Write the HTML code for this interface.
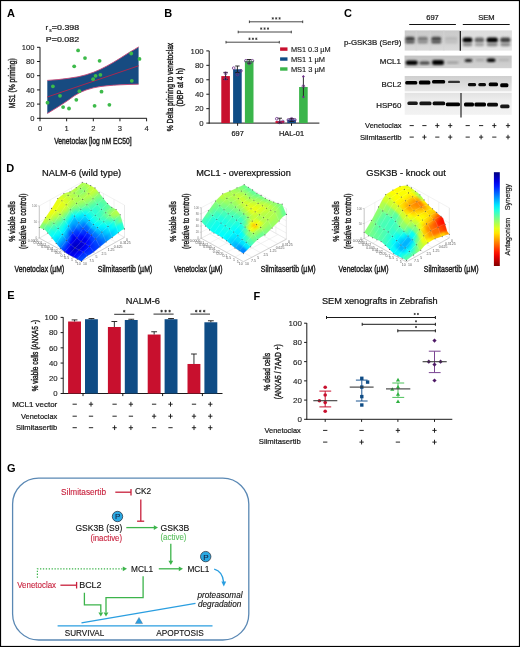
<!DOCTYPE html>
<html><head><meta charset="utf-8"><style>
html,body{margin:0;padding:0;background:#fff;overflow:hidden;}
svg{display:block;}
text{font-family:"Liberation Sans", sans-serif;}
svg{will-change:transform;}
</style></head><body>
<svg width="520" height="647" viewBox="0 0 520 647">
<rect x="0" y="0" width="520" height="647" fill="#fff"/>
<text x="6.90" y="16.80" font-size="11" fill="#000" font-weight="bold">A</text>
<text x="45.60" y="30.30" font-size="7.9" fill="#1a1a1a" stroke="#1a1a1a" stroke-width="0.22">r</text>
<text x="49.20" y="31.80" font-size="4.8" fill="#1a1a1a" stroke="#1a1a1a" stroke-width="0.15">s</text>
<text x="51.80" y="30.30" font-size="7.9" fill="#1a1a1a" stroke="#1a1a1a" stroke-width="0.22" textLength="27.4" lengthAdjust="spacingAndGlyphs">=0.398</text>
<text x="45.80" y="41.90" font-size="7.9" fill="#1a1a1a" stroke="#1a1a1a" stroke-width="0.22" textLength="33.4" lengthAdjust="spacingAndGlyphs">P=0.082</text>
<path d="M47.3,80.4 L58,79.6 L68.5,78.3 L78,76.8 L86,74.8 L93.5,72.3 L100,69.5 L106.9,66 L113.5,62.3 L120.4,58.1 L126,54.5 L130,52 L134.5,49.4 L138.6,46.9 L138.6,84.2 L130,84.4 L120.4,84.8 L113.5,85.2 L106.9,85.8 L100,86.6 L93.5,87.8 L86,90 L80,92.5 L74,96 L68.5,100 L64,103 L58.8,106.4 L53,110 L47.3,113.5 Z" fill="#174b81"/>
<path d="M47.3,80.4 L58,79.6 L68.5,78.3 L78,76.8 L86,74.8 L93.5,72.3 L100,69.5 L106.9,66 L113.5,62.3 L120.4,58.1 L126,54.5 L130,52 L134.5,49.4 L138.6,46.9" fill="none" stroke="#c84a78" stroke-width="0.9"/>
<path d="M47.3,113.5 L53,110 L58.8,106.4 L64,103 L68.5,100 L74,96 L80,92.5 L86,90 L93.5,87.8 L100,86.6 L106.9,85.8 L113.5,85.2 L120.4,84.8 L130,84.4 L138.6,84.2" fill="none" stroke="#c84a78" stroke-width="0.9"/>
<line x1="47.30" y1="97.00" x2="138.60" y2="65.80" stroke="#a8284f" stroke-width="1"/>
<line x1="40.00" y1="47.20" x2="40.00" y2="118.80" stroke="#1a1a1a" stroke-width="1"/>
<line x1="39.50" y1="118.30" x2="146.80" y2="118.30" stroke="#1a1a1a" stroke-width="1"/>
<line x1="37.00" y1="118.30" x2="40.00" y2="118.30" stroke="#1a1a1a" stroke-width="1"/>
<text x="34.40" y="121.00" font-size="7.6" fill="#1a1a1a" stroke="#1a1a1a" stroke-width="0.12" text-anchor="end">0</text>
<line x1="37.00" y1="104.10" x2="40.00" y2="104.10" stroke="#1a1a1a" stroke-width="1"/>
<text x="34.40" y="106.80" font-size="7.6" fill="#1a1a1a" stroke="#1a1a1a" stroke-width="0.12" text-anchor="end">20</text>
<line x1="37.00" y1="89.90" x2="40.00" y2="89.90" stroke="#1a1a1a" stroke-width="1"/>
<text x="34.40" y="92.60" font-size="7.6" fill="#1a1a1a" stroke="#1a1a1a" stroke-width="0.12" text-anchor="end">40</text>
<line x1="37.00" y1="75.70" x2="40.00" y2="75.70" stroke="#1a1a1a" stroke-width="1"/>
<text x="34.40" y="78.40" font-size="7.6" fill="#1a1a1a" stroke="#1a1a1a" stroke-width="0.12" text-anchor="end">60</text>
<line x1="37.00" y1="61.50" x2="40.00" y2="61.50" stroke="#1a1a1a" stroke-width="1"/>
<text x="34.40" y="64.20" font-size="7.6" fill="#1a1a1a" stroke="#1a1a1a" stroke-width="0.12" text-anchor="end">80</text>
<line x1="37.00" y1="47.30" x2="40.00" y2="47.30" stroke="#1a1a1a" stroke-width="1"/>
<text x="34.40" y="50.00" font-size="7.6" fill="#1a1a1a" stroke="#1a1a1a" stroke-width="0.12" text-anchor="end">100</text>
<line x1="40.00" y1="118.30" x2="40.00" y2="121.30" stroke="#1a1a1a" stroke-width="1"/>
<text x="40.00" y="131.00" font-size="7.6" fill="#1a1a1a" stroke="#1a1a1a" stroke-width="0.12" text-anchor="middle">0</text>
<line x1="66.65" y1="118.30" x2="66.65" y2="121.30" stroke="#1a1a1a" stroke-width="1"/>
<text x="66.65" y="131.00" font-size="7.6" fill="#1a1a1a" stroke="#1a1a1a" stroke-width="0.12" text-anchor="middle">1</text>
<line x1="93.30" y1="118.30" x2="93.30" y2="121.30" stroke="#1a1a1a" stroke-width="1"/>
<text x="93.30" y="131.00" font-size="7.6" fill="#1a1a1a" stroke="#1a1a1a" stroke-width="0.12" text-anchor="middle">2</text>
<line x1="119.95" y1="118.30" x2="119.95" y2="121.30" stroke="#1a1a1a" stroke-width="1"/>
<text x="119.95" y="131.00" font-size="7.6" fill="#1a1a1a" stroke="#1a1a1a" stroke-width="0.12" text-anchor="middle">3</text>
<line x1="146.60" y1="118.30" x2="146.60" y2="121.30" stroke="#1a1a1a" stroke-width="1"/>
<text x="146.60" y="131.00" font-size="7.6" fill="#1a1a1a" stroke="#1a1a1a" stroke-width="0.12" text-anchor="middle">4</text>
<text x="54.20" y="144.00" font-size="8.8" fill="#1a1a1a" stroke="#1a1a1a" stroke-width="0.4" textLength="77.4" lengthAdjust="spacingAndGlyphs">Venetoclax [log nM EC50]</text>
<text x="15.00" y="108.20" font-size="8.8" fill="#1a1a1a" stroke="#1a1a1a" stroke-width="0.4" textLength="50" lengthAdjust="spacingAndGlyphs" transform="rotate(-90 15.00 108.20)">MS1 (% priming)</text>
<circle cx="78.10" cy="50.40" r="1.9" fill="#3dba4a"/>
<circle cx="85.00" cy="58.10" r="1.9" fill="#3dba4a"/>
<circle cx="74.20" cy="66.30" r="1.9" fill="#3dba4a"/>
<circle cx="99.60" cy="60.80" r="1.9" fill="#3dba4a"/>
<circle cx="95.60" cy="75.80" r="1.9" fill="#3dba4a"/>
<circle cx="100.40" cy="74.80" r="1.9" fill="#3dba4a"/>
<circle cx="93.10" cy="79.20" r="1.9" fill="#3dba4a"/>
<circle cx="52.90" cy="86.30" r="1.9" fill="#3dba4a"/>
<circle cx="79.40" cy="91.20" r="1.9" fill="#3dba4a"/>
<circle cx="101.50" cy="91.70" r="1.9" fill="#3dba4a"/>
<circle cx="60.00" cy="95.80" r="1.9" fill="#3dba4a"/>
<circle cx="47.50" cy="102.70" r="1.9" fill="#3dba4a"/>
<circle cx="76.30" cy="99.80" r="1.9" fill="#3dba4a"/>
<circle cx="63.10" cy="107.10" r="1.9" fill="#3dba4a"/>
<circle cx="69.00" cy="108.50" r="1.9" fill="#3dba4a"/>
<circle cx="94.60" cy="105.80" r="1.9" fill="#3dba4a"/>
<circle cx="109.40" cy="104.80" r="1.9" fill="#3dba4a"/>
<circle cx="131.20" cy="53.50" r="1.9" fill="#3dba4a"/>
<circle cx="139.50" cy="58.90" r="1.9" fill="#3dba4a"/>
<circle cx="131.80" cy="80.80" r="1.9" fill="#3dba4a"/>
<text x="164.30" y="16.80" font-size="11" fill="#000" font-weight="bold">B</text>
<line x1="209.20" y1="50.90" x2="209.20" y2="123.60" stroke="#1a1a1a" stroke-width="1"/>
<line x1="208.70" y1="123.10" x2="319.40" y2="123.10" stroke="#1a1a1a" stroke-width="1"/>
<line x1="206.30" y1="123.10" x2="209.20" y2="123.10" stroke="#1a1a1a" stroke-width="1"/>
<text x="203.60" y="125.90" font-size="7.8" fill="#1a1a1a" stroke="#1a1a1a" stroke-width="0.12" text-anchor="end">0</text>
<line x1="206.30" y1="108.66" x2="209.20" y2="108.66" stroke="#1a1a1a" stroke-width="1"/>
<text x="203.60" y="111.46" font-size="7.8" fill="#1a1a1a" stroke="#1a1a1a" stroke-width="0.12" text-anchor="end">20</text>
<line x1="206.30" y1="94.22" x2="209.20" y2="94.22" stroke="#1a1a1a" stroke-width="1"/>
<text x="203.60" y="97.02" font-size="7.8" fill="#1a1a1a" stroke="#1a1a1a" stroke-width="0.12" text-anchor="end">40</text>
<line x1="206.30" y1="79.78" x2="209.20" y2="79.78" stroke="#1a1a1a" stroke-width="1"/>
<text x="203.60" y="82.58" font-size="7.8" fill="#1a1a1a" stroke="#1a1a1a" stroke-width="0.12" text-anchor="end">60</text>
<line x1="206.30" y1="65.34" x2="209.20" y2="65.34" stroke="#1a1a1a" stroke-width="1"/>
<text x="203.60" y="68.14" font-size="7.8" fill="#1a1a1a" stroke="#1a1a1a" stroke-width="0.12" text-anchor="end">80</text>
<line x1="206.30" y1="50.90" x2="209.20" y2="50.90" stroke="#1a1a1a" stroke-width="1"/>
<text x="203.60" y="53.70" font-size="7.8" fill="#1a1a1a" stroke="#1a1a1a" stroke-width="0.12" text-anchor="end">100</text>
<line x1="237.60" y1="123.10" x2="237.60" y2="125.80" stroke="#1a1a1a" stroke-width="1"/>
<line x1="291.50" y1="123.10" x2="291.50" y2="125.80" stroke="#1a1a1a" stroke-width="1"/>
<text x="237.60" y="135.70" font-size="7.4" fill="#1a1a1a" stroke="#1a1a1a" stroke-width="0.22" text-anchor="middle">697</text>
<text x="291.50" y="135.70" font-size="7.4" fill="#1a1a1a" stroke="#1a1a1a" stroke-width="0.22" text-anchor="middle">HAL-01</text>
<rect x="221.30" y="76.10" width="8.60" height="47.00" fill="#c8102e"/>
<rect x="233.10" y="69.31" width="8.60" height="53.79" fill="#0f4c85"/>
<rect x="244.90" y="60.86" width="8.60" height="62.24" fill="#3ab54a"/>
<rect x="275.50" y="121.08" width="8.60" height="2.02" fill="#c8102e"/>
<rect x="287.30" y="119.49" width="8.60" height="3.61" fill="#0f4c85"/>
<rect x="299.10" y="87.00" width="8.60" height="36.10" fill="#3ab54a"/>
<line x1="225.60" y1="72.40" x2="225.60" y2="79.50" stroke="#1a1a1a" stroke-width="0.9"/>
<line x1="223.40" y1="72.40" x2="227.80" y2="72.40" stroke="#1a1a1a" stroke-width="0.9"/>
<line x1="223.40" y1="79.50" x2="227.80" y2="79.50" stroke="#1a1a1a" stroke-width="0.9"/>
<circle cx="225.60" cy="73.30" r="1.35" fill="none" stroke="#6b2c86" stroke-width="0.8"/>
<circle cx="225.60" cy="78.80" r="1.35" fill="none" stroke="#6b2c86" stroke-width="0.8"/>
<line x1="237.40" y1="66.00" x2="237.40" y2="72.60" stroke="#1a1a1a" stroke-width="0.9"/>
<line x1="235.20" y1="66.00" x2="239.60" y2="66.00" stroke="#1a1a1a" stroke-width="0.9"/>
<line x1="235.20" y1="72.60" x2="239.60" y2="72.60" stroke="#1a1a1a" stroke-width="0.9"/>
<circle cx="233.70" cy="68.10" r="1.35" fill="none" stroke="#6b2c86" stroke-width="0.8"/>
<circle cx="240.90" cy="70.80" r="1.35" fill="none" stroke="#6b2c86" stroke-width="0.8"/>
<circle cx="237.40" cy="74.50" r="1.35" fill="none" stroke="#6b2c86" stroke-width="0.8"/>
<line x1="249.20" y1="59.50" x2="249.20" y2="63.20" stroke="#1a1a1a" stroke-width="0.9"/>
<line x1="247.00" y1="59.50" x2="251.40" y2="59.50" stroke="#1a1a1a" stroke-width="0.9"/>
<line x1="247.00" y1="63.20" x2="251.40" y2="63.20" stroke="#1a1a1a" stroke-width="0.9"/>
<circle cx="245.90" cy="60.80" r="1.35" fill="none" stroke="#6b2c86" stroke-width="0.8"/>
<circle cx="252.40" cy="60.80" r="1.35" fill="none" stroke="#6b2c86" stroke-width="0.8"/>
<circle cx="249.20" cy="63.30" r="1.35" fill="none" stroke="#6b2c86" stroke-width="0.8"/>
<line x1="279.80" y1="118.20" x2="279.80" y2="123.00" stroke="#1a1a1a" stroke-width="0.9"/>
<line x1="277.60" y1="118.20" x2="282.00" y2="118.20" stroke="#1a1a1a" stroke-width="0.9"/>
<line x1="277.60" y1="123.00" x2="282.00" y2="123.00" stroke="#1a1a1a" stroke-width="0.9"/>
<circle cx="276.80" cy="118.80" r="1.35" fill="none" stroke="#6b2c86" stroke-width="0.8"/>
<circle cx="279.80" cy="122.40" r="1.35" fill="none" stroke="#6b2c86" stroke-width="0.8"/>
<circle cx="282.80" cy="121.50" r="1.35" fill="none" stroke="#6b2c86" stroke-width="0.8"/>
<line x1="291.60" y1="118.50" x2="291.60" y2="121.50" stroke="#1a1a1a" stroke-width="0.9"/>
<line x1="289.40" y1="118.50" x2="293.80" y2="118.50" stroke="#1a1a1a" stroke-width="0.9"/>
<line x1="289.40" y1="121.50" x2="293.80" y2="121.50" stroke="#1a1a1a" stroke-width="0.9"/>
<circle cx="288.40" cy="119.90" r="1.35" fill="none" stroke="#6b2c86" stroke-width="0.8"/>
<circle cx="291.60" cy="118.80" r="1.35" fill="none" stroke="#6b2c86" stroke-width="0.8"/>
<circle cx="294.80" cy="119.80" r="1.35" fill="none" stroke="#6b2c86" stroke-width="0.8"/>
<line x1="303.40" y1="76.30" x2="303.40" y2="97.10" stroke="#1a1a1a" stroke-width="0.9"/>
<path d="M302.0,76.5 L303.4,75.1 L304.79999999999995,76.5 L303.4,77.9 Z" fill="#6b2c86"/>
<path d="M302.0,96.9 L303.4,95.5 L304.79999999999995,96.9 L303.4,98.30000000000001 Z" fill="#6b2c86"/>
<circle cx="303.40" cy="86.20" r="1.35" fill="none" stroke="#6b2c86" stroke-width="0.8"/>
<line x1="249.40" y1="21.80" x2="302.70" y2="21.80" stroke="#333" stroke-width="0.9"/>
<line x1="249.40" y1="20.50" x2="249.40" y2="23.10" stroke="#333" stroke-width="0.9"/>
<line x1="302.70" y1="20.50" x2="302.70" y2="23.10" stroke="#333" stroke-width="0.9"/>
<line x1="272.80" y1="17.20" x2="272.80" y2="19.60" stroke="#333" stroke-width="0.75"/>
<line x1="271.76" y1="17.80" x2="273.84" y2="19.00" stroke="#333" stroke-width="0.75"/>
<line x1="271.76" y1="19.00" x2="273.84" y2="17.80" stroke="#333" stroke-width="0.75"/>
<line x1="276.20" y1="17.20" x2="276.20" y2="19.60" stroke="#333" stroke-width="0.75"/>
<line x1="275.16" y1="17.80" x2="277.24" y2="19.00" stroke="#333" stroke-width="0.75"/>
<line x1="275.16" y1="19.00" x2="277.24" y2="17.80" stroke="#333" stroke-width="0.75"/>
<line x1="279.60" y1="17.20" x2="279.60" y2="19.60" stroke="#333" stroke-width="0.75"/>
<line x1="278.56" y1="17.80" x2="280.64" y2="19.00" stroke="#333" stroke-width="0.75"/>
<line x1="278.56" y1="19.00" x2="280.64" y2="17.80" stroke="#333" stroke-width="0.75"/>
<line x1="238.20" y1="32.00" x2="291.30" y2="32.00" stroke="#333" stroke-width="0.9"/>
<line x1="238.20" y1="30.70" x2="238.20" y2="33.30" stroke="#333" stroke-width="0.9"/>
<line x1="291.30" y1="30.70" x2="291.30" y2="33.30" stroke="#333" stroke-width="0.9"/>
<line x1="261.20" y1="27.40" x2="261.20" y2="29.80" stroke="#333" stroke-width="0.75"/>
<line x1="260.16" y1="28.00" x2="262.24" y2="29.20" stroke="#333" stroke-width="0.75"/>
<line x1="260.16" y1="29.20" x2="262.24" y2="28.00" stroke="#333" stroke-width="0.75"/>
<line x1="264.60" y1="27.40" x2="264.60" y2="29.80" stroke="#333" stroke-width="0.75"/>
<line x1="263.56" y1="28.00" x2="265.64" y2="29.20" stroke="#333" stroke-width="0.75"/>
<line x1="263.56" y1="29.20" x2="265.64" y2="28.00" stroke="#333" stroke-width="0.75"/>
<line x1="268.00" y1="27.40" x2="268.00" y2="29.80" stroke="#333" stroke-width="0.75"/>
<line x1="266.96" y1="28.00" x2="269.04" y2="29.20" stroke="#333" stroke-width="0.75"/>
<line x1="266.96" y1="29.20" x2="269.04" y2="28.00" stroke="#333" stroke-width="0.75"/>
<line x1="226.00" y1="42.20" x2="279.30" y2="42.20" stroke="#333" stroke-width="0.9"/>
<line x1="226.00" y1="40.90" x2="226.00" y2="43.50" stroke="#333" stroke-width="0.9"/>
<line x1="279.30" y1="40.90" x2="279.30" y2="43.50" stroke="#333" stroke-width="0.9"/>
<line x1="249.50" y1="37.60" x2="249.50" y2="40.00" stroke="#333" stroke-width="0.75"/>
<line x1="248.46" y1="38.20" x2="250.54" y2="39.40" stroke="#333" stroke-width="0.75"/>
<line x1="248.46" y1="39.40" x2="250.54" y2="38.20" stroke="#333" stroke-width="0.75"/>
<line x1="252.90" y1="37.60" x2="252.90" y2="40.00" stroke="#333" stroke-width="0.75"/>
<line x1="251.86" y1="38.20" x2="253.94" y2="39.40" stroke="#333" stroke-width="0.75"/>
<line x1="251.86" y1="39.40" x2="253.94" y2="38.20" stroke="#333" stroke-width="0.75"/>
<line x1="256.30" y1="37.60" x2="256.30" y2="40.00" stroke="#333" stroke-width="0.75"/>
<line x1="255.26" y1="38.20" x2="257.34" y2="39.40" stroke="#333" stroke-width="0.75"/>
<line x1="255.26" y1="39.40" x2="257.34" y2="38.20" stroke="#333" stroke-width="0.75"/>
<rect x="280.10" y="47.40" width="7.40" height="3.40" fill="#c8102e"/>
<text x="290.90" y="51.60" font-size="7.6" fill="#1a1a1a" stroke="#1a1a1a" stroke-width="0.15" textLength="39.8" lengthAdjust="spacingAndGlyphs">MS1 0.3 µM</text>
<rect x="280.10" y="57.35" width="7.40" height="3.40" fill="#0f4c85"/>
<text x="290.90" y="61.55" font-size="7.6" fill="#1a1a1a" stroke="#1a1a1a" stroke-width="0.15" textLength="34.2" lengthAdjust="spacingAndGlyphs">MS1 1 µM</text>
<rect x="280.10" y="67.30" width="7.40" height="3.40" fill="#3ab54a"/>
<text x="290.90" y="71.50" font-size="7.6" fill="#1a1a1a" stroke="#1a1a1a" stroke-width="0.15" textLength="34.2" lengthAdjust="spacingAndGlyphs">MS1 3 µM</text>
<text x="172.60" y="131.20" font-size="8.4" fill="#1a1a1a" stroke="#1a1a1a" stroke-width="0.4" textLength="88.4" lengthAdjust="spacingAndGlyphs" transform="rotate(-90 172.60 131.20)">% Delta priming to venetoclax</text>
<text x="182.60" y="106.60" font-size="8.4" fill="#1a1a1a" stroke="#1a1a1a" stroke-width="0.4" textLength="38.6" lengthAdjust="spacingAndGlyphs" transform="rotate(-90 182.60 106.60)">(DBP at 4 h)</text>
<text x="343.90" y="17.20" font-size="11" fill="#000" font-weight="bold">C</text>
<text x="432.50" y="19.80" font-size="7.6" fill="#1a1a1a" stroke="#1a1a1a" stroke-width="0.22" text-anchor="middle">697</text>
<text x="486.40" y="19.80" font-size="7.6" fill="#1a1a1a" stroke="#1a1a1a" stroke-width="0.22" text-anchor="middle">SEM</text>
<line x1="409.20" y1="24.50" x2="455.90" y2="24.50" stroke="#111" stroke-width="1"/>
<line x1="462.80" y1="24.50" x2="509.70" y2="24.50" stroke="#111" stroke-width="1"/>
<text x="401.30" y="44.80" font-size="7.9" fill="#1a1a1a" stroke="#1a1a1a" stroke-width="0.22" text-anchor="end" textLength="57.4" lengthAdjust="spacingAndGlyphs">p-GSK3B (Ser9)</text>
<text x="400.90" y="64.00" font-size="7.9" fill="#1a1a1a" stroke="#1a1a1a" stroke-width="0.22" text-anchor="end">MCL1</text>
<text x="401.30" y="87.00" font-size="7.9" fill="#1a1a1a" stroke="#1a1a1a" stroke-width="0.22" text-anchor="end">BCL2</text>
<text x="401.30" y="108.30" font-size="7.9" fill="#1a1a1a" stroke="#1a1a1a" stroke-width="0.22" text-anchor="end">HSP60</text>
<defs><filter id="blur1" x="-20%" y="-50%" width="140%" height="200%"><feGaussianBlur stdDeviation="1.05"/></filter><filter id="blur2" x="-20%" y="-50%" width="140%" height="200%"><feGaussianBlur stdDeviation="0.7"/></filter></defs>
<defs><linearGradient id="bg1" x1="0" y1="0" x2="0" y2="1"><stop offset="0" stop-color="#c9c9c9"/><stop offset="0.5" stop-color="#d2d2d2"/><stop offset="1" stop-color="#dadada"/></linearGradient><linearGradient id="bg2" x1="0" y1="0" x2="0" y2="1"><stop offset="0" stop-color="#dcdcdc"/><stop offset="1" stop-color="#e6e6e6"/></linearGradient><linearGradient id="bg3" x1="0" y1="0" x2="0" y2="1"><stop offset="0" stop-color="#c4c4c4"/><stop offset="1" stop-color="#d2d2d2"/></linearGradient><linearGradient id="bg4" x1="0" y1="0" x2="0" y2="1"><stop offset="0" stop-color="#cfcfcf"/><stop offset="1" stop-color="#e6e6e6"/></linearGradient><linearGradient id="bg5" x1="0" y1="0" x2="0" y2="1"><stop offset="0" stop-color="#e2e2e2"/><stop offset="0.3" stop-color="#ececec"/><stop offset="1" stop-color="#f2f2f2"/></linearGradient></defs>
<rect x="404.70" y="30.40" width="55.80" height="20.20" fill="url(#bg1)"/>
<rect x="460.50" y="30.40" width="51.40" height="20.20" fill="url(#bg2)"/>
<rect x="404.50" y="55.60" width="107.20" height="12.60" fill="url(#bg3)"/>
<rect x="404.70" y="76.00" width="107.00" height="15.40" fill="url(#bg4)"/>
<rect x="404.70" y="92.80" width="107.00" height="22.00" fill="url(#bg5)"/>
<rect x="415.50" y="30.40" width="1.60" height="20.20" fill="#d4d4d4" opacity="0.5"/>
<rect x="429.60" y="30.40" width="1.60" height="20.20" fill="#d4d4d4" opacity="0.5"/>
<rect x="443.00" y="30.40" width="1.60" height="20.20" fill="#d4d4d4" opacity="0.5"/>
<rect x="405.20" y="36.70" width="9.60" height="4.40" rx="2.2" fill="#404040" opacity="1" filter="url(#blur1)"/>
<rect x="405.20" y="40.40" width="9.60" height="3.20" rx="2.2" fill="#555555" opacity="1" filter="url(#blur1)"/>
<rect x="417.50" y="36.70" width="10.50" height="4.40" rx="2.2" fill="#7a7a7a" opacity="1" filter="url(#blur1)"/>
<rect x="417.50" y="40.40" width="10.50" height="3.20" rx="2.2" fill="#8a8a8a" opacity="1" filter="url(#blur1)"/>
<rect x="431.20" y="36.70" width="10.20" height="4.40" rx="2.2" fill="#4a4a4a" opacity="1" filter="url(#blur1)"/>
<rect x="431.20" y="40.40" width="10.20" height="3.20" rx="2.2" fill="#505050" opacity="1" filter="url(#blur1)"/>
<rect x="444.80" y="36.70" width="12.90" height="4.40" rx="2.2" fill="#bababa" opacity="1" filter="url(#blur1)"/>
<rect x="444.80" y="40.40" width="12.90" height="3.20" rx="2.2" fill="#c0c0c0" opacity="1" filter="url(#blur1)"/>
<rect x="462.60" y="37.50" width="9.80" height="5.00" rx="2.2" fill="#000000" opacity="1" filter="url(#blur1)"/>
<rect x="462.60" y="42.90" width="9.80" height="3.40" rx="2.2" fill="#7a7a7a" opacity="0.9" filter="url(#blur1)"/>
<rect x="474.60" y="37.50" width="9.60" height="5.00" rx="2.2" fill="#686868" opacity="1" filter="url(#blur1)"/>
<rect x="474.60" y="42.90" width="9.60" height="3.40" rx="2.2" fill="#9a9a9a" opacity="0.9" filter="url(#blur1)"/>
<rect x="486.50" y="37.50" width="11.40" height="5.00" rx="2.2" fill="#000000" opacity="1" filter="url(#blur1)"/>
<rect x="486.50" y="42.90" width="11.40" height="3.40" rx="2.2" fill="#7a7a7a" opacity="0.9" filter="url(#blur1)"/>
<rect x="500.20" y="37.50" width="10.20" height="5.00" rx="2.2" fill="#404040" opacity="1" filter="url(#blur1)"/>
<rect x="500.20" y="42.90" width="10.20" height="3.40" rx="2.2" fill="#808080" opacity="0.9" filter="url(#blur1)"/>
<rect x="405.70" y="60.40" width="12.10" height="4.60" rx="2.2" fill="#000000" opacity="1" filter="url(#blur1)"/>
<rect x="419.40" y="61.40" width="10.50" height="3.00" rx="2.2" fill="#3c3c3c" opacity="1" filter="url(#blur1)"/>
<rect x="432.00" y="60.10" width="12.10" height="4.80" rx="2.2" fill="#000000" opacity="1" filter="url(#blur1)"/>
<rect x="446.30" y="61.50" width="12.60" height="2.20" rx="2.2" fill="#9a9a9a" opacity="1" filter="url(#blur1)"/>
<rect x="464.60" y="59.00" width="7.70" height="3.00" rx="2.2" fill="#1c1c1c" opacity="1" filter="url(#blur1)"/>
<rect x="475.50" y="59.10" width="9.00" height="2.20" rx="2.2" fill="#a8a8a8" opacity="1" filter="url(#blur1)"/>
<rect x="486.70" y="58.60" width="8.80" height="3.40" rx="2.2" fill="#000000" opacity="1" filter="url(#blur1)"/>
<rect x="498.50" y="58.90" width="11.00" height="2.20" rx="2.2" fill="#b0b0b0" opacity="1" filter="url(#blur1)"/>
<rect x="405.20" y="80.90" width="12.10" height="3.60" rx="1.5" fill="#000000" opacity="1" filter="url(#blur2)"/>
<rect x="418.90" y="80.60" width="11.50" height="3.80" rx="1.5" fill="#000000" opacity="1" filter="url(#blur2)"/>
<rect x="432.00" y="80.00" width="13.20" height="3.40" rx="1.5" fill="#060606" opacity="1" filter="url(#blur2)"/>
<rect x="448.00" y="80.70" width="12.00" height="2.40" rx="1.5" fill="#303030" opacity="1" filter="url(#blur2)"/>
<rect x="467.90" y="82.90" width="8.20" height="3.40" rx="1.5" fill="#0a0a0a" opacity="1" filter="url(#blur2)"/>
<rect x="478.30" y="82.90" width="7.70" height="3.40" rx="1.5" fill="#0a0a0a" opacity="1" filter="url(#blur2)"/>
<rect x="488.70" y="82.50" width="9.30" height="3.80" rx="1.5" fill="#000000" opacity="1" filter="url(#blur2)"/>
<rect x="500.20" y="83.20" width="8.20" height="4.00" rx="1.5" fill="#000000" opacity="1" filter="url(#blur2)"/>
<rect x="407.40" y="101.50" width="10.40" height="3.60" rx="1.5" fill="#1a1a1a" opacity="1" filter="url(#blur2)"/>
<rect x="419.40" y="101.60" width="12.10" height="3.60" rx="1.5" fill="#181818" opacity="1" filter="url(#blur2)"/>
<rect x="432.60" y="101.50" width="12.60" height="3.80" rx="1.5" fill="#080808" opacity="1" filter="url(#blur2)"/>
<rect x="445.80" y="102.60" width="14.20" height="3.60" rx="1.5" fill="#000000" opacity="1" filter="url(#blur2)"/>
<rect x="464.00" y="102.50" width="10.00" height="4.00" rx="1.5" fill="#000000" opacity="1" filter="url(#blur2)"/>
<rect x="474.40" y="102.50" width="11.60" height="4.00" rx="1.5" fill="#040404" opacity="1" filter="url(#blur2)"/>
<rect x="487.00" y="102.80" width="11.00" height="3.80" rx="1.5" fill="#0c0c0c" opacity="1" filter="url(#blur2)"/>
<rect x="500.20" y="104.60" width="9.30" height="3.60" rx="1.5" fill="#141414" opacity="1" filter="url(#blur2)"/>
<line x1="460.30" y1="31.00" x2="460.30" y2="50.80" stroke="#111" stroke-width="1.2"/>
<line x1="461.00" y1="93.00" x2="461.00" y2="117.40" stroke="#111" stroke-width="1.1"/>
<text x="401.60" y="128.00" font-size="7.9" fill="#1a1a1a" stroke="#1a1a1a" stroke-width="0.22" text-anchor="end" textLength="36.5" lengthAdjust="spacingAndGlyphs">Venetoclax</text>
<text x="401.60" y="139.80" font-size="7.9" fill="#1a1a1a" stroke="#1a1a1a" stroke-width="0.22" text-anchor="end" textLength="41.7" lengthAdjust="spacingAndGlyphs">Silmitasertib</text>
<line x1="409.60" y1="125.60" x2="413.80" y2="125.60" stroke="#1a1a1a" stroke-width="0.95"/>
<line x1="409.60" y1="137.10" x2="413.80" y2="137.10" stroke="#1a1a1a" stroke-width="0.95"/>
<line x1="422.30" y1="125.60" x2="426.50" y2="125.60" stroke="#1a1a1a" stroke-width="0.95"/>
<line x1="422.30" y1="137.10" x2="426.50" y2="137.10" stroke="#1a1a1a" stroke-width="0.95"/>
<line x1="424.40" y1="134.80" x2="424.40" y2="139.40" stroke="#1a1a1a" stroke-width="0.95"/>
<line x1="435.20" y1="125.60" x2="439.40" y2="125.60" stroke="#1a1a1a" stroke-width="0.95"/>
<line x1="437.30" y1="123.30" x2="437.30" y2="127.90" stroke="#1a1a1a" stroke-width="0.95"/>
<line x1="435.20" y1="137.10" x2="439.40" y2="137.10" stroke="#1a1a1a" stroke-width="0.95"/>
<line x1="448.10" y1="125.60" x2="452.30" y2="125.60" stroke="#1a1a1a" stroke-width="0.95"/>
<line x1="450.20" y1="123.30" x2="450.20" y2="127.90" stroke="#1a1a1a" stroke-width="0.95"/>
<line x1="448.10" y1="137.10" x2="452.30" y2="137.10" stroke="#1a1a1a" stroke-width="0.95"/>
<line x1="450.20" y1="134.80" x2="450.20" y2="139.40" stroke="#1a1a1a" stroke-width="0.95"/>
<line x1="465.60" y1="125.60" x2="469.80" y2="125.60" stroke="#1a1a1a" stroke-width="0.95"/>
<line x1="465.60" y1="137.10" x2="469.80" y2="137.10" stroke="#1a1a1a" stroke-width="0.95"/>
<line x1="479.00" y1="125.60" x2="483.20" y2="125.60" stroke="#1a1a1a" stroke-width="0.95"/>
<line x1="479.00" y1="137.10" x2="483.20" y2="137.10" stroke="#1a1a1a" stroke-width="0.95"/>
<line x1="481.10" y1="134.80" x2="481.10" y2="139.40" stroke="#1a1a1a" stroke-width="0.95"/>
<line x1="492.20" y1="125.60" x2="496.40" y2="125.60" stroke="#1a1a1a" stroke-width="0.95"/>
<line x1="494.30" y1="123.30" x2="494.30" y2="127.90" stroke="#1a1a1a" stroke-width="0.95"/>
<line x1="492.20" y1="137.10" x2="496.40" y2="137.10" stroke="#1a1a1a" stroke-width="0.95"/>
<line x1="505.90" y1="125.60" x2="510.10" y2="125.60" stroke="#1a1a1a" stroke-width="0.95"/>
<line x1="508.00" y1="123.30" x2="508.00" y2="127.90" stroke="#1a1a1a" stroke-width="0.95"/>
<line x1="505.90" y1="137.10" x2="510.10" y2="137.10" stroke="#1a1a1a" stroke-width="0.95"/>
<line x1="508.00" y1="134.80" x2="508.00" y2="139.40" stroke="#1a1a1a" stroke-width="0.95"/>
<text x="6.30" y="172.30" font-size="11" fill="#000" font-weight="bold">D</text>
<text x="42.00" y="175.50" font-size="9.1" fill="#111" stroke="#111" stroke-width="0.22" textLength="79.2" lengthAdjust="spacingAndGlyphs">NALM-6 (wild type)</text>
<text x="196.20" y="176.30" font-size="9.1" fill="#111" stroke="#111" stroke-width="0.22" textLength="94.6" lengthAdjust="spacingAndGlyphs">MCL1 - overexpression</text>
<text x="366.20" y="176.30" font-size="9.1" fill="#111" stroke="#111" stroke-width="0.22" textLength="79.6" lengthAdjust="spacingAndGlyphs">GSK3B - knock out</text>
<text x="14.60" y="241.50" font-size="8.8" fill="#1a1a1a" stroke="#1a1a1a" stroke-width="0.4" textLength="40.4" lengthAdjust="spacingAndGlyphs" transform="rotate(-90 14.60 241.50)">% viable cells</text>
<text x="26.10" y="249.00" font-size="8.8" fill="#1a1a1a" stroke="#1a1a1a" stroke-width="0.4" textLength="55.5" lengthAdjust="spacingAndGlyphs" transform="rotate(-90 26.10 249.00)">(relative to control)</text>
<text x="176.40" y="241.50" font-size="8.8" fill="#1a1a1a" stroke="#1a1a1a" stroke-width="0.4" textLength="40.4" lengthAdjust="spacingAndGlyphs" transform="rotate(-90 176.40 241.50)">% viable cells</text>
<text x="188.60" y="249.00" font-size="8.8" fill="#1a1a1a" stroke="#1a1a1a" stroke-width="0.4" textLength="55.5" lengthAdjust="spacingAndGlyphs" transform="rotate(-90 188.60 249.00)">(relative to control)</text>
<text x="339.40" y="241.50" font-size="8.8" fill="#1a1a1a" stroke="#1a1a1a" stroke-width="0.4" textLength="40.4" lengthAdjust="spacingAndGlyphs" transform="rotate(-90 339.40 241.50)">% viable cells</text>
<text x="350.80" y="249.00" font-size="8.8" fill="#1a1a1a" stroke="#1a1a1a" stroke-width="0.4" textLength="55.5" lengthAdjust="spacingAndGlyphs" transform="rotate(-90 350.80 249.00)">(relative to control)</text>
<text x="14.60" y="271.80" font-size="8.8" fill="#1a1a1a" stroke="#1a1a1a" stroke-width="0.4" textLength="49.6" lengthAdjust="spacingAndGlyphs">Venetoclax (µM)</text>
<text x="97.80" y="271.80" font-size="8.8" fill="#1a1a1a" stroke="#1a1a1a" stroke-width="0.4" textLength="54.500000000000014" lengthAdjust="spacingAndGlyphs">Silmitasertib (µM)</text>
<text x="173.90" y="271.80" font-size="8.8" fill="#1a1a1a" stroke="#1a1a1a" stroke-width="0.4" textLength="48.69999999999999" lengthAdjust="spacingAndGlyphs">Venetoclax (µM)</text>
<text x="260.80" y="271.80" font-size="8.8" fill="#1a1a1a" stroke="#1a1a1a" stroke-width="0.4" textLength="54.80000000000001" lengthAdjust="spacingAndGlyphs">Silmitasertib (µM)</text>
<text x="338.60" y="271.80" font-size="8.8" fill="#1a1a1a" stroke="#1a1a1a" stroke-width="0.4" textLength="49.89999999999998" lengthAdjust="spacingAndGlyphs">Venetoclax (µM)</text>
<text x="423.80" y="271.80" font-size="8.8" fill="#1a1a1a" stroke="#1a1a1a" stroke-width="0.4" textLength="54.80000000000001" lengthAdjust="spacingAndGlyphs">Silmitasertib (µM)</text>
<text x="509.60" y="210.20" font-size="7.6" fill="#1a1a1a" stroke="#1a1a1a" stroke-width="0.22" textLength="26.4" lengthAdjust="spacingAndGlyphs" transform="rotate(-90 509.60 210.20)">Synergy</text>
<text x="509.60" y="255.60" font-size="7.6" fill="#1a1a1a" stroke="#1a1a1a" stroke-width="0.22" textLength="37.8" lengthAdjust="spacingAndGlyphs" transform="rotate(-90 509.60 255.60)">Antagonism</text>
<text x="7.30" y="299.40" font-size="11" fill="#000" font-weight="bold">E</text>
<text x="125.80" y="303.90" font-size="9.3" fill="#111" stroke="#111" stroke-width="0.22">NALM-6</text>
<line x1="63.20" y1="317.20" x2="63.20" y2="394.00" stroke="#1a1a1a" stroke-width="1"/>
<line x1="62.70" y1="393.50" x2="222.50" y2="393.50" stroke="#1a1a1a" stroke-width="1"/>
<line x1="60.60" y1="393.50" x2="63.20" y2="393.50" stroke="#1a1a1a" stroke-width="1"/>
<text x="57.60" y="396.30" font-size="7.8" fill="#1a1a1a" stroke="#1a1a1a" stroke-width="0.12" text-anchor="end">0</text>
<line x1="60.60" y1="378.28" x2="63.20" y2="378.28" stroke="#1a1a1a" stroke-width="1"/>
<text x="57.60" y="381.08" font-size="7.8" fill="#1a1a1a" stroke="#1a1a1a" stroke-width="0.12" text-anchor="end">20</text>
<line x1="60.60" y1="363.06" x2="63.20" y2="363.06" stroke="#1a1a1a" stroke-width="1"/>
<text x="57.60" y="365.86" font-size="7.8" fill="#1a1a1a" stroke="#1a1a1a" stroke-width="0.12" text-anchor="end">40</text>
<line x1="60.60" y1="347.84" x2="63.20" y2="347.84" stroke="#1a1a1a" stroke-width="1"/>
<text x="57.60" y="350.64" font-size="7.8" fill="#1a1a1a" stroke="#1a1a1a" stroke-width="0.12" text-anchor="end">60</text>
<line x1="60.60" y1="332.62" x2="63.20" y2="332.62" stroke="#1a1a1a" stroke-width="1"/>
<text x="57.60" y="335.42" font-size="7.8" fill="#1a1a1a" stroke="#1a1a1a" stroke-width="0.12" text-anchor="end">80</text>
<line x1="60.60" y1="317.40" x2="63.20" y2="317.40" stroke="#1a1a1a" stroke-width="1"/>
<text x="57.60" y="320.20" font-size="7.8" fill="#1a1a1a" stroke="#1a1a1a" stroke-width="0.12" text-anchor="end">100</text>
<line x1="83.00" y1="393.50" x2="83.00" y2="396.10" stroke="#1a1a1a" stroke-width="1"/>
<line x1="122.80" y1="393.50" x2="122.80" y2="396.10" stroke="#1a1a1a" stroke-width="1"/>
<line x1="162.60" y1="393.50" x2="162.60" y2="396.10" stroke="#1a1a1a" stroke-width="1"/>
<line x1="202.40" y1="393.50" x2="202.40" y2="396.10" stroke="#1a1a1a" stroke-width="1"/>
<rect x="68.10" y="321.51" width="12.90" height="71.99" fill="#c8102e"/>
<line x1="74.55" y1="319.90" x2="74.55" y2="321.51" stroke="#1a1a1a" stroke-width="0.9"/>
<line x1="71.65" y1="319.90" x2="77.45" y2="319.90" stroke="#1a1a1a" stroke-width="0.9"/>
<rect x="85.00" y="319.23" width="12.90" height="74.27" fill="#0f4c85"/>
<line x1="91.45" y1="318.50" x2="91.45" y2="319.23" stroke="#1a1a1a" stroke-width="0.9"/>
<line x1="88.55" y1="318.50" x2="94.35" y2="318.50" stroke="#1a1a1a" stroke-width="0.9"/>
<rect x="107.90" y="326.99" width="12.90" height="66.51" fill="#c8102e"/>
<line x1="114.35" y1="321.50" x2="114.35" y2="326.99" stroke="#1a1a1a" stroke-width="0.9"/>
<line x1="111.45" y1="321.50" x2="117.25" y2="321.50" stroke="#1a1a1a" stroke-width="0.9"/>
<rect x="124.80" y="319.99" width="12.90" height="73.51" fill="#0f4c85"/>
<line x1="131.25" y1="319.25" x2="131.25" y2="319.99" stroke="#1a1a1a" stroke-width="0.9"/>
<line x1="128.35" y1="319.25" x2="134.15" y2="319.25" stroke="#1a1a1a" stroke-width="0.9"/>
<rect x="147.70" y="334.52" width="12.90" height="58.98" fill="#c8102e"/>
<line x1="154.15" y1="331.75" x2="154.15" y2="334.52" stroke="#1a1a1a" stroke-width="0.9"/>
<line x1="151.25" y1="331.75" x2="157.05" y2="331.75" stroke="#1a1a1a" stroke-width="0.9"/>
<rect x="164.60" y="319.23" width="12.90" height="74.27" fill="#0f4c85"/>
<line x1="171.05" y1="318.50" x2="171.05" y2="319.23" stroke="#1a1a1a" stroke-width="0.9"/>
<line x1="168.15" y1="318.50" x2="173.95" y2="318.50" stroke="#1a1a1a" stroke-width="0.9"/>
<rect x="187.50" y="363.97" width="12.90" height="29.53" fill="#c8102e"/>
<line x1="193.95" y1="354.00" x2="193.95" y2="363.97" stroke="#1a1a1a" stroke-width="0.9"/>
<line x1="191.05" y1="354.00" x2="196.85" y2="354.00" stroke="#1a1a1a" stroke-width="0.9"/>
<rect x="204.40" y="322.27" width="12.90" height="71.23" fill="#0f4c85"/>
<line x1="210.85" y1="320.75" x2="210.85" y2="322.27" stroke="#1a1a1a" stroke-width="0.9"/>
<line x1="207.95" y1="320.75" x2="213.75" y2="320.75" stroke="#1a1a1a" stroke-width="0.9"/>
<line x1="114.20" y1="314.30" x2="134.30" y2="314.30" stroke="#222" stroke-width="0.95"/>
<line x1="124.20" y1="309.90" x2="124.20" y2="312.50" stroke="#222" stroke-width="0.75"/>
<line x1="123.07" y1="310.55" x2="125.33" y2="311.85" stroke="#222" stroke-width="0.75"/>
<line x1="123.07" y1="311.85" x2="125.33" y2="310.55" stroke="#222" stroke-width="0.75"/>
<line x1="153.50" y1="314.10" x2="173.60" y2="314.10" stroke="#222" stroke-width="0.95"/>
<line x1="161.60" y1="309.80" x2="161.60" y2="312.40" stroke="#222" stroke-width="0.75"/>
<line x1="160.47" y1="310.45" x2="162.73" y2="311.75" stroke="#222" stroke-width="0.75"/>
<line x1="160.47" y1="311.75" x2="162.73" y2="310.45" stroke="#222" stroke-width="0.75"/>
<line x1="165.60" y1="309.80" x2="165.60" y2="312.40" stroke="#222" stroke-width="0.75"/>
<line x1="164.47" y1="310.45" x2="166.73" y2="311.75" stroke="#222" stroke-width="0.75"/>
<line x1="164.47" y1="311.75" x2="166.73" y2="310.45" stroke="#222" stroke-width="0.75"/>
<line x1="169.60" y1="309.80" x2="169.60" y2="312.40" stroke="#222" stroke-width="0.75"/>
<line x1="168.47" y1="310.45" x2="170.73" y2="311.75" stroke="#222" stroke-width="0.75"/>
<line x1="168.47" y1="311.75" x2="170.73" y2="310.45" stroke="#222" stroke-width="0.75"/>
<line x1="190.40" y1="314.10" x2="210.00" y2="314.10" stroke="#222" stroke-width="0.95"/>
<line x1="196.20" y1="309.80" x2="196.20" y2="312.40" stroke="#222" stroke-width="0.75"/>
<line x1="195.07" y1="310.45" x2="197.33" y2="311.75" stroke="#222" stroke-width="0.75"/>
<line x1="195.07" y1="311.75" x2="197.33" y2="310.45" stroke="#222" stroke-width="0.75"/>
<line x1="200.20" y1="309.80" x2="200.20" y2="312.40" stroke="#222" stroke-width="0.75"/>
<line x1="199.07" y1="310.45" x2="201.33" y2="311.75" stroke="#222" stroke-width="0.75"/>
<line x1="199.07" y1="311.75" x2="201.33" y2="310.45" stroke="#222" stroke-width="0.75"/>
<line x1="204.20" y1="309.80" x2="204.20" y2="312.40" stroke="#222" stroke-width="0.75"/>
<line x1="203.07" y1="310.45" x2="205.33" y2="311.75" stroke="#222" stroke-width="0.75"/>
<line x1="203.07" y1="311.75" x2="205.33" y2="310.45" stroke="#222" stroke-width="0.75"/>
<text x="37.60" y="391.30" font-size="8.3" fill="#1a1a1a" stroke="#1a1a1a" stroke-width="0.4" textLength="71.3" lengthAdjust="spacingAndGlyphs" transform="rotate(-90 37.60 391.30)">% viable cells (ANXA5 -)</text>
<text x="57.20" y="407.00" font-size="7.6" fill="#1a1a1a" stroke="#1a1a1a" stroke-width="0.22" text-anchor="end" textLength="45.0" lengthAdjust="spacingAndGlyphs">MCL1 vector</text>
<text x="57.20" y="418.60" font-size="7.6" fill="#1a1a1a" stroke="#1a1a1a" stroke-width="0.22" text-anchor="end" textLength="36.2" lengthAdjust="spacingAndGlyphs">Venetoclax</text>
<text x="57.20" y="430.10" font-size="7.6" fill="#1a1a1a" stroke="#1a1a1a" stroke-width="0.22" text-anchor="end" textLength="41.3" lengthAdjust="spacingAndGlyphs">Silmitasertib</text>
<line x1="72.55" y1="404.20" x2="76.85" y2="404.20" stroke="#1a1a1a" stroke-width="0.95"/>
<line x1="88.85" y1="404.20" x2="93.15" y2="404.20" stroke="#1a1a1a" stroke-width="0.95"/>
<line x1="91.00" y1="401.85" x2="91.00" y2="406.55" stroke="#1a1a1a" stroke-width="0.95"/>
<line x1="112.45" y1="404.20" x2="116.75" y2="404.20" stroke="#1a1a1a" stroke-width="0.95"/>
<line x1="128.75" y1="404.20" x2="133.05" y2="404.20" stroke="#1a1a1a" stroke-width="0.95"/>
<line x1="130.90" y1="401.85" x2="130.90" y2="406.55" stroke="#1a1a1a" stroke-width="0.95"/>
<line x1="151.95" y1="404.20" x2="156.25" y2="404.20" stroke="#1a1a1a" stroke-width="0.95"/>
<line x1="168.35" y1="404.20" x2="172.65" y2="404.20" stroke="#1a1a1a" stroke-width="0.95"/>
<line x1="170.50" y1="401.85" x2="170.50" y2="406.55" stroke="#1a1a1a" stroke-width="0.95"/>
<line x1="191.85" y1="404.20" x2="196.15" y2="404.20" stroke="#1a1a1a" stroke-width="0.95"/>
<line x1="208.15" y1="404.20" x2="212.45" y2="404.20" stroke="#1a1a1a" stroke-width="0.95"/>
<line x1="210.30" y1="401.85" x2="210.30" y2="406.55" stroke="#1a1a1a" stroke-width="0.95"/>
<line x1="72.55" y1="416.20" x2="76.85" y2="416.20" stroke="#1a1a1a" stroke-width="0.95"/>
<line x1="88.85" y1="416.20" x2="93.15" y2="416.20" stroke="#1a1a1a" stroke-width="0.95"/>
<line x1="112.45" y1="416.20" x2="116.75" y2="416.20" stroke="#1a1a1a" stroke-width="0.95"/>
<line x1="128.75" y1="416.20" x2="133.05" y2="416.20" stroke="#1a1a1a" stroke-width="0.95"/>
<line x1="151.95" y1="416.20" x2="156.25" y2="416.20" stroke="#1a1a1a" stroke-width="0.95"/>
<line x1="154.10" y1="413.85" x2="154.10" y2="418.55" stroke="#1a1a1a" stroke-width="0.95"/>
<line x1="168.35" y1="416.20" x2="172.65" y2="416.20" stroke="#1a1a1a" stroke-width="0.95"/>
<line x1="170.50" y1="413.85" x2="170.50" y2="418.55" stroke="#1a1a1a" stroke-width="0.95"/>
<line x1="191.85" y1="416.20" x2="196.15" y2="416.20" stroke="#1a1a1a" stroke-width="0.95"/>
<line x1="194.00" y1="413.85" x2="194.00" y2="418.55" stroke="#1a1a1a" stroke-width="0.95"/>
<line x1="208.15" y1="416.20" x2="212.45" y2="416.20" stroke="#1a1a1a" stroke-width="0.95"/>
<line x1="210.30" y1="413.85" x2="210.30" y2="418.55" stroke="#1a1a1a" stroke-width="0.95"/>
<line x1="72.55" y1="427.70" x2="76.85" y2="427.70" stroke="#1a1a1a" stroke-width="0.95"/>
<line x1="88.85" y1="427.70" x2="93.15" y2="427.70" stroke="#1a1a1a" stroke-width="0.95"/>
<line x1="112.45" y1="427.70" x2="116.75" y2="427.70" stroke="#1a1a1a" stroke-width="0.95"/>
<line x1="114.60" y1="425.35" x2="114.60" y2="430.05" stroke="#1a1a1a" stroke-width="0.95"/>
<line x1="128.75" y1="427.70" x2="133.05" y2="427.70" stroke="#1a1a1a" stroke-width="0.95"/>
<line x1="130.90" y1="425.35" x2="130.90" y2="430.05" stroke="#1a1a1a" stroke-width="0.95"/>
<line x1="151.95" y1="427.70" x2="156.25" y2="427.70" stroke="#1a1a1a" stroke-width="0.95"/>
<line x1="168.35" y1="427.70" x2="172.65" y2="427.70" stroke="#1a1a1a" stroke-width="0.95"/>
<line x1="191.85" y1="427.70" x2="196.15" y2="427.70" stroke="#1a1a1a" stroke-width="0.95"/>
<line x1="194.00" y1="425.35" x2="194.00" y2="430.05" stroke="#1a1a1a" stroke-width="0.95"/>
<line x1="208.15" y1="427.70" x2="212.45" y2="427.70" stroke="#1a1a1a" stroke-width="0.95"/>
<line x1="210.30" y1="425.35" x2="210.30" y2="430.05" stroke="#1a1a1a" stroke-width="0.95"/>
<text x="253.60" y="299.50" font-size="11" fill="#000" font-weight="bold">F</text>
<text x="322.00" y="303.80" font-size="9.2" fill="#111" stroke="#111" stroke-width="0.22" textLength="115.6" lengthAdjust="spacingAndGlyphs">SEM xenografts in Zebrafish</text>
<line x1="306.80" y1="323.00" x2="306.80" y2="419.80" stroke="#1a1a1a" stroke-width="1"/>
<line x1="306.30" y1="419.30" x2="452.30" y2="419.30" stroke="#1a1a1a" stroke-width="1"/>
<line x1="304.10" y1="419.30" x2="306.80" y2="419.30" stroke="#1a1a1a" stroke-width="1"/>
<text x="301.90" y="422.20" font-size="8.0" fill="#1a1a1a" stroke="#1a1a1a" stroke-width="0.12" text-anchor="end">0</text>
<line x1="304.10" y1="400.08" x2="306.80" y2="400.08" stroke="#1a1a1a" stroke-width="1"/>
<text x="301.90" y="402.98" font-size="8.0" fill="#1a1a1a" stroke="#1a1a1a" stroke-width="0.12" text-anchor="end">20</text>
<line x1="304.10" y1="380.86" x2="306.80" y2="380.86" stroke="#1a1a1a" stroke-width="1"/>
<text x="301.90" y="383.76" font-size="8.0" fill="#1a1a1a" stroke="#1a1a1a" stroke-width="0.12" text-anchor="end">40</text>
<line x1="304.10" y1="361.64" x2="306.80" y2="361.64" stroke="#1a1a1a" stroke-width="1"/>
<text x="301.90" y="364.54" font-size="8.0" fill="#1a1a1a" stroke="#1a1a1a" stroke-width="0.12" text-anchor="end">60</text>
<line x1="304.10" y1="342.42" x2="306.80" y2="342.42" stroke="#1a1a1a" stroke-width="1"/>
<text x="301.90" y="345.32" font-size="8.0" fill="#1a1a1a" stroke="#1a1a1a" stroke-width="0.12" text-anchor="end">80</text>
<line x1="304.10" y1="323.20" x2="306.80" y2="323.20" stroke="#1a1a1a" stroke-width="1"/>
<text x="301.90" y="326.10" font-size="8.0" fill="#1a1a1a" stroke="#1a1a1a" stroke-width="0.12" text-anchor="end">100</text>
<line x1="325.20" y1="419.30" x2="325.20" y2="421.90" stroke="#1a1a1a" stroke-width="1"/>
<line x1="361.60" y1="419.30" x2="361.60" y2="421.90" stroke="#1a1a1a" stroke-width="1"/>
<line x1="397.90" y1="419.30" x2="397.90" y2="421.90" stroke="#1a1a1a" stroke-width="1"/>
<line x1="434.50" y1="419.30" x2="434.50" y2="421.90" stroke="#1a1a1a" stroke-width="1"/>
<line x1="326.50" y1="317.50" x2="435.40" y2="317.50" stroke="#1a1a1a" stroke-width="1.0"/>
<line x1="326.50" y1="316.00" x2="326.50" y2="319.00" stroke="#1a1a1a" stroke-width="1.0"/>
<line x1="435.40" y1="316.00" x2="435.40" y2="319.00" stroke="#1a1a1a" stroke-width="1.0"/>
<line x1="414.70" y1="312.95" x2="414.70" y2="315.05" stroke="#222" stroke-width="0.65"/>
<line x1="413.79" y1="313.48" x2="415.61" y2="314.52" stroke="#222" stroke-width="0.65"/>
<line x1="413.79" y1="314.52" x2="415.61" y2="313.48" stroke="#222" stroke-width="0.65"/>
<line x1="417.90" y1="312.95" x2="417.90" y2="315.05" stroke="#222" stroke-width="0.65"/>
<line x1="416.99" y1="313.48" x2="418.81" y2="314.52" stroke="#222" stroke-width="0.65"/>
<line x1="416.99" y1="314.52" x2="418.81" y2="313.48" stroke="#222" stroke-width="0.65"/>
<line x1="362.20" y1="324.30" x2="435.40" y2="324.30" stroke="#1a1a1a" stroke-width="1.0"/>
<line x1="362.20" y1="322.80" x2="362.20" y2="325.80" stroke="#1a1a1a" stroke-width="1.0"/>
<line x1="435.40" y1="322.80" x2="435.40" y2="325.80" stroke="#1a1a1a" stroke-width="1.0"/>
<line x1="416.00" y1="320.25" x2="416.00" y2="322.35" stroke="#222" stroke-width="0.65"/>
<line x1="415.09" y1="320.78" x2="416.91" y2="321.82" stroke="#222" stroke-width="0.65"/>
<line x1="415.09" y1="321.82" x2="416.91" y2="320.78" stroke="#222" stroke-width="0.65"/>
<line x1="397.80" y1="330.80" x2="435.40" y2="330.80" stroke="#1a1a1a" stroke-width="1.0"/>
<line x1="397.80" y1="329.30" x2="397.80" y2="332.30" stroke="#1a1a1a" stroke-width="1.0"/>
<line x1="435.40" y1="329.30" x2="435.40" y2="332.30" stroke="#1a1a1a" stroke-width="1.0"/>
<line x1="416.00" y1="325.95" x2="416.00" y2="328.05" stroke="#222" stroke-width="0.65"/>
<line x1="415.09" y1="326.48" x2="416.91" y2="327.52" stroke="#222" stroke-width="0.65"/>
<line x1="415.09" y1="327.52" x2="416.91" y2="326.48" stroke="#222" stroke-width="0.65"/>
<line x1="325.20" y1="391.10" x2="325.20" y2="406.90" stroke="#c8102e" stroke-width="1"/>
<line x1="319.40" y1="391.10" x2="331.20" y2="391.10" stroke="#c8102e" stroke-width="1"/>
<line x1="319.40" y1="406.90" x2="331.20" y2="406.90" stroke="#c8102e" stroke-width="1"/>
<circle cx="325.20" cy="387.20" r="1.8" fill="#c8102e"/>
<circle cx="325.20" cy="395.00" r="1.8" fill="#c8102e"/>
<circle cx="319.40" cy="400.70" r="1.8" fill="#c8102e"/>
<circle cx="325.20" cy="402.60" r="1.8" fill="#c8102e"/>
<circle cx="325.20" cy="411.30" r="1.8" fill="#c8102e"/>
<line x1="313.30" y1="400.70" x2="337.30" y2="400.70" stroke="#3a3a3a" stroke-width="1.1"/>
<line x1="361.80" y1="380.10" x2="361.80" y2="401.00" stroke="#1a5590" stroke-width="1"/>
<line x1="355.90" y1="380.10" x2="367.60" y2="380.10" stroke="#1a5590" stroke-width="1"/>
<line x1="355.90" y1="401.00" x2="367.60" y2="401.00" stroke="#1a5590" stroke-width="1"/>
<rect x="360.10" y="376.60" width="3.40" height="3.40" fill="#0f4c85"/>
<rect x="365.90" y="380.40" width="3.40" height="3.40" fill="#0f4c85"/>
<rect x="360.10" y="385.40" width="3.40" height="3.40" fill="#0f4c85"/>
<rect x="360.10" y="394.90" width="3.40" height="3.40" fill="#0f4c85"/>
<rect x="360.10" y="403.30" width="3.40" height="3.40" fill="#0f4c85"/>
<line x1="349.70" y1="387.10" x2="373.60" y2="387.10" stroke="#3a3a3a" stroke-width="1.1"/>
<line x1="398.00" y1="383.00" x2="398.00" y2="397.40" stroke="#4cc25a" stroke-width="1"/>
<line x1="392.30" y1="383.00" x2="404.20" y2="383.00" stroke="#4cc25a" stroke-width="1"/>
<line x1="392.30" y1="397.40" x2="404.20" y2="397.40" stroke="#4cc25a" stroke-width="1"/>
<path d="M395.9,381.4 L400.1,381.4 L398.0,377.8 Z" fill="#2fb040"/>
<path d="M395.9,388.6 L400.1,388.6 L398.0,385.0 Z" fill="#2fb040"/>
<path d="M390.2,390.8 L394.4,390.8 L392.3,387.2 Z" fill="#2fb040"/>
<path d="M395.9,395.8 L400.1,395.8 L398.0,392.2 Z" fill="#2fb040"/>
<path d="M395.9,403.0 L400.1,403.0 L398.0,399.4 Z" fill="#2fb040"/>
<line x1="386.00" y1="388.90" x2="410.30" y2="388.90" stroke="#3a3a3a" stroke-width="1.1"/>
<line x1="434.50" y1="351.20" x2="434.50" y2="372.60" stroke="#7a4492" stroke-width="1"/>
<line x1="428.80" y1="351.20" x2="440.60" y2="351.20" stroke="#7a4492" stroke-width="1"/>
<line x1="428.80" y1="372.60" x2="440.60" y2="372.60" stroke="#7a4492" stroke-width="1"/>
<path d="M432.4,340.6 L434.5,338.5 L436.6,340.6 L434.5,342.7 Z" fill="#4e1a66"/>
<path d="M426.7,361.7 L428.8,359.6 L430.9,361.7 L428.8,363.8 Z" fill="#4e1a66"/>
<path d="M438.5,361.7 L440.6,359.6 L442.7,361.7 L440.6,363.8 Z" fill="#4e1a66"/>
<path d="M432.4,364.6 L434.5,362.5 L436.6,364.6 L434.5,366.7 Z" fill="#4e1a66"/>
<path d="M432.4,380.5 L434.5,378.4 L436.6,380.5 L434.5,382.6 Z" fill="#4e1a66"/>
<line x1="422.60" y1="361.70" x2="446.70" y2="361.70" stroke="#3a3a3a" stroke-width="1.1"/>
<text x="270.20" y="390.50" font-size="9.3" fill="#1a1a1a" stroke="#1a1a1a" stroke-width="0.4" textLength="37.5" lengthAdjust="spacingAndGlyphs" transform="rotate(-90 270.20 390.50)">% dead cells</text>
<text x="281.40" y="399.30" font-size="9.0" fill="#1a1a1a" stroke="#1a1a1a" stroke-width="0.4" textLength="55.1" lengthAdjust="spacingAndGlyphs" transform="rotate(-90 281.40 399.30)">(ANXA5 / 7AAD +)</text>
<text x="300.80" y="432.70" font-size="7.6" fill="#1a1a1a" stroke="#1a1a1a" stroke-width="0.22" text-anchor="end" textLength="36.3" lengthAdjust="spacingAndGlyphs">Venetoclax</text>
<text x="300.80" y="444.30" font-size="7.6" fill="#1a1a1a" stroke="#1a1a1a" stroke-width="0.22" text-anchor="end" textLength="42.0" lengthAdjust="spacingAndGlyphs">Silmitasertib</text>
<line x1="323.05" y1="430.40" x2="327.35" y2="430.40" stroke="#1a1a1a" stroke-width="0.95"/>
<line x1="323.05" y1="442.10" x2="327.35" y2="442.10" stroke="#1a1a1a" stroke-width="0.95"/>
<line x1="359.45" y1="430.40" x2="363.75" y2="430.40" stroke="#1a1a1a" stroke-width="0.95"/>
<line x1="359.45" y1="442.10" x2="363.75" y2="442.10" stroke="#1a1a1a" stroke-width="0.95"/>
<line x1="361.60" y1="439.75" x2="361.60" y2="444.45" stroke="#1a1a1a" stroke-width="0.95"/>
<line x1="395.75" y1="430.40" x2="400.05" y2="430.40" stroke="#1a1a1a" stroke-width="0.95"/>
<line x1="397.90" y1="428.05" x2="397.90" y2="432.75" stroke="#1a1a1a" stroke-width="0.95"/>
<line x1="395.75" y1="442.10" x2="400.05" y2="442.10" stroke="#1a1a1a" stroke-width="0.95"/>
<line x1="432.35" y1="430.40" x2="436.65" y2="430.40" stroke="#1a1a1a" stroke-width="0.95"/>
<line x1="434.50" y1="428.05" x2="434.50" y2="432.75" stroke="#1a1a1a" stroke-width="0.95"/>
<line x1="432.35" y1="442.10" x2="436.65" y2="442.10" stroke="#1a1a1a" stroke-width="0.95"/>
<line x1="434.50" y1="439.75" x2="434.50" y2="444.45" stroke="#1a1a1a" stroke-width="0.95"/>
<text x="7.10" y="472.10" font-size="11" fill="#000" font-weight="bold">G</text>
<rect x="12.6" y="478.1" width="236.2" height="161.9" rx="26" ry="26" fill="none" stroke="#5a88b4" stroke-width="1.3"/>
<text x="61.10" y="495.20" font-size="8.6" fill="#c8203c" stroke="#c8203c" stroke-width="0.12" textLength="45.0" lengthAdjust="spacingAndGlyphs">Silmitasertib</text>
<line x1="115.30" y1="492.20" x2="131.00" y2="492.20" stroke="#c8203c" stroke-width="1.3"/>
<line x1="131.00" y1="488.90" x2="131.00" y2="495.50" stroke="#c8203c" stroke-width="1.3"/>
<text x="135.00" y="494.40" font-size="8.6" fill="#111" stroke="#111" stroke-width="0.12" textLength="16.2" lengthAdjust="spacingAndGlyphs">CK2</text>
<line x1="140.80" y1="499.60" x2="140.80" y2="521.20" stroke="#c8203c" stroke-width="1.3"/>
<line x1="137.10" y1="521.20" x2="144.20" y2="521.20" stroke="#c8203c" stroke-width="1.3"/>
<circle cx="117.50" cy="516.50" r="5.2" fill="#2aa8e2" stroke="#2a3340" stroke-width="0.75"/>
<text x="117.60" y="519.40" font-size="8.0" fill="#142040" stroke="#142040" stroke-width="0.1" text-anchor="middle">P</text>
<text x="75.40" y="531.30" font-size="8.6" fill="#111" stroke="#111" stroke-width="0.12" textLength="47.0" lengthAdjust="spacingAndGlyphs">GSK3B (S9)</text>
<text x="90.40" y="540.50" font-size="8.6" fill="#c8203c" stroke="#c8203c" stroke-width="0.12" textLength="31.6" lengthAdjust="spacingAndGlyphs">(inactive)</text>
<line x1="126.30" y1="527.60" x2="154.00" y2="527.60" stroke="#3cb44b" stroke-width="1.3"/>
<path d="M158.0,527.6 L153.8,525.2 L153.8,530.0 Z" fill="#3cb44b"/>
<text x="160.40" y="530.70" font-size="8.6" fill="#111" stroke="#111" stroke-width="0.12" textLength="28.9" lengthAdjust="spacingAndGlyphs">GSK3B</text>
<text x="160.40" y="540.40" font-size="8.6" fill="#5cc060" stroke="#5cc060" stroke-width="0.12" textLength="26.1" lengthAdjust="spacingAndGlyphs">(active)</text>
<line x1="170.80" y1="543.80" x2="170.80" y2="561.00" stroke="#3cb44b" stroke-width="1.3"/>
<path d="M170.8,565.0 L168.4,560.8 L173.2,560.8 Z" fill="#3cb44b"/>
<circle cx="205.70" cy="556.60" r="5.2" fill="#2aa8e2" stroke="#2a3340" stroke-width="0.75"/>
<text x="205.80" y="559.50" font-size="8.0" fill="#142040" stroke="#142040" stroke-width="0.1" text-anchor="middle">P</text>
<path d="M37.4,577.8 L37.4,568.8 L123.0,568.8" fill="none" stroke="#3cb44b" stroke-width="1.2" stroke-dasharray="1.3,1.6"/>
<path d="M127.0,568.8 L122.8,566.4 L122.8,571.2 Z" fill="#3cb44b"/>
<text x="131.00" y="572.20" font-size="8.6" fill="#111" stroke="#111" stroke-width="0.12" textLength="22.2" lengthAdjust="spacingAndGlyphs">MCL1</text>
<line x1="158.80" y1="568.80" x2="179.00" y2="568.80" stroke="#3cb44b" stroke-width="1.3"/>
<path d="M183.0,568.8 L178.8,566.4 L178.8,571.2 Z" fill="#3cb44b"/>
<text x="187.40" y="572.30" font-size="8.6" fill="#111" stroke="#111" stroke-width="0.12" textLength="22.1" lengthAdjust="spacingAndGlyphs">MCL1</text>
<path d="M214.2,569.2 Q222.5,571.5 223.6,582.0" fill="none" stroke="#2a9ee0" stroke-width="1.3"/>
<path d="M223.8,586.4 L221.4,581.6 L226.2,581.6 Z" fill="#2a9ee0"/>
<text x="17.20" y="587.50" font-size="8.6" fill="#c8203c" stroke="#c8203c" stroke-width="0.12" textLength="38.9" lengthAdjust="spacingAndGlyphs">Venetoclax</text>
<line x1="60.40" y1="585.20" x2="76.60" y2="585.20" stroke="#c8203c" stroke-width="1.3"/>
<line x1="76.60" y1="581.90" x2="76.60" y2="588.50" stroke="#c8203c" stroke-width="1.3"/>
<text x="79.20" y="588.30" font-size="8.6" fill="#111" stroke="#111" stroke-width="0.12" textLength="22.4" lengthAdjust="spacingAndGlyphs">BCL2</text>
<path d="M84.4,592.8 L84.4,604.8 L100.8,604.8 L100.8,612.5" fill="none" stroke="#3cb44b" stroke-width="1.3"/>
<path d="M100.8,616.6 L98.4,612.4 L103.2,612.4 Z" fill="#3cb44b"/>
<path d="M143.1,576.2 L143.1,597.6 L106.0,597.6 L106.0,612.5" fill="none" stroke="#3cb44b" stroke-width="1.3"/>
<path d="M106.0,616.6 L103.6,612.4 L108.4,612.4 Z" fill="#3cb44b"/>
<text x="197.50" y="597.50" font-size="8.6" fill="#111" stroke="#111" stroke-width="0.12" font-style="italic" textLength="45.0" lengthAdjust="spacingAndGlyphs">proteasomal</text>
<text x="198.00" y="607.00" font-size="8.6" fill="#111" stroke="#111" stroke-width="0.12" font-style="italic" textLength="43.3" lengthAdjust="spacingAndGlyphs">degradation</text>
<line x1="81.50" y1="622.90" x2="195.50" y2="603.30" stroke="#2a9ee0" stroke-width="1.2"/>
<line x1="57.60" y1="625.80" x2="212.50" y2="625.80" stroke="#2a9ee0" stroke-width="1.3"/>
<path d="M139.0,617.4 L142.6,623.6 L135.4,623.6 Z" fill="#2a9ee0" stroke="#246" stroke-width="0.3"/>
<text x="64.80" y="635.90" font-size="8.4" fill="#111" stroke="#111" stroke-width="0.12" textLength="39.4" lengthAdjust="spacingAndGlyphs">SURVIVAL</text>
<text x="156.30" y="636.20" font-size="8.4" fill="#111" stroke="#111" stroke-width="0.12" textLength="47.5" lengthAdjust="spacingAndGlyphs">APOPTOSIS</text>
<defs><filter id="smooth" x="-5%" y="-5%" width="110%" height="110%" color-interpolation-filters="sRGB"><feGaussianBlur stdDeviation="1.0"/><feComponentTransfer><feFuncA type="linear" slope="40"/></feComponentTransfer></filter></defs>
<line x1="39.3" y1="238.1" x2="82.3" y2="214.1" stroke="#dddddd" stroke-width="0.4"/>
<line x1="82.3" y1="214.1" x2="124.5" y2="237.3" stroke="#dddddd" stroke-width="0.4"/>
<line x1="39.3" y1="222.0" x2="82.3" y2="198.0" stroke="#dddddd" stroke-width="0.4"/>
<line x1="82.3" y1="198.0" x2="124.5" y2="221.2" stroke="#dddddd" stroke-width="0.4"/>
<line x1="39.3" y1="205.9" x2="82.3" y2="181.9" stroke="#dddddd" stroke-width="0.4"/>
<line x1="82.3" y1="181.9" x2="124.5" y2="205.1" stroke="#dddddd" stroke-width="0.4"/>
<line x1="39.3" y1="238.1" x2="39.3" y2="205.9" stroke="#dddddd" stroke-width="0.4"/>
<line x1="82.3" y1="214.1" x2="82.3" y2="181.9" stroke="#dddddd" stroke-width="0.4"/>
<line x1="50.0" y1="232.1" x2="50.0" y2="199.9" stroke="#dddddd" stroke-width="0.4"/>
<line x1="92.8" y1="219.9" x2="92.8" y2="187.7" stroke="#dddddd" stroke-width="0.4"/>
<line x1="60.8" y1="226.1" x2="60.8" y2="193.9" stroke="#dddddd" stroke-width="0.4"/>
<line x1="103.4" y1="225.7" x2="103.4" y2="193.5" stroke="#dddddd" stroke-width="0.4"/>
<line x1="71.5" y1="220.1" x2="71.5" y2="187.9" stroke="#dddddd" stroke-width="0.4"/>
<line x1="114.0" y1="231.5" x2="114.0" y2="199.3" stroke="#dddddd" stroke-width="0.4"/>
<line x1="82.3" y1="214.1" x2="82.3" y2="181.9" stroke="#dddddd" stroke-width="0.4"/>
<line x1="124.5" y1="237.3" x2="124.5" y2="205.1" stroke="#dddddd" stroke-width="0.4"/>
<line x1="124.5" y1="237.3" x2="124.5" y2="205.1" stroke="#dddddd" stroke-width="0.4"/>
<line x1="39.3" y1="238.1" x2="82.3" y2="214.1" stroke="#dddddd" stroke-width="0.4"/>
<line x1="39.3" y1="238.1" x2="81.5" y2="261.3" stroke="#dddddd" stroke-width="0.4"/>
<line x1="47.7" y1="242.7" x2="90.7" y2="218.7" stroke="#dddddd" stroke-width="0.4"/>
<line x1="47.9" y1="233.3" x2="90.1" y2="256.5" stroke="#dddddd" stroke-width="0.4"/>
<line x1="56.2" y1="247.4" x2="99.2" y2="223.4" stroke="#dddddd" stroke-width="0.4"/>
<line x1="56.5" y1="228.5" x2="98.7" y2="251.7" stroke="#dddddd" stroke-width="0.4"/>
<line x1="64.6" y1="252.0" x2="107.6" y2="228.0" stroke="#dddddd" stroke-width="0.4"/>
<line x1="65.1" y1="223.7" x2="107.3" y2="246.9" stroke="#dddddd" stroke-width="0.4"/>
<line x1="73.1" y1="256.7" x2="116.1" y2="232.7" stroke="#dddddd" stroke-width="0.4"/>
<line x1="73.7" y1="218.9" x2="115.9" y2="242.1" stroke="#dddddd" stroke-width="0.4"/>
<line x1="81.5" y1="261.3" x2="124.5" y2="237.3" stroke="#dddddd" stroke-width="0.4"/>
<line x1="82.3" y1="214.1" x2="124.5" y2="237.3" stroke="#dddddd" stroke-width="0.4"/>
<line x1="39.3" y1="238.1" x2="81.5" y2="261.3" stroke="#b0b0b0" stroke-width="0.5"/>
<line x1="81.5" y1="261.3" x2="124.5" y2="237.3" stroke="#b0b0b0" stroke-width="0.5"/>
<line x1="39.3" y1="238.1" x2="39.3" y2="205.9" stroke="#9a9a9a" stroke-width="0.5"/>
<line x1="37.8" y1="238.1" x2="39.3" y2="238.1" stroke="#9a9a9a" stroke-width="0.4"/>
<text x="37.1" y="239.1" font-size="3" fill="#777" text-anchor="end">0</text>
<line x1="37.8" y1="222.0" x2="39.3" y2="222.0" stroke="#9a9a9a" stroke-width="0.4"/>
<text x="37.1" y="223.0" font-size="3" fill="#777" text-anchor="end">50</text>
<line x1="37.8" y1="205.9" x2="39.3" y2="205.9" stroke="#9a9a9a" stroke-width="0.4"/>
<text x="37.1" y="206.9" font-size="3" fill="#777" text-anchor="end">100</text>
<clipPath id="cp39"><polygon points="39.3,227.5 41.4,228.4 43.5,229.3 45.6,230.6 47.7,233.0 49.8,235.4 52.0,238.1 54.1,240.8 56.2,243.5 58.3,246.0 60.4,248.5 62.5,250.2 64.6,251.9 66.7,253.4 68.8,254.8 71.0,256.0 73.1,257.1 75.2,258.1 77.3,259.2 79.4,260.3 81.5,261.5 84.6,258.6 87.6,255.8 90.7,254.2 93.8,252.0 96.9,249.4 99.9,246.9 103.0,244.4 106.1,241.9 109.1,239.8 112.2,237.6 115.3,235.2 118.4,232.8 121.4,230.4 124.5,228.9 122.4,221.8 120.3,214.7 118.2,212.1 116.1,209.5 114.0,208.3 111.8,207.2 109.7,205.4 107.6,203.5 105.5,200.9 103.4,198.3 101.3,195.6 99.2,192.8 97.1,190.3 95.0,187.9 92.8,186.7 90.7,185.6 88.6,184.4 86.5,183.3 84.4,182.9 82.3,182.5 79.2,185.1 76.2,187.6 73.1,189.6 70.0,191.7 66.9,192.6 63.9,193.5 60.8,196.0 57.7,198.5 54.7,203.5 51.6,208.4 48.5,213.0 45.4,217.6 42.4,222.5"/></clipPath>
<g clip-path="url(#cp39)" filter="url(#smooth)">
<polygon points="79.2,185.1 81.3,185.5 84.4,182.9 82.3,182.5" fill="#acff53" stroke="#acff53" stroke-width="0.4"/>
<polygon points="81.3,185.5 83.4,185.8 86.5,183.3 84.4,182.9" fill="#afff50" stroke="#afff50" stroke-width="0.4"/>
<polygon points="76.2,187.6 78.3,188.1 81.3,185.5 79.2,185.1" fill="#b5ff4a" stroke="#b5ff4a" stroke-width="0.4"/>
<polygon points="83.4,185.8 85.6,187.0 88.6,184.4 86.5,183.3" fill="#aeff51" stroke="#aeff51" stroke-width="0.4"/>
<polygon points="78.3,188.1 80.4,188.5 83.4,185.8 81.3,185.5" fill="#abff54" stroke="#abff54" stroke-width="0.4"/>
<polygon points="73.1,189.6 75.2,190.2 78.3,188.1 76.2,187.6" fill="#beff41" stroke="#beff41" stroke-width="0.4"/>
<polygon points="85.6,187.0 87.7,188.2 90.7,185.6 88.6,184.4" fill="#b2ff4d" stroke="#b2ff4d" stroke-width="0.4"/>
<polygon points="80.4,188.5 82.5,189.7 85.6,187.0 83.4,185.8" fill="#9dff62" stroke="#9dff62" stroke-width="0.4"/>
<polygon points="75.2,190.2 77.3,190.8 80.4,188.5 78.3,188.1" fill="#aaff55" stroke="#aaff55" stroke-width="0.4"/>
<polygon points="87.7,188.2 89.8,189.5 92.8,186.7 90.7,185.6" fill="#beff41" stroke="#beff41" stroke-width="0.4"/>
<polygon points="70.0,191.7 72.1,192.3 75.2,190.2 73.1,189.6" fill="#bcff43" stroke="#bcff43" stroke-width="0.4"/>
<polygon points="82.5,189.7 84.6,191.1 87.7,188.2 85.6,187.0" fill="#97ff68" stroke="#97ff68" stroke-width="0.4"/>
<polygon points="77.3,190.8 79.4,192.0 82.5,189.7 80.4,188.5" fill="#95ff6a" stroke="#95ff6a" stroke-width="0.4"/>
<polygon points="89.8,189.5 91.9,190.7 95.0,187.9 92.8,186.7" fill="#ccff33" stroke="#ccff33" stroke-width="0.4"/>
<polygon points="72.1,192.3 74.2,193.0 77.3,190.8 75.2,190.2" fill="#adff52" stroke="#adff52" stroke-width="0.4"/>
<polygon points="84.6,191.1 86.7,192.4 89.8,189.5 87.7,188.2" fill="#a4ff5b" stroke="#a4ff5b" stroke-width="0.4"/>
<polygon points="66.9,192.6 69.1,193.4 72.1,192.3 70.0,191.7" fill="#baff45" stroke="#baff45" stroke-width="0.4"/>
<polygon points="79.4,192.0 81.5,193.5 84.6,191.1 82.5,189.7" fill="#88ff77" stroke="#88ff77" stroke-width="0.4"/>
<polygon points="91.9,190.7 94.0,193.2 97.1,190.3 95.0,187.9" fill="#c8ff37" stroke="#c8ff37" stroke-width="0.4"/>
<polygon points="74.2,193.0 76.3,194.3 79.4,192.0 77.3,190.8" fill="#9fff60" stroke="#9fff60" stroke-width="0.4"/>
<polygon points="86.7,192.4 88.8,193.8 91.9,190.7 89.8,189.5" fill="#bdff42" stroke="#bdff42" stroke-width="0.4"/>
<polygon points="69.1,193.4 71.2,194.2 74.2,193.0 72.1,192.3" fill="#b2ff4d" stroke="#b2ff4d" stroke-width="0.4"/>
<polygon points="81.5,193.5 83.6,195.1 86.7,192.4 84.6,191.1" fill="#93ff6c" stroke="#93ff6c" stroke-width="0.4"/>
<polygon points="94.0,193.2 96.1,195.6 99.2,192.8 97.1,190.3" fill="#aeff51" stroke="#aeff51" stroke-width="0.4"/>
<polygon points="63.9,193.5 66.0,194.4 69.1,193.4 66.9,192.6" fill="#bbff44" stroke="#bbff44" stroke-width="0.4"/>
<polygon points="76.3,194.3 78.5,196.0 81.5,193.5 79.4,192.0" fill="#9aff65" stroke="#9aff65" stroke-width="0.4"/>
<polygon points="88.8,193.8 90.9,196.3 94.0,193.2 91.9,190.7" fill="#c3ff3c" stroke="#c3ff3c" stroke-width="0.4"/>
<polygon points="71.2,194.2 73.3,195.7 76.3,194.3 74.2,193.0" fill="#acff53" stroke="#acff53" stroke-width="0.4"/>
<polygon points="83.6,195.1 85.7,196.6 88.8,193.8 86.7,192.4" fill="#aeff51" stroke="#aeff51" stroke-width="0.4"/>
<polygon points="96.1,195.6 98.2,198.3 101.3,195.6 99.2,192.8" fill="#8cff73" stroke="#8cff73" stroke-width="0.4"/>
<polygon points="66.0,194.4 68.1,195.4 71.2,194.2 69.1,193.4" fill="#b8ff47" stroke="#b8ff47" stroke-width="0.4"/>
<polygon points="78.5,196.0 80.6,197.7 83.6,195.1 81.5,193.5" fill="#a0ff5f" stroke="#a0ff5f" stroke-width="0.4"/>
<polygon points="90.9,196.3 93.0,198.8 96.1,195.6 94.0,193.2" fill="#a8ff57" stroke="#a8ff57" stroke-width="0.4"/>
<polygon points="60.8,196.0 62.9,197.0 66.0,194.4 63.9,193.5" fill="#c5ff3a" stroke="#c5ff3a" stroke-width="0.4"/>
<polygon points="73.3,195.7 75.4,197.5 78.5,196.0 76.3,194.3" fill="#a9ff56" stroke="#a9ff56" stroke-width="0.4"/>
<polygon points="85.7,196.6 87.9,199.2 90.9,196.3 88.8,193.8" fill="#b6ff49" stroke="#b6ff49" stroke-width="0.4"/>
<polygon points="98.2,198.3 100.3,201.1 103.4,198.3 101.3,195.6" fill="#70ff8f" stroke="#70ff8f" stroke-width="0.4"/>
<polygon points="68.1,195.4 70.2,197.0 73.3,195.7 71.2,194.2" fill="#b7ff48" stroke="#b7ff48" stroke-width="0.4"/>
<polygon points="80.6,197.7 82.7,199.4 85.7,196.6 83.6,195.1" fill="#adff52" stroke="#adff52" stroke-width="0.4"/>
<polygon points="93.0,198.8 95.1,201.6 98.2,198.3 96.1,195.6" fill="#7fff80" stroke="#7fff80" stroke-width="0.4"/>
<polygon points="62.9,197.0 65.0,198.1 68.1,195.4 66.0,194.4" fill="#c5ff3a" stroke="#c5ff3a" stroke-width="0.4"/>
<polygon points="75.4,197.5 77.5,199.4 80.6,197.7 78.5,196.0" fill="#aaff55" stroke="#aaff55" stroke-width="0.4"/>
<polygon points="87.9,199.2 90.0,201.7 93.0,198.8 90.9,196.3" fill="#9fff60" stroke="#9fff60" stroke-width="0.4"/>
<polygon points="100.3,201.1 102.4,203.6 105.5,200.9 103.4,198.3" fill="#60ff9f" stroke="#60ff9f" stroke-width="0.4"/>
<polygon points="57.7,198.5 59.8,199.6 62.9,197.0 60.8,196.0" fill="#d8ff27" stroke="#d8ff27" stroke-width="0.4"/>
<polygon points="70.2,197.0 72.3,199.0 75.4,197.5 73.3,195.7" fill="#b7ff48" stroke="#b7ff48" stroke-width="0.4"/>
<polygon points="82.7,199.4 84.8,202.1 87.9,199.2 85.7,196.6" fill="#abff54" stroke="#abff54" stroke-width="0.4"/>
<polygon points="95.1,201.6 97.3,204.3 100.3,201.1 98.2,198.3" fill="#5fffa0" stroke="#5fffa0" stroke-width="0.4"/>
<polygon points="65.0,198.1 67.1,199.7 70.2,197.0 68.1,195.4" fill="#c7ff38" stroke="#c7ff38" stroke-width="0.4"/>
<polygon points="77.5,199.4 79.6,201.3 82.7,199.4 80.6,197.7" fill="#abff54" stroke="#abff54" stroke-width="0.4"/>
<polygon points="90.0,201.7 92.1,204.5 95.1,201.6 93.0,198.8" fill="#79ff86" stroke="#79ff86" stroke-width="0.4"/>
<polygon points="102.4,203.6 104.5,206.1 107.6,203.5 105.5,200.9" fill="#5bffa4" stroke="#5bffa4" stroke-width="0.4"/>
<polygon points="59.8,199.6 61.9,200.8 65.0,198.1 62.9,197.0" fill="#d9ff26" stroke="#d9ff26" stroke-width="0.4"/>
<polygon points="72.3,199.0 74.4,201.1 77.5,199.4 75.4,197.5" fill="#b3ff4c" stroke="#b3ff4c" stroke-width="0.4"/>
<polygon points="84.8,202.1 86.9,204.7 90.0,201.7 87.9,199.2" fill="#92ff6d" stroke="#92ff6d" stroke-width="0.4"/>
<polygon points="97.3,204.3 99.4,206.8 102.4,203.6 100.3,201.1" fill="#4fffb0" stroke="#4fffb0" stroke-width="0.4"/>
<polygon points="54.7,203.5 56.8,204.5 59.8,199.6 57.7,198.5" fill="#e7ff18" stroke="#e7ff18" stroke-width="0.4"/>
<polygon points="67.1,199.7 69.2,201.9 72.3,199.0 70.2,197.0" fill="#c5ff3a" stroke="#c5ff3a" stroke-width="0.4"/>
<polygon points="79.6,201.3 81.7,204.2 84.8,202.1 82.7,199.4" fill="#a2ff5d" stroke="#a2ff5d" stroke-width="0.4"/>
<polygon points="92.1,204.5 94.2,207.3 97.3,204.3 95.1,201.6" fill="#56ffa9" stroke="#56ffa9" stroke-width="0.4"/>
<polygon points="104.5,206.1 106.7,207.9 109.7,205.4 107.6,203.5" fill="#5effa1" stroke="#5effa1" stroke-width="0.4"/>
<polygon points="61.9,200.8 64.1,202.4 67.1,199.7 65.0,198.1" fill="#daff25" stroke="#daff25" stroke-width="0.4"/>
<polygon points="74.4,201.1 76.5,203.3 79.6,201.3 77.5,199.4" fill="#acff53" stroke="#acff53" stroke-width="0.4"/>
<polygon points="86.9,204.7 89.0,207.5 92.1,204.5 90.0,201.7" fill="#6cff93" stroke="#6cff93" stroke-width="0.4"/>
<polygon points="99.4,206.8 101.5,209.3 104.5,206.1 102.4,203.6" fill="#4cffb3" stroke="#4cffb3" stroke-width="0.4"/>
<polygon points="56.8,204.5 58.9,205.6 61.9,200.8 59.8,199.6" fill="#e7ff18" stroke="#e7ff18" stroke-width="0.4"/>
<polygon points="69.2,201.9 71.3,204.1 74.4,201.1 72.3,199.0" fill="#bdff42" stroke="#bdff42" stroke-width="0.4"/>
<polygon points="81.7,204.2 83.8,206.9 86.9,204.7 84.8,202.1" fill="#85ff7a" stroke="#85ff7a" stroke-width="0.4"/>
<polygon points="94.2,207.3 96.3,209.7 99.4,206.8 97.3,204.3" fill="#40ffbf" stroke="#40ffbf" stroke-width="0.4"/>
<polygon points="106.7,207.9 108.8,209.7 111.8,207.2 109.7,205.4" fill="#68ff97" stroke="#68ff97" stroke-width="0.4"/>
<polygon points="51.6,208.4 53.7,209.4 56.8,204.5 54.7,203.5" fill="#efff10" stroke="#efff10" stroke-width="0.4"/>
<polygon points="64.1,202.4 66.2,204.8 69.2,201.9 67.1,199.7" fill="#d6ff29" stroke="#d6ff29" stroke-width="0.4"/>
<polygon points="76.5,203.3 78.6,206.3 81.7,204.2 79.6,201.3" fill="#9bff64" stroke="#9bff64" stroke-width="0.4"/>
<polygon points="89.0,207.5 91.1,210.3 94.2,207.3 92.1,204.5" fill="#48ffb7" stroke="#48ffb7" stroke-width="0.4"/>
<polygon points="101.5,209.3 103.6,211.0 106.7,207.9 104.5,206.1" fill="#53ffac" stroke="#53ffac" stroke-width="0.4"/>
<polygon points="58.9,205.6 61.0,207.2 64.1,202.4 61.9,200.8" fill="#e7ff18" stroke="#e7ff18" stroke-width="0.4"/>
<polygon points="71.3,204.1 73.5,206.5 76.5,203.3 74.4,201.1" fill="#acff53" stroke="#acff53" stroke-width="0.4"/>
<polygon points="83.8,206.9 85.9,209.8 89.0,207.5 86.9,204.7" fill="#5cffa3" stroke="#5cffa3" stroke-width="0.4"/>
<polygon points="96.3,209.7 98.4,212.2 101.5,209.3 99.4,206.8" fill="#3bffc4" stroke="#3bffc4" stroke-width="0.4"/>
<polygon points="108.8,209.7 110.9,210.8 114.0,208.3 111.8,207.2" fill="#79ff86" stroke="#79ff86" stroke-width="0.4"/>
<polygon points="53.7,209.4 55.8,210.5 58.9,205.6 56.8,204.5" fill="#ecff13" stroke="#ecff13" stroke-width="0.4"/>
<polygon points="66.2,204.8 68.3,207.2 71.3,204.1 69.2,201.9" fill="#c7ff38" stroke="#c7ff38" stroke-width="0.4"/>
<polygon points="78.6,206.3 80.8,209.2 83.8,206.9 81.7,204.2" fill="#7aff85" stroke="#7aff85" stroke-width="0.4"/>
<polygon points="91.1,210.3 93.2,212.8 96.3,209.7 94.2,207.3" fill="#2fffd0" stroke="#2fffd0" stroke-width="0.4"/>
<polygon points="103.6,211.0 105.7,212.8 108.8,209.7 106.7,207.9" fill="#64ff9b" stroke="#64ff9b" stroke-width="0.4"/>
<polygon points="48.5,213.0 50.6,214.0 53.7,209.4 51.6,208.4" fill="#f1ff0e" stroke="#f1ff0e" stroke-width="0.4"/>
<polygon points="61.0,207.2 63.1,209.6 66.2,204.8 64.1,202.4" fill="#dfff20" stroke="#dfff20" stroke-width="0.4"/>
<polygon points="73.5,206.5 75.6,209.6 78.6,206.3 76.5,203.3" fill="#8eff71" stroke="#8eff71" stroke-width="0.4"/>
<polygon points="85.9,209.8 88.0,212.7 91.1,210.3 89.0,207.5" fill="#37ffc8" stroke="#37ffc8" stroke-width="0.4"/>
<polygon points="98.4,212.2 100.5,214.0 103.6,211.0 101.5,209.3" fill="#44ffbb" stroke="#44ffbb" stroke-width="0.4"/>
<polygon points="110.9,210.8 113.0,212.0 116.1,209.5 114.0,208.3" fill="#96ff69" stroke="#96ff69" stroke-width="0.4"/>
<polygon points="55.8,210.5 57.9,212.0 61.0,207.2 58.9,205.6" fill="#e7ff18" stroke="#e7ff18" stroke-width="0.4"/>
<polygon points="68.3,207.2 70.4,209.7 73.5,206.5 71.3,204.1" fill="#a8ff57" stroke="#a8ff57" stroke-width="0.4"/>
<polygon points="80.8,209.2 82.9,212.2 85.9,209.8 83.8,206.9" fill="#47ffb8" stroke="#47ffb8" stroke-width="0.4"/>
<polygon points="93.2,212.8 95.3,215.2 98.4,212.2 96.3,209.7" fill="#2affd5" stroke="#2affd5" stroke-width="0.4"/>
<polygon points="105.7,212.8 107.8,214.0 110.9,210.8 108.8,209.7" fill="#7cff83" stroke="#7cff83" stroke-width="0.4"/>
<polygon points="50.6,214.0 52.7,215.0 55.8,210.5 53.7,209.4" fill="#ebff14" stroke="#ebff14" stroke-width="0.4"/>
<polygon points="63.1,209.6 65.2,212.0 68.3,207.2 66.2,204.8" fill="#cbff34" stroke="#cbff34" stroke-width="0.4"/>
<polygon points="75.6,209.6 77.7,212.6 80.8,209.2 78.6,206.3" fill="#63ff9c" stroke="#63ff9c" stroke-width="0.4"/>
<polygon points="88.0,212.7 90.2,215.3 93.2,212.8 91.1,210.3" fill="#25ffda" stroke="#25ffda" stroke-width="0.4"/>
<polygon points="100.5,214.0 102.6,215.9 105.7,212.8 103.6,211.0" fill="#53ffac" stroke="#53ffac" stroke-width="0.4"/>
<polygon points="113.0,212.0 115.1,214.5 118.2,212.1 116.1,209.5" fill="#b8ff47" stroke="#b8ff47" stroke-width="0.4"/>
<polygon points="45.4,217.6 47.6,218.6 50.6,214.0 48.5,213.0" fill="#e6ff19" stroke="#e6ff19" stroke-width="0.4"/>
<polygon points="57.9,212.0 60.0,214.4 63.1,209.6 61.0,207.2" fill="#d5ff2a" stroke="#d5ff2a" stroke-width="0.4"/>
<polygon points="70.4,209.7 72.5,213.0 75.6,209.6 73.5,206.5" fill="#70ff8f" stroke="#70ff8f" stroke-width="0.4"/>
<polygon points="82.9,212.2 85.0,215.3 88.0,212.7 85.9,209.8" fill="#17ffe8" stroke="#17ffe8" stroke-width="0.4"/>
<polygon points="95.3,215.2 97.4,217.1 100.5,214.0 98.4,212.2" fill="#33ffcc" stroke="#33ffcc" stroke-width="0.4"/>
<polygon points="107.8,214.0 109.9,215.2 113.0,212.0 110.9,210.8" fill="#99ff66" stroke="#99ff66" stroke-width="0.4"/>
<polygon points="52.7,215.0 54.8,216.5 57.9,212.0 55.8,210.5" fill="#dcff23" stroke="#dcff23" stroke-width="0.4"/>
<polygon points="65.2,212.0 67.3,214.7 70.4,209.7 68.3,207.2" fill="#a0ff5f" stroke="#a0ff5f" stroke-width="0.4"/>
<polygon points="77.7,212.6 79.8,215.8 82.9,212.2 80.8,209.2" fill="#26ffd9" stroke="#26ffd9" stroke-width="0.4"/>
<polygon points="90.2,215.3 92.3,217.8 95.3,215.2 93.2,212.8" fill="#23ffdc" stroke="#23ffdc" stroke-width="0.4"/>
<polygon points="102.6,215.9 104.7,217.2 107.8,214.0 105.7,212.8" fill="#65ff9a" stroke="#65ff9a" stroke-width="0.4"/>
<polygon points="115.1,214.5 117.2,217.0 120.3,214.7 118.2,212.1" fill="#b2ff4d" stroke="#b2ff4d" stroke-width="0.4"/>
<polygon points="47.6,218.6 49.7,219.5 52.7,215.0 50.6,214.0" fill="#dbff24" stroke="#dbff24" stroke-width="0.4"/>
<polygon points="60.0,214.4 62.1,216.9 65.2,212.0 63.1,209.6" fill="#b3ff4c" stroke="#b3ff4c" stroke-width="0.4"/>
<polygon points="72.5,213.0 74.6,216.1 77.7,212.6 75.6,209.6" fill="#2fffd0" stroke="#2fffd0" stroke-width="0.4"/>
<polygon points="85.0,215.3 87.1,217.9 90.2,215.3 88.0,212.7" fill="#00f9ff" stroke="#00f9ff" stroke-width="0.4"/>
<polygon points="97.4,217.1 99.6,219.0 102.6,215.9 100.5,214.0" fill="#3dffc2" stroke="#3dffc2" stroke-width="0.4"/>
<polygon points="109.9,215.2 112.0,217.7 115.1,214.5 113.0,212.0" fill="#acff53" stroke="#acff53" stroke-width="0.4"/>
<polygon points="42.4,222.5 44.5,223.5 47.6,218.6 45.4,217.6" fill="#c5ff3a" stroke="#c5ff3a" stroke-width="0.4"/>
<polygon points="54.8,216.5 57.0,218.9 60.0,214.4 57.9,212.0" fill="#bdff42" stroke="#bdff42" stroke-width="0.4"/>
<polygon points="67.3,214.7 69.4,217.9 72.5,213.0 70.4,209.7" fill="#54ffab" stroke="#54ffab" stroke-width="0.4"/>
<polygon points="79.8,215.8 81.9,218.9 85.0,215.3 82.9,212.2" fill="#00eeff" stroke="#00eeff" stroke-width="0.4"/>
<polygon points="92.3,217.8 94.4,219.7 97.4,217.1 95.3,215.2" fill="#25ffda" stroke="#25ffda" stroke-width="0.4"/>
<polygon points="104.7,217.2 106.8,218.4 109.9,215.2 107.8,214.0" fill="#70ff8f" stroke="#70ff8f" stroke-width="0.4"/>
<polygon points="117.2,217.0 119.3,223.7 122.4,221.8 120.3,214.7" fill="#78ff87" stroke="#78ff87" stroke-width="0.4"/>
<polygon points="49.7,219.5 51.8,220.9 54.8,216.5 52.7,215.0" fill="#c2ff3d" stroke="#c2ff3d" stroke-width="0.4"/>
<polygon points="62.1,216.9 64.2,219.6 67.3,214.7 65.2,212.0" fill="#81ff7e" stroke="#81ff7e" stroke-width="0.4"/>
<polygon points="74.6,216.1 76.7,219.4 79.8,215.8 77.7,212.6" fill="#00fbff" stroke="#00fbff" stroke-width="0.4"/>
<polygon points="87.1,217.9 89.2,220.5 92.3,217.8 90.2,215.3" fill="#00f8ff" stroke="#00f8ff" stroke-width="0.4"/>
<polygon points="99.6,219.0 101.7,220.3 104.7,217.2 102.6,215.9" fill="#44ffbb" stroke="#44ffbb" stroke-width="0.4"/>
<polygon points="112.0,217.7 114.1,220.2 117.2,217.0 115.1,214.5" fill="#93ff6c" stroke="#93ff6c" stroke-width="0.4"/>
<polygon points="44.5,223.5 46.6,224.4 49.7,219.5 47.6,218.6" fill="#b4ff4b" stroke="#b4ff4b" stroke-width="0.4"/>
<polygon points="57.0,218.9 59.1,221.4 62.1,216.9 60.0,214.4" fill="#93ff6c" stroke="#93ff6c" stroke-width="0.4"/>
<polygon points="69.4,217.9 71.5,221.1 74.6,216.1 72.5,213.0" fill="#00faff" stroke="#00faff" stroke-width="0.4"/>
<polygon points="81.9,218.9 84.0,221.6 87.1,217.9 85.0,215.3" fill="#00ceff" stroke="#00ceff" stroke-width="0.4"/>
<polygon points="94.4,219.7 96.5,221.7 99.6,219.0 97.4,217.1" fill="#28ffd7" stroke="#28ffd7" stroke-width="0.4"/>
<polygon points="106.8,218.4 109.0,220.8 112.0,217.7 109.9,215.2" fill="#6bff94" stroke="#6bff94" stroke-width="0.4"/>
<polygon points="119.3,223.7 121.4,230.4 124.5,228.9 122.4,221.8" fill="#2cffd3" stroke="#2cffd3" stroke-width="0.4"/>
<polygon points="39.3,227.5 41.4,228.4 44.5,223.5 42.4,222.5" fill="#93ff6c" stroke="#93ff6c" stroke-width="0.4"/>
<polygon points="51.8,220.9 53.9,223.3 57.0,218.9 54.8,216.5" fill="#9cff63" stroke="#9cff63" stroke-width="0.4"/>
<polygon points="64.2,219.6 66.4,222.8 69.4,217.9 67.3,214.7" fill="#3effc1" stroke="#3effc1" stroke-width="0.4"/>
<polygon points="76.7,219.4 78.8,222.8 81.9,218.9 79.8,215.8" fill="#00d3ff" stroke="#00d3ff" stroke-width="0.4"/>
<polygon points="89.2,220.5 91.3,222.5 94.4,219.7 92.3,217.8" fill="#03fffc" stroke="#03fffc" stroke-width="0.4"/>
<polygon points="101.7,220.3 103.8,221.7 106.8,218.4 104.7,217.2" fill="#42ffbd" stroke="#42ffbd" stroke-width="0.4"/>
<polygon points="114.1,220.2 116.2,226.5 119.3,223.7 117.2,217.0" fill="#53ffac" stroke="#53ffac" stroke-width="0.4"/>
<polygon points="46.6,224.4 48.7,225.7 51.8,220.9 49.7,219.5" fill="#96ff69" stroke="#96ff69" stroke-width="0.4"/>
<polygon points="59.1,221.4 61.2,224.1 64.2,219.6 62.1,216.9" fill="#60ff9f" stroke="#60ff9f" stroke-width="0.4"/>
<polygon points="71.5,221.1 73.6,224.4 76.7,219.4 74.6,216.1" fill="#00b8ff" stroke="#00b8ff" stroke-width="0.4"/>
<polygon points="84.0,221.6 86.1,224.2 89.2,220.5 87.1,217.9" fill="#00bdff" stroke="#00bdff" stroke-width="0.4"/>
<polygon points="96.5,221.7 98.6,223.1 101.7,220.3 99.6,219.0" fill="#26ffd9" stroke="#26ffd9" stroke-width="0.4"/>
<polygon points="109.0,220.8 111.1,223.3 114.1,220.2 112.0,217.7" fill="#4affb5" stroke="#4affb5" stroke-width="0.4"/>
<polygon points="41.4,228.4 43.5,229.3 46.6,224.4 44.5,223.5" fill="#7dff82" stroke="#7dff82" stroke-width="0.4"/>
<polygon points="53.9,223.3 56.0,225.7 59.1,221.4 57.0,218.9" fill="#70ff8f" stroke="#70ff8f" stroke-width="0.4"/>
<polygon points="66.4,222.8 68.5,226.0 71.5,221.1 69.4,217.9" fill="#00eeff" stroke="#00eeff" stroke-width="0.4"/>
<polygon points="78.8,222.8 80.9,225.5 84.0,221.6 81.9,218.9" fill="#00b1ff" stroke="#00b1ff" stroke-width="0.4"/>
<polygon points="91.3,222.5 93.4,224.5 96.5,221.7 94.4,219.7" fill="#09fff6" stroke="#09fff6" stroke-width="0.4"/>
<polygon points="103.8,221.7 105.9,224.0 109.0,220.8 106.8,218.4" fill="#35ffca" stroke="#35ffca" stroke-width="0.4"/>
<polygon points="116.2,226.5 118.4,232.8 121.4,230.4 119.3,223.7" fill="#0afff5" stroke="#0afff5" stroke-width="0.4"/>
<polygon points="48.7,225.7 50.8,228.1 53.9,223.3 51.8,220.9" fill="#71ff8e" stroke="#71ff8e" stroke-width="0.4"/>
<polygon points="61.2,224.1 63.3,227.3 66.4,222.8 64.2,219.6" fill="#2cffd3" stroke="#2cffd3" stroke-width="0.4"/>
<polygon points="73.6,224.4 75.8,227.8 78.8,222.8 76.7,219.4" fill="#00a1ff" stroke="#00a1ff" stroke-width="0.4"/>
<polygon points="86.1,224.2 88.2,226.3 91.3,222.5 89.2,220.5" fill="#00beff" stroke="#00beff" stroke-width="0.4"/>
<polygon points="98.6,223.1 100.7,224.5 103.8,221.7 101.7,220.3" fill="#1dffe2" stroke="#1dffe2" stroke-width="0.4"/>
<polygon points="111.1,223.3 113.2,229.2 116.2,226.5 114.1,220.2" fill="#19ffe6" stroke="#19ffe6" stroke-width="0.4"/>
<polygon points="43.5,229.3 45.6,230.6 48.7,225.7 46.6,224.4" fill="#61ff9e" stroke="#61ff9e" stroke-width="0.4"/>
<polygon points="56.0,225.7 58.1,228.4 61.2,224.1 59.1,221.4" fill="#46ffb9" stroke="#46ffb9" stroke-width="0.4"/>
<polygon points="68.5,226.0 70.6,229.3 73.6,224.4 71.5,221.1" fill="#00abff" stroke="#00abff" stroke-width="0.4"/>
<polygon points="80.9,225.5 83.0,228.2 86.1,224.2 84.0,221.6" fill="#0081ff" stroke="#0081ff" stroke-width="0.4"/>
<polygon points="93.4,224.5 95.5,226.0 98.6,223.1 96.5,221.7" fill="#05fffa" stroke="#05fffa" stroke-width="0.4"/>
<polygon points="105.9,224.0 108.0,226.4 111.1,223.3 109.0,220.8" fill="#1cffe3" stroke="#1cffe3" stroke-width="0.4"/>
<polygon points="50.8,228.1 52.9,230.5 56.0,225.7 53.9,223.3" fill="#4bffb4" stroke="#4bffb4" stroke-width="0.4"/>
<polygon points="63.3,227.3 65.4,230.4 68.5,226.0 66.4,222.8" fill="#00f5ff" stroke="#00f5ff" stroke-width="0.4"/>
<polygon points="75.8,227.8 77.9,230.5 80.9,225.5 78.8,222.8" fill="#0085ff" stroke="#0085ff" stroke-width="0.4"/>
<polygon points="88.2,226.3 90.3,228.3 93.4,224.5 91.3,222.5" fill="#00c6ff" stroke="#00c6ff" stroke-width="0.4"/>
<polygon points="100.7,224.5 102.8,226.9 105.9,224.0 103.8,221.7" fill="#11ffee" stroke="#11ffee" stroke-width="0.4"/>
<polygon points="113.2,229.2 115.3,235.2 118.4,232.8 116.2,226.5" fill="#00eaff" stroke="#00eaff" stroke-width="0.4"/>
<polygon points="45.6,230.6 47.7,233.0 50.8,228.1 48.7,225.7" fill="#41ffbe" stroke="#41ffbe" stroke-width="0.4"/>
<polygon points="58.1,228.4 60.2,231.4 63.3,227.3 61.2,224.1" fill="#21ffde" stroke="#21ffde" stroke-width="0.4"/>
<polygon points="70.6,229.3 72.7,232.7 75.8,227.8 73.6,224.4" fill="#0078ff" stroke="#0078ff" stroke-width="0.4"/>
<polygon points="83.0,228.2 85.2,230.4 88.2,226.3 86.1,224.2" fill="#0068ff" stroke="#0068ff" stroke-width="0.4"/>
<polygon points="95.5,226.0 97.6,227.5 100.7,224.5 98.6,223.1" fill="#00fcff" stroke="#00fcff" stroke-width="0.4"/>
<polygon points="108.0,226.4 110.1,232.0 113.2,229.2 111.1,223.3" fill="#00f9ff" stroke="#00f9ff" stroke-width="0.4"/>
<polygon points="52.9,230.5 55.0,233.2 58.1,228.4 56.0,225.7" fill="#2bffd4" stroke="#2bffd4" stroke-width="0.4"/>
<polygon points="65.4,230.4 67.5,233.6 70.6,229.3 68.5,226.0" fill="#00b3ff" stroke="#00b3ff" stroke-width="0.4"/>
<polygon points="77.9,230.5 80.0,233.1 83.0,228.2 80.9,225.5" fill="#005fff" stroke="#005fff" stroke-width="0.4"/>
<polygon points="90.3,228.3 92.5,229.8 95.5,226.0 93.4,224.5" fill="#00c9ff" stroke="#00c9ff" stroke-width="0.4"/>
<polygon points="102.8,226.9 104.9,229.2 108.0,226.4 105.9,224.0" fill="#00fcff" stroke="#00fcff" stroke-width="0.4"/>
<polygon points="47.7,233.0 49.8,235.4 52.9,230.5 50.8,228.1" fill="#24ffdb" stroke="#24ffdb" stroke-width="0.4"/>
<polygon points="60.2,231.4 62.3,234.4 65.4,230.4 63.3,227.3" fill="#00fbff" stroke="#00fbff" stroke-width="0.4"/>
<polygon points="72.7,232.7 74.8,235.3 77.9,230.5 75.8,227.8" fill="#0043ff" stroke="#0043ff" stroke-width="0.4"/>
<polygon points="85.2,230.4 87.3,232.3 90.3,228.3 88.2,226.3" fill="#006cff" stroke="#006cff" stroke-width="0.4"/>
<polygon points="97.6,227.5 99.7,229.8 102.8,226.9 100.7,224.5" fill="#00f2ff" stroke="#00f2ff" stroke-width="0.4"/>
<polygon points="110.1,232.0 112.2,237.6 115.3,235.2 113.2,229.2" fill="#00d4ff" stroke="#00d4ff" stroke-width="0.4"/>
<polygon points="55.0,233.2 57.1,236.1 60.2,231.4 58.1,228.4" fill="#10ffef" stroke="#10ffef" stroke-width="0.4"/>
<polygon points="67.5,233.6 69.6,236.8 72.7,232.7 70.6,229.3" fill="#0061ff" stroke="#0061ff" stroke-width="0.4"/>
<polygon points="80.0,233.1 82.1,235.2 85.2,230.4 83.0,228.2" fill="#003dff" stroke="#003dff" stroke-width="0.4"/>
<polygon points="92.5,229.8 94.6,231.2 97.6,227.5 95.5,226.0" fill="#00c7ff" stroke="#00c7ff" stroke-width="0.4"/>
<polygon points="104.9,229.2 107.0,234.5 110.1,232.0 108.0,226.4" fill="#00ddff" stroke="#00ddff" stroke-width="0.4"/>
<polygon points="49.8,235.4 52.0,238.1 55.0,233.2 52.9,230.5" fill="#0dfff2" stroke="#0dfff2" stroke-width="0.4"/>
<polygon points="62.3,234.4 64.4,237.3 67.5,233.6 65.4,230.4" fill="#00ccff" stroke="#00ccff" stroke-width="0.4"/>
<polygon points="74.8,235.3 76.9,237.8 80.0,233.1 77.9,230.5" fill="#002fff" stroke="#002fff" stroke-width="0.4"/>
<polygon points="87.3,232.3 89.4,233.7 92.5,229.8 90.3,228.3" fill="#0075ff" stroke="#0075ff" stroke-width="0.4"/>
<polygon points="99.7,229.8 101.9,232.1 104.9,229.2 102.8,226.9" fill="#00e2ff" stroke="#00e2ff" stroke-width="0.4"/>
<polygon points="57.1,236.1 59.3,238.9 62.3,234.4 60.2,231.4" fill="#00f2ff" stroke="#00f2ff" stroke-width="0.4"/>
<polygon points="69.6,236.8 71.7,239.3 74.8,235.3 72.7,232.7" fill="#0018ff" stroke="#0018ff" stroke-width="0.4"/>
<polygon points="82.1,235.2 84.2,237.0 87.3,232.3 85.2,230.4" fill="#0028ff" stroke="#0028ff" stroke-width="0.4"/>
<polygon points="94.6,231.2 96.7,233.3 99.7,229.8 97.6,227.5" fill="#00c0ff" stroke="#00c0ff" stroke-width="0.4"/>
<polygon points="107.0,234.5 109.1,239.8 112.2,237.6 110.1,232.0" fill="#00b8ff" stroke="#00b8ff" stroke-width="0.4"/>
<polygon points="52.0,238.1 54.1,240.8 57.1,236.1 55.0,233.2" fill="#00f7ff" stroke="#00f7ff" stroke-width="0.4"/>
<polygon points="64.4,237.3 66.5,240.3 69.6,236.8 67.5,233.6" fill="#008cff" stroke="#008cff" stroke-width="0.4"/>
<polygon points="76.9,237.8 79.0,239.8 82.1,235.2 80.0,233.1" fill="#0014ff" stroke="#0014ff" stroke-width="0.4"/>
<polygon points="89.4,233.7 91.5,235.1 94.6,231.2 92.5,229.8" fill="#007bff" stroke="#007bff" stroke-width="0.4"/>
<polygon points="101.9,232.1 104.0,237.0 107.0,234.5 104.9,229.2" fill="#00c2ff" stroke="#00c2ff" stroke-width="0.4"/>
<polygon points="59.3,238.9 61.4,241.6 64.4,237.3 62.3,234.4" fill="#00c8ff" stroke="#00c8ff" stroke-width="0.4"/>
<polygon points="71.7,239.3 73.8,241.6 76.9,237.8 74.8,235.3" fill="#0000e8" stroke="#0000e8" stroke-width="0.4"/>
<polygon points="84.2,237.0 86.3,238.3 89.4,233.7 87.3,232.3" fill="#001fff" stroke="#001fff" stroke-width="0.4"/>
<polygon points="96.7,233.3 98.8,235.5 101.9,232.1 99.7,229.8" fill="#00b2ff" stroke="#00b2ff" stroke-width="0.4"/>
<polygon points="54.1,240.8 56.2,243.5 59.3,238.9 57.1,236.1" fill="#00ddff" stroke="#00ddff" stroke-width="0.4"/>
<polygon points="66.5,240.3 68.7,242.5 71.7,239.3 69.6,236.8" fill="#0048ff" stroke="#0048ff" stroke-width="0.4"/>
<polygon points="79.0,239.8 81.1,241.5 84.2,237.0 82.1,235.2" fill="#0000f9" stroke="#0000f9" stroke-width="0.4"/>
<polygon points="91.5,235.1 93.6,237.0 96.7,233.3 94.6,231.2" fill="#007cff" stroke="#007cff" stroke-width="0.4"/>
<polygon points="104.0,237.0 106.1,241.9 109.1,239.8 107.0,234.5" fill="#009aff" stroke="#009aff" stroke-width="0.4"/>
<polygon points="61.4,241.6 63.5,244.4 66.5,240.3 64.4,237.3" fill="#0096ff" stroke="#0096ff" stroke-width="0.4"/>
<polygon points="73.8,241.6 75.9,243.5 79.0,239.8 76.9,237.8" fill="#0000de" stroke="#0000de" stroke-width="0.4"/>
<polygon points="86.3,238.3 88.4,239.4 91.5,235.1 89.4,233.7" fill="#0025ff" stroke="#0025ff" stroke-width="0.4"/>
<polygon points="98.8,235.5 100.9,239.9 104.0,237.0 101.9,232.1" fill="#0097ff" stroke="#0097ff" stroke-width="0.4"/>
<polygon points="56.2,243.5 58.3,246.0 61.4,241.6 59.3,238.9" fill="#00b7ff" stroke="#00b7ff" stroke-width="0.4"/>
<polygon points="68.7,242.5 70.8,244.7 73.8,241.6 71.7,239.3" fill="#0000fb" stroke="#0000fb" stroke-width="0.4"/>
<polygon points="81.1,241.5 83.2,242.7 86.3,238.3 84.2,237.0" fill="#0000ec" stroke="#0000ec" stroke-width="0.4"/>
<polygon points="93.6,237.0 95.7,238.9 98.8,235.5 96.7,233.3" fill="#0077ff" stroke="#0077ff" stroke-width="0.4"/>
<polygon points="63.5,244.4 65.6,246.4 68.7,242.5 66.5,240.3" fill="#005fff" stroke="#005fff" stroke-width="0.4"/>
<polygon points="75.9,243.5 78.1,245.1 81.1,241.5 79.0,239.8" fill="#0000da" stroke="#0000da" stroke-width="0.4"/>
<polygon points="88.4,239.4 90.5,241.0 93.6,237.0 91.5,235.1" fill="#0038ff" stroke="#0038ff" stroke-width="0.4"/>
<polygon points="100.9,239.9 103.0,244.4 106.1,241.9 104.0,237.0" fill="#0077ff" stroke="#0077ff" stroke-width="0.4"/>
<polygon points="58.3,246.0 60.4,248.5 63.5,244.4 61.4,241.6" fill="#008bff" stroke="#008bff" stroke-width="0.4"/>
<polygon points="70.8,244.7 72.9,246.4 75.9,243.5 73.8,241.6" fill="#0000d3" stroke="#0000d3" stroke-width="0.4"/>
<polygon points="83.2,242.7 85.3,243.7 88.4,239.4 86.3,238.3" fill="#0000f3" stroke="#0000f3" stroke-width="0.4"/>
<polygon points="95.7,238.9 97.8,242.9 100.9,239.9 98.8,235.5" fill="#006aff" stroke="#006aff" stroke-width="0.4"/>
<polygon points="65.6,246.4 67.7,248.2 70.8,244.7 68.7,242.5" fill="#0021ff" stroke="#0021ff" stroke-width="0.4"/>
<polygon points="78.1,245.1 80.2,246.2 83.2,242.7 81.1,241.5" fill="#0000d3" stroke="#0000d3" stroke-width="0.4"/>
<polygon points="90.5,241.0 92.6,242.6 95.7,238.9 93.6,237.0" fill="#0045ff" stroke="#0045ff" stroke-width="0.4"/>
<polygon points="60.4,248.5 62.5,250.2 65.6,246.4 63.5,244.4" fill="#005dff" stroke="#005dff" stroke-width="0.4"/>
<polygon points="72.9,246.4 75.0,247.9 78.1,245.1 75.9,243.5" fill="#0000c4" stroke="#0000c4" stroke-width="0.4"/>
<polygon points="85.3,243.7 87.5,245.0 90.5,241.0 88.4,239.4" fill="#000aff" stroke="#000aff" stroke-width="0.4"/>
<polygon points="97.8,242.9 99.9,246.9 103.0,244.4 100.9,239.9" fill="#0058ff" stroke="#0058ff" stroke-width="0.4"/>
<polygon points="67.7,248.2 69.8,249.9 72.9,246.4 70.8,244.7" fill="#0000ed" stroke="#0000ed" stroke-width="0.4"/>
<polygon points="80.2,246.2 82.3,247.1 85.3,243.7 83.2,242.7" fill="#0000dc" stroke="#0000dc" stroke-width="0.4"/>
<polygon points="92.6,242.6 94.7,246.0 97.8,242.9 95.7,238.9" fill="#0046ff" stroke="#0046ff" stroke-width="0.4"/>
<polygon points="62.5,250.2 64.6,251.9 67.7,248.2 65.6,246.4" fill="#0030ff" stroke="#0030ff" stroke-width="0.4"/>
<polygon points="75.0,247.9 77.1,249.0 80.2,246.2 78.1,245.1" fill="#0000c4" stroke="#0000c4" stroke-width="0.4"/>
<polygon points="87.5,245.0 89.6,246.4 92.6,242.6 90.5,241.0" fill="#0020ff" stroke="#0020ff" stroke-width="0.4"/>
<polygon points="69.8,249.9 71.9,251.4 75.0,247.9 72.9,246.4" fill="#0000cf" stroke="#0000cf" stroke-width="0.4"/>
<polygon points="82.3,247.1 84.4,248.3 87.5,245.0 85.3,243.7" fill="#0000f1" stroke="#0000f1" stroke-width="0.4"/>
<polygon points="94.7,246.0 96.9,249.4 99.9,246.9 97.8,242.9" fill="#0041ff" stroke="#0041ff" stroke-width="0.4"/>
<polygon points="64.6,251.9 66.7,253.4 69.8,249.9 67.7,248.2" fill="#0009ff" stroke="#0009ff" stroke-width="0.4"/>
<polygon points="77.1,249.0 79.2,249.9 82.3,247.1 80.2,246.2" fill="#0000d1" stroke="#0000d1" stroke-width="0.4"/>
<polygon points="89.6,246.4 91.7,249.1 94.7,246.0 92.6,242.6" fill="#002eff" stroke="#002eff" stroke-width="0.4"/>
<polygon points="71.9,251.4 74.0,252.5 77.1,249.0 75.0,247.9" fill="#0000cb" stroke="#0000cb" stroke-width="0.4"/>
<polygon points="84.4,248.3 86.5,249.5 89.6,246.4 87.5,245.0" fill="#000cff" stroke="#000cff" stroke-width="0.4"/>
<polygon points="66.7,253.4 68.8,254.8 71.9,251.4 69.8,249.9" fill="#0000ef" stroke="#0000ef" stroke-width="0.4"/>
<polygon points="79.2,249.9 81.3,250.9 84.4,248.3 82.3,247.1" fill="#0000e9" stroke="#0000e9" stroke-width="0.4"/>
<polygon points="91.7,249.1 93.8,252.0 96.9,249.4 94.7,246.0" fill="#0034ff" stroke="#0034ff" stroke-width="0.4"/>
<polygon points="74.0,252.5 76.1,253.5 79.2,249.9 77.1,249.0" fill="#0000d9" stroke="#0000d9" stroke-width="0.4"/>
<polygon points="86.5,249.5 88.6,251.8 91.7,249.1 89.6,246.4" fill="#0024ff" stroke="#0024ff" stroke-width="0.4"/>
<polygon points="68.8,254.8 71.0,256.0 74.0,252.5 71.9,251.4" fill="#0000e7" stroke="#0000e7" stroke-width="0.4"/>
<polygon points="81.3,250.9 83.4,252.0 86.5,249.5 84.4,248.3" fill="#0008ff" stroke="#0008ff" stroke-width="0.4"/>
<polygon points="76.1,253.5 78.2,254.5 81.3,250.9 79.2,249.9" fill="#0000f1" stroke="#0000f1" stroke-width="0.4"/>
<polygon points="88.6,251.8 90.7,254.2 93.8,252.0 91.7,249.1" fill="#0033ff" stroke="#0033ff" stroke-width="0.4"/>
<polygon points="71.0,256.0 73.1,257.1 76.1,253.5 74.0,252.5" fill="#0000ef" stroke="#0000ef" stroke-width="0.4"/>
<polygon points="83.4,252.0 85.5,253.9 88.6,251.8 86.5,249.5" fill="#0025ff" stroke="#0025ff" stroke-width="0.4"/>
<polygon points="78.2,254.5 80.4,255.6 83.4,252.0 81.3,250.9" fill="#0010ff" stroke="#0010ff" stroke-width="0.4"/>
<polygon points="73.1,257.1 75.2,258.1 78.2,254.5 76.1,253.5" fill="#0003ff" stroke="#0003ff" stroke-width="0.4"/>
<polygon points="85.5,253.9 87.6,255.8 90.7,254.2 88.6,251.8" fill="#003aff" stroke="#003aff" stroke-width="0.4"/>
<polygon points="80.4,255.6 82.5,257.1 85.5,253.9 83.4,252.0" fill="#002fff" stroke="#002fff" stroke-width="0.4"/>
<polygon points="75.2,258.1 77.3,259.2 80.4,255.6 78.2,254.5" fill="#001dff" stroke="#001dff" stroke-width="0.4"/>
<polygon points="82.5,257.1 84.6,258.6 87.6,255.8 85.5,253.9" fill="#0044ff" stroke="#0044ff" stroke-width="0.4"/>
<polygon points="77.3,259.2 79.4,260.3 82.5,257.1 80.4,255.6" fill="#003dff" stroke="#003dff" stroke-width="0.4"/>
<polygon points="79.4,260.3 81.5,261.5 84.6,258.6 82.5,257.1" fill="#004dff" stroke="#004dff" stroke-width="0.4"/>
</g>
<path d="M39.3,227.5 L42.4,222.5 L45.4,217.6 L48.5,213.0 L51.6,208.4 L54.7,203.5 L57.7,198.5 L60.8,196.0 L63.9,193.5 L66.9,192.6 L70.0,191.7 L73.1,189.6 L76.2,187.6 L79.2,185.1 L82.3,182.5 M43.5,229.3 L46.6,224.4 L49.7,219.5 L52.7,215.0 L55.8,210.5 L58.9,205.6 L61.9,200.8 L65.0,198.1 L68.1,195.4 L71.2,194.2 L74.2,193.0 L77.3,190.8 L80.4,188.5 L83.4,185.8 L86.5,183.3 M47.7,233.0 L50.8,228.1 L53.9,223.3 L57.0,218.9 L60.0,214.4 L63.1,209.6 L66.2,204.8 L69.2,201.9 L72.3,199.0 L75.4,197.5 L78.5,196.0 L81.5,193.5 L84.6,191.1 L87.7,188.2 L90.7,185.6 M52.0,238.1 L55.0,233.2 L58.1,228.4 L61.2,224.1 L64.2,219.6 L67.3,214.7 L70.4,209.7 L73.5,206.5 L76.5,203.3 L79.6,201.3 L82.7,199.4 L85.7,196.6 L88.8,193.8 L91.9,190.7 L95.0,187.9 M56.2,243.5 L59.3,238.9 L62.3,234.4 L65.4,230.4 L68.5,226.0 L71.5,221.1 L74.6,216.1 L77.7,212.6 L80.8,209.2 L83.8,206.9 L86.9,204.7 L90.0,201.7 L93.0,198.8 L96.1,195.6 L99.2,192.8 M60.4,248.5 L63.5,244.4 L66.5,240.3 L69.6,236.8 L72.7,232.7 L75.8,227.8 L78.8,222.8 L81.9,218.9 L85.0,215.3 L88.0,212.7 L91.1,210.3 L94.2,207.3 L97.3,204.3 L100.3,201.1 L103.4,198.3 M64.6,251.9 L67.7,248.2 L70.8,244.7 L73.8,241.6 L76.9,237.8 L80.0,233.1 L83.0,228.2 L86.1,224.2 L89.2,220.5 L92.3,217.8 L95.3,215.2 L98.4,212.2 L101.5,209.3 L104.5,206.1 L107.6,203.5 M68.8,254.8 L71.9,251.4 L75.0,247.9 L78.1,245.1 L81.1,241.5 L84.2,237.0 L87.3,232.3 L90.3,228.3 L93.4,224.5 L96.5,221.7 L99.6,219.0 L102.6,215.9 L105.7,212.8 L108.8,209.7 L111.8,207.2 M73.1,257.1 L76.1,253.5 L79.2,249.9 L82.3,247.1 L85.3,243.7 L88.4,239.4 L91.5,235.1 L94.6,231.2 L97.6,227.5 L100.7,224.5 L103.8,221.7 L106.8,218.4 L109.9,215.2 L113.0,212.0 L116.1,209.5 M77.3,259.2 L80.4,255.6 L83.4,252.0 L86.5,249.5 L89.6,246.4 L92.6,242.6 L95.7,238.9 L98.8,235.5 L101.9,232.1 L104.9,229.2 L108.0,226.4 L111.1,223.3 L114.1,220.2 L117.2,217.0 L120.3,214.7 M81.5,261.5 L84.6,258.6 L87.6,255.8 L90.7,254.2 L93.8,252.0 L96.9,249.4 L99.9,246.9 L103.0,244.4 L106.1,241.9 L109.1,239.8 L112.2,237.6 L115.3,235.2 L118.4,232.8 L121.4,230.4 L124.5,228.9 M39.3,227.5 L41.4,228.4 L43.5,229.3 L45.6,230.6 L47.7,233.0 L49.8,235.4 L52.0,238.1 L54.1,240.8 L56.2,243.5 L58.3,246.0 L60.4,248.5 L62.5,250.2 L64.6,251.9 L66.7,253.4 L68.8,254.8 L71.0,256.0 L73.1,257.1 L75.2,258.1 L77.3,259.2 L79.4,260.3 L81.5,261.5 M45.4,217.6 L47.6,218.6 L49.7,219.5 L51.8,220.9 L53.9,223.3 L56.0,225.7 L58.1,228.4 L60.2,231.4 L62.3,234.4 L64.4,237.3 L66.5,240.3 L68.7,242.5 L70.8,244.7 L72.9,246.4 L75.0,247.9 L77.1,249.0 L79.2,249.9 L81.3,250.9 L83.4,252.0 L85.5,253.9 L87.6,255.8 M51.6,208.4 L53.7,209.4 L55.8,210.5 L57.9,212.0 L60.0,214.4 L62.1,216.9 L64.2,219.6 L66.4,222.8 L68.5,226.0 L70.6,229.3 L72.7,232.7 L74.8,235.3 L76.9,237.8 L79.0,239.8 L81.1,241.5 L83.2,242.7 L85.3,243.7 L87.5,245.0 L89.6,246.4 L91.7,249.1 L93.8,252.0 M57.7,198.5 L59.8,199.6 L61.9,200.8 L64.1,202.4 L66.2,204.8 L68.3,207.2 L70.4,209.7 L72.5,213.0 L74.6,216.1 L76.7,219.4 L78.8,222.8 L80.9,225.5 L83.0,228.2 L85.2,230.4 L87.3,232.3 L89.4,233.7 L91.5,235.1 L93.6,237.0 L95.7,238.9 L97.8,242.9 L99.9,246.9 M63.9,193.5 L66.0,194.4 L68.1,195.4 L70.2,197.0 L72.3,199.0 L74.4,201.1 L76.5,203.3 L78.6,206.3 L80.8,209.2 L82.9,212.2 L85.0,215.3 L87.1,217.9 L89.2,220.5 L91.3,222.5 L93.4,224.5 L95.5,226.0 L97.6,227.5 L99.7,229.8 L101.9,232.1 L104.0,237.0 L106.1,241.9 M70.0,191.7 L72.1,192.3 L74.2,193.0 L76.3,194.3 L78.5,196.0 L80.6,197.7 L82.7,199.4 L84.8,202.1 L86.9,204.7 L89.0,207.5 L91.1,210.3 L93.2,212.8 L95.3,215.2 L97.4,217.1 L99.6,219.0 L101.7,220.3 L103.8,221.7 L105.9,224.0 L108.0,226.4 L110.1,232.0 L112.2,237.6 M76.2,187.6 L78.3,188.1 L80.4,188.5 L82.5,189.7 L84.6,191.1 L86.7,192.4 L88.8,193.8 L90.9,196.3 L93.0,198.8 L95.1,201.6 L97.3,204.3 L99.4,206.8 L101.5,209.3 L103.6,211.0 L105.7,212.8 L107.8,214.0 L109.9,215.2 L112.0,217.7 L114.1,220.2 L116.2,226.5 L118.4,232.8 M82.3,182.5 L84.4,182.9 L86.5,183.3 L88.6,184.4 L90.7,185.6 L92.8,186.7 L95.0,187.9 L97.1,190.3 L99.2,192.8 L101.3,195.6 L103.4,198.3 L105.5,200.9 L107.6,203.5 L109.7,205.4 L111.8,207.2 L114.0,208.3 L116.1,209.5 L118.2,212.1 L120.3,214.7 L122.4,221.8 L124.5,228.9" fill="none" stroke="#fff" stroke-opacity="0.38" stroke-width="0.4"/>
<circle cx="39.3" cy="227.5" r="0.55" fill="#3a3a3a" fill-opacity="0.8"/>
<circle cx="45.4" cy="217.6" r="0.55" fill="#3a3a3a" fill-opacity="0.8"/>
<circle cx="51.6" cy="208.4" r="0.55" fill="#3a3a3a" fill-opacity="0.8"/>
<circle cx="57.7" cy="198.5" r="0.55" fill="#3a3a3a" fill-opacity="0.8"/>
<circle cx="63.9" cy="193.5" r="0.55" fill="#3a3a3a" fill-opacity="0.8"/>
<circle cx="70.0" cy="191.7" r="0.55" fill="#3a3a3a" fill-opacity="0.8"/>
<circle cx="76.2" cy="187.6" r="0.55" fill="#3a3a3a" fill-opacity="0.8"/>
<circle cx="82.3" cy="182.5" r="0.55" fill="#3a3a3a" fill-opacity="0.8"/>
<circle cx="43.5" cy="229.3" r="0.55" fill="#3a3a3a" fill-opacity="0.8"/>
<circle cx="49.7" cy="219.5" r="0.55" fill="#3a3a3a" fill-opacity="0.8"/>
<circle cx="55.8" cy="210.5" r="0.55" fill="#3a3a3a" fill-opacity="0.8"/>
<circle cx="61.9" cy="200.8" r="0.55" fill="#3a3a3a" fill-opacity="0.8"/>
<circle cx="68.1" cy="195.4" r="0.55" fill="#3a3a3a" fill-opacity="0.8"/>
<circle cx="74.2" cy="193.0" r="0.55" fill="#3a3a3a" fill-opacity="0.8"/>
<circle cx="80.4" cy="188.5" r="0.55" fill="#3a3a3a" fill-opacity="0.8"/>
<circle cx="86.5" cy="183.3" r="0.55" fill="#3a3a3a" fill-opacity="0.8"/>
<circle cx="47.7" cy="233.0" r="0.55" fill="#3a3a3a" fill-opacity="0.8"/>
<circle cx="53.9" cy="223.3" r="0.55" fill="#3a3a3a" fill-opacity="0.8"/>
<circle cx="60.0" cy="214.4" r="0.55" fill="#3a3a3a" fill-opacity="0.8"/>
<circle cx="66.2" cy="204.8" r="0.55" fill="#3a3a3a" fill-opacity="0.8"/>
<circle cx="72.3" cy="199.0" r="0.55" fill="#3a3a3a" fill-opacity="0.8"/>
<circle cx="78.5" cy="196.0" r="0.55" fill="#3a3a3a" fill-opacity="0.8"/>
<circle cx="84.6" cy="191.1" r="0.55" fill="#3a3a3a" fill-opacity="0.8"/>
<circle cx="90.7" cy="185.6" r="0.55" fill="#3a3a3a" fill-opacity="0.8"/>
<circle cx="52.0" cy="238.1" r="0.55" fill="#3a3a3a" fill-opacity="0.8"/>
<circle cx="58.1" cy="228.4" r="0.55" fill="#3a3a3a" fill-opacity="0.8"/>
<circle cx="64.2" cy="219.6" r="0.55" fill="#3a3a3a" fill-opacity="0.8"/>
<circle cx="70.4" cy="209.7" r="0.55" fill="#3a3a3a" fill-opacity="0.8"/>
<circle cx="76.5" cy="203.3" r="0.55" fill="#3a3a3a" fill-opacity="0.8"/>
<circle cx="82.7" cy="199.4" r="0.55" fill="#3a3a3a" fill-opacity="0.8"/>
<circle cx="88.8" cy="193.8" r="0.55" fill="#3a3a3a" fill-opacity="0.8"/>
<circle cx="95.0" cy="187.9" r="0.55" fill="#3a3a3a" fill-opacity="0.8"/>
<circle cx="56.2" cy="243.5" r="0.55" fill="#3a3a3a" fill-opacity="0.8"/>
<circle cx="62.3" cy="234.4" r="0.55" fill="#3a3a3a" fill-opacity="0.8"/>
<circle cx="68.5" cy="226.0" r="0.55" fill="#3a3a3a" fill-opacity="0.8"/>
<circle cx="74.6" cy="216.1" r="0.55" fill="#3a3a3a" fill-opacity="0.8"/>
<circle cx="80.8" cy="209.2" r="0.55" fill="#3a3a3a" fill-opacity="0.8"/>
<circle cx="86.9" cy="204.7" r="0.55" fill="#3a3a3a" fill-opacity="0.8"/>
<circle cx="93.0" cy="198.8" r="0.55" fill="#3a3a3a" fill-opacity="0.8"/>
<circle cx="99.2" cy="192.8" r="0.55" fill="#3a3a3a" fill-opacity="0.8"/>
<circle cx="60.4" cy="248.5" r="0.55" fill="#3a3a3a" fill-opacity="0.8"/>
<circle cx="66.5" cy="240.3" r="0.55" fill="#3a3a3a" fill-opacity="0.8"/>
<circle cx="72.7" cy="232.7" r="0.55" fill="#3a3a3a" fill-opacity="0.8"/>
<circle cx="78.8" cy="222.8" r="0.55" fill="#3a3a3a" fill-opacity="0.8"/>
<circle cx="85.0" cy="215.3" r="0.55" fill="#3a3a3a" fill-opacity="0.8"/>
<circle cx="91.1" cy="210.3" r="0.55" fill="#3a3a3a" fill-opacity="0.8"/>
<circle cx="97.3" cy="204.3" r="0.55" fill="#3a3a3a" fill-opacity="0.8"/>
<circle cx="103.4" cy="198.3" r="0.55" fill="#3a3a3a" fill-opacity="0.8"/>
<circle cx="64.6" cy="251.9" r="0.55" fill="#3a3a3a" fill-opacity="0.8"/>
<circle cx="70.8" cy="244.7" r="0.55" fill="#3a3a3a" fill-opacity="0.8"/>
<circle cx="76.9" cy="237.8" r="0.55" fill="#3a3a3a" fill-opacity="0.8"/>
<circle cx="83.0" cy="228.2" r="0.55" fill="#3a3a3a" fill-opacity="0.8"/>
<circle cx="89.2" cy="220.5" r="0.55" fill="#3a3a3a" fill-opacity="0.8"/>
<circle cx="95.3" cy="215.2" r="0.55" fill="#3a3a3a" fill-opacity="0.8"/>
<circle cx="101.5" cy="209.3" r="0.55" fill="#3a3a3a" fill-opacity="0.8"/>
<circle cx="107.6" cy="203.5" r="0.55" fill="#3a3a3a" fill-opacity="0.8"/>
<circle cx="68.8" cy="254.8" r="0.55" fill="#3a3a3a" fill-opacity="0.8"/>
<circle cx="75.0" cy="247.9" r="0.55" fill="#3a3a3a" fill-opacity="0.8"/>
<circle cx="81.1" cy="241.5" r="0.55" fill="#3a3a3a" fill-opacity="0.8"/>
<circle cx="87.3" cy="232.3" r="0.55" fill="#3a3a3a" fill-opacity="0.8"/>
<circle cx="93.4" cy="224.5" r="0.55" fill="#3a3a3a" fill-opacity="0.8"/>
<circle cx="99.6" cy="219.0" r="0.55" fill="#3a3a3a" fill-opacity="0.8"/>
<circle cx="105.7" cy="212.8" r="0.55" fill="#3a3a3a" fill-opacity="0.8"/>
<circle cx="111.8" cy="207.2" r="0.55" fill="#3a3a3a" fill-opacity="0.8"/>
<circle cx="73.1" cy="257.1" r="0.55" fill="#3a3a3a" fill-opacity="0.8"/>
<circle cx="79.2" cy="249.9" r="0.55" fill="#3a3a3a" fill-opacity="0.8"/>
<circle cx="85.3" cy="243.7" r="0.55" fill="#3a3a3a" fill-opacity="0.8"/>
<circle cx="91.5" cy="235.1" r="0.55" fill="#3a3a3a" fill-opacity="0.8"/>
<circle cx="97.6" cy="227.5" r="0.55" fill="#3a3a3a" fill-opacity="0.8"/>
<circle cx="103.8" cy="221.7" r="0.55" fill="#3a3a3a" fill-opacity="0.8"/>
<circle cx="109.9" cy="215.2" r="0.55" fill="#3a3a3a" fill-opacity="0.8"/>
<circle cx="116.1" cy="209.5" r="0.55" fill="#3a3a3a" fill-opacity="0.8"/>
<circle cx="77.3" cy="259.2" r="0.55" fill="#3a3a3a" fill-opacity="0.8"/>
<circle cx="83.4" cy="252.0" r="0.55" fill="#3a3a3a" fill-opacity="0.8"/>
<circle cx="89.6" cy="246.4" r="0.55" fill="#3a3a3a" fill-opacity="0.8"/>
<circle cx="95.7" cy="238.9" r="0.55" fill="#3a3a3a" fill-opacity="0.8"/>
<circle cx="101.9" cy="232.1" r="0.55" fill="#3a3a3a" fill-opacity="0.8"/>
<circle cx="108.0" cy="226.4" r="0.55" fill="#3a3a3a" fill-opacity="0.8"/>
<circle cx="114.1" cy="220.2" r="0.55" fill="#3a3a3a" fill-opacity="0.8"/>
<circle cx="120.3" cy="214.7" r="0.55" fill="#3a3a3a" fill-opacity="0.8"/>
<circle cx="81.5" cy="261.5" r="0.55" fill="#3a3a3a" fill-opacity="0.8"/>
<circle cx="87.6" cy="255.8" r="0.55" fill="#3a3a3a" fill-opacity="0.8"/>
<circle cx="93.8" cy="252.0" r="0.55" fill="#3a3a3a" fill-opacity="0.8"/>
<circle cx="99.9" cy="246.9" r="0.55" fill="#3a3a3a" fill-opacity="0.8"/>
<circle cx="106.1" cy="241.9" r="0.55" fill="#3a3a3a" fill-opacity="0.8"/>
<circle cx="112.2" cy="237.6" r="0.55" fill="#3a3a3a" fill-opacity="0.8"/>
<circle cx="118.4" cy="232.8" r="0.55" fill="#3a3a3a" fill-opacity="0.8"/>
<circle cx="124.5" cy="228.9" r="0.55" fill="#3a3a3a" fill-opacity="0.8"/>
<text x="38.5" y="241.7" font-size="3.5" fill="#5a5a5a" text-anchor="end">0.0005</text>
<text x="42.3" y="243.8" font-size="3.5" fill="#5a5a5a" text-anchor="end">0.001</text>
<text x="46.2" y="245.9" font-size="3.5" fill="#5a5a5a" text-anchor="end">0.002</text>
<text x="50.0" y="248.0" font-size="3.5" fill="#5a5a5a" text-anchor="end">0.005</text>
<text x="53.8" y="250.1" font-size="3.5" fill="#5a5a5a" text-anchor="end">0.01</text>
<text x="57.7" y="252.2" font-size="3.5" fill="#5a5a5a" text-anchor="end">0.02</text>
<text x="61.5" y="254.4" font-size="3.5" fill="#5a5a5a" text-anchor="end">0.05</text>
<text x="65.4" y="256.5" font-size="3.5" fill="#5a5a5a" text-anchor="end">0.1</text>
<text x="69.2" y="258.6" font-size="3.5" fill="#5a5a5a" text-anchor="end">0.5</text>
<text x="73.0" y="260.7" font-size="3.5" fill="#5a5a5a" text-anchor="end">1</text>
<text x="76.9" y="262.8" font-size="3.5" fill="#5a5a5a" text-anchor="end">5</text>
<text x="80.7" y="264.9" font-size="3.5" fill="#5a5a5a" text-anchor="end">10</text>
<text x="83.1" y="264.9" font-size="3.5" fill="#5a5a5a">10</text>
<text x="89.2" y="261.5" font-size="3.5" fill="#5a5a5a">7.5</text>
<text x="95.4" y="258.0" font-size="3.5" fill="#5a5a5a">5</text>
<text x="101.5" y="254.6" font-size="3.5" fill="#5a5a5a">2.5</text>
<text x="107.7" y="251.2" font-size="3.5" fill="#5a5a5a">1.25</text>
<text x="113.8" y="247.8" font-size="3.5" fill="#5a5a5a">0.625</text>
<text x="120.0" y="244.3" font-size="3.5" fill="#5a5a5a">0.3125</text>
<text x="126.1" y="240.9" font-size="3.5" fill="#5a5a5a">0</text>
<line x1="201.2" y1="238.3" x2="244.2" y2="215.8" stroke="#dddddd" stroke-width="0.4"/>
<line x1="244.2" y1="215.8" x2="286.4" y2="239.2" stroke="#dddddd" stroke-width="0.4"/>
<line x1="201.2" y1="232.2" x2="244.2" y2="209.7" stroke="#dddddd" stroke-width="0.4"/>
<line x1="244.2" y1="209.7" x2="286.4" y2="233.1" stroke="#dddddd" stroke-width="0.4"/>
<line x1="201.2" y1="226.1" x2="244.2" y2="203.6" stroke="#dddddd" stroke-width="0.4"/>
<line x1="244.2" y1="203.6" x2="286.4" y2="227.0" stroke="#dddddd" stroke-width="0.4"/>
<line x1="201.2" y1="219.9" x2="244.2" y2="197.4" stroke="#dddddd" stroke-width="0.4"/>
<line x1="244.2" y1="197.4" x2="286.4" y2="220.8" stroke="#dddddd" stroke-width="0.4"/>
<line x1="201.2" y1="213.8" x2="244.2" y2="191.3" stroke="#dddddd" stroke-width="0.4"/>
<line x1="244.2" y1="191.3" x2="286.4" y2="214.7" stroke="#dddddd" stroke-width="0.4"/>
<line x1="201.2" y1="207.7" x2="244.2" y2="185.2" stroke="#dddddd" stroke-width="0.4"/>
<line x1="244.2" y1="185.2" x2="286.4" y2="208.6" stroke="#dddddd" stroke-width="0.4"/>
<line x1="201.2" y1="238.3" x2="201.2" y2="207.7" stroke="#dddddd" stroke-width="0.4"/>
<line x1="244.2" y1="215.8" x2="244.2" y2="185.2" stroke="#dddddd" stroke-width="0.4"/>
<line x1="211.9" y1="232.7" x2="211.9" y2="202.1" stroke="#dddddd" stroke-width="0.4"/>
<line x1="254.8" y1="221.7" x2="254.8" y2="191.1" stroke="#dddddd" stroke-width="0.4"/>
<line x1="222.7" y1="227.1" x2="222.7" y2="196.5" stroke="#dddddd" stroke-width="0.4"/>
<line x1="265.3" y1="227.5" x2="265.3" y2="196.9" stroke="#dddddd" stroke-width="0.4"/>
<line x1="233.4" y1="221.4" x2="233.4" y2="190.8" stroke="#dddddd" stroke-width="0.4"/>
<line x1="275.9" y1="233.4" x2="275.9" y2="202.8" stroke="#dddddd" stroke-width="0.4"/>
<line x1="244.2" y1="215.8" x2="244.2" y2="185.2" stroke="#dddddd" stroke-width="0.4"/>
<line x1="286.4" y1="239.2" x2="286.4" y2="208.6" stroke="#dddddd" stroke-width="0.4"/>
<line x1="286.4" y1="239.2" x2="286.4" y2="208.6" stroke="#dddddd" stroke-width="0.4"/>
<line x1="201.2" y1="238.3" x2="244.2" y2="215.8" stroke="#dddddd" stroke-width="0.4"/>
<line x1="201.2" y1="238.3" x2="243.4" y2="261.7" stroke="#dddddd" stroke-width="0.4"/>
<line x1="209.6" y1="243.0" x2="252.6" y2="220.5" stroke="#dddddd" stroke-width="0.4"/>
<line x1="209.8" y1="233.8" x2="252.0" y2="257.2" stroke="#dddddd" stroke-width="0.4"/>
<line x1="218.1" y1="247.7" x2="261.1" y2="225.2" stroke="#dddddd" stroke-width="0.4"/>
<line x1="218.4" y1="229.3" x2="260.6" y2="252.7" stroke="#dddddd" stroke-width="0.4"/>
<line x1="226.5" y1="252.3" x2="269.5" y2="229.8" stroke="#dddddd" stroke-width="0.4"/>
<line x1="227.0" y1="224.8" x2="269.2" y2="248.2" stroke="#dddddd" stroke-width="0.4"/>
<line x1="235.0" y1="257.0" x2="278.0" y2="234.5" stroke="#dddddd" stroke-width="0.4"/>
<line x1="235.6" y1="220.3" x2="277.8" y2="243.7" stroke="#dddddd" stroke-width="0.4"/>
<line x1="243.4" y1="261.7" x2="286.4" y2="239.2" stroke="#dddddd" stroke-width="0.4"/>
<line x1="244.2" y1="215.8" x2="286.4" y2="239.2" stroke="#dddddd" stroke-width="0.4"/>
<line x1="201.2" y1="238.3" x2="243.4" y2="261.7" stroke="#b0b0b0" stroke-width="0.5"/>
<line x1="243.4" y1="261.7" x2="286.4" y2="239.2" stroke="#b0b0b0" stroke-width="0.5"/>
<line x1="201.2" y1="238.3" x2="201.2" y2="207.7" stroke="#9a9a9a" stroke-width="0.5"/>
<line x1="199.7" y1="238.3" x2="201.2" y2="238.3" stroke="#9a9a9a" stroke-width="0.4"/>
<text x="199.0" y="239.3" font-size="3" fill="#777" text-anchor="end">0</text>
<line x1="199.7" y1="232.2" x2="201.2" y2="232.2" stroke="#9a9a9a" stroke-width="0.4"/>
<text x="199.0" y="233.2" font-size="3" fill="#777" text-anchor="end">20</text>
<line x1="199.7" y1="226.1" x2="201.2" y2="226.1" stroke="#9a9a9a" stroke-width="0.4"/>
<text x="199.0" y="227.1" font-size="3" fill="#777" text-anchor="end">40</text>
<line x1="199.7" y1="219.9" x2="201.2" y2="219.9" stroke="#9a9a9a" stroke-width="0.4"/>
<text x="199.0" y="220.9" font-size="3" fill="#777" text-anchor="end">60</text>
<line x1="199.7" y1="213.8" x2="201.2" y2="213.8" stroke="#9a9a9a" stroke-width="0.4"/>
<text x="199.0" y="214.8" font-size="3" fill="#777" text-anchor="end">80</text>
<line x1="199.7" y1="207.7" x2="201.2" y2="207.7" stroke="#9a9a9a" stroke-width="0.4"/>
<text x="199.0" y="208.7" font-size="3" fill="#777" text-anchor="end">100</text>
<clipPath id="cp201"><polygon points="201.2,221.5 203.3,223.8 205.4,226.1 207.5,228.0 209.6,229.9 211.8,231.7 213.9,233.0 216.0,234.1 218.1,235.2 220.2,236.4 222.3,237.9 224.4,239.3 226.5,240.8 228.6,242.6 230.7,244.4 232.8,246.3 235.0,248.1 237.1,249.4 239.2,250.8 241.3,252.2 243.4,253.6 247.0,250.2 250.6,246.8 254.1,243.1 257.7,239.5 261.3,237.1 264.9,234.9 268.5,231.7 272.1,228.1 275.6,224.5 279.2,221.0 282.8,217.1 286.4,214.4 284.3,209.3 282.2,204.1 280.1,203.8 278.0,203.4 275.9,202.7 273.7,202.0 271.6,201.1 269.5,200.2 267.4,199.2 265.3,198.2 263.2,196.9 261.1,195.4 259.0,194.3 256.9,193.3 254.8,191.7 252.6,189.9 250.5,188.6 248.4,187.3 246.3,185.9 244.2,184.6 240.6,186.2 237.0,187.8 233.4,189.4 229.9,190.9 226.3,192.4 222.7,193.8 219.1,197.3 215.5,201.0 211.9,205.9 208.4,210.7 204.8,216.1"/></clipPath>
<g clip-path="url(#cp201)" filter="url(#smooth)">
<polygon points="240.6,186.2 242.7,187.7 246.3,185.9 244.2,184.6" fill="#75ff8a" stroke="#75ff8a" stroke-width="0.4"/>
<polygon points="242.7,187.7 244.8,189.1 248.4,187.3 246.3,185.9" fill="#6eff91" stroke="#6eff91" stroke-width="0.4"/>
<polygon points="237.0,187.8 239.1,189.5 242.7,187.7 240.6,186.2" fill="#84ff7b" stroke="#84ff7b" stroke-width="0.4"/>
<polygon points="244.8,189.1 246.9,190.5 250.5,188.6 248.4,187.3" fill="#68ff97" stroke="#68ff97" stroke-width="0.4"/>
<polygon points="239.1,189.5 241.3,191.1 244.8,189.1 242.7,187.7" fill="#85ff7a" stroke="#85ff7a" stroke-width="0.4"/>
<polygon points="246.9,190.5 249.1,192.0 252.6,189.9 250.5,188.6" fill="#64ff9b" stroke="#64ff9b" stroke-width="0.4"/>
<polygon points="233.4,189.4 235.6,191.2 239.1,189.5 237.0,187.8" fill="#95ff6a" stroke="#95ff6a" stroke-width="0.4"/>
<polygon points="241.3,191.1 243.4,192.6 246.9,190.5 244.8,189.1" fill="#87ff78" stroke="#87ff78" stroke-width="0.4"/>
<polygon points="249.1,192.0 251.2,193.8 254.8,191.7 252.6,189.9" fill="#65ff9a" stroke="#65ff9a" stroke-width="0.4"/>
<polygon points="235.6,191.2 237.7,193.0 241.3,191.1 239.1,189.5" fill="#9eff61" stroke="#9eff61" stroke-width="0.4"/>
<polygon points="243.4,192.6 245.5,194.3 249.1,192.0 246.9,190.5" fill="#89ff76" stroke="#89ff76" stroke-width="0.4"/>
<polygon points="229.9,190.9 232.0,192.9 235.6,191.2 233.4,189.4" fill="#a5ff5a" stroke="#a5ff5a" stroke-width="0.4"/>
<polygon points="251.2,193.8 253.3,195.4 256.9,193.3 254.8,191.7" fill="#67ff98" stroke="#67ff98" stroke-width="0.4"/>
<polygon points="237.7,193.0 239.8,194.7 243.4,192.6 241.3,191.1" fill="#aaff55" stroke="#aaff55" stroke-width="0.4"/>
<polygon points="245.5,194.3 247.6,196.2 251.2,193.8 249.1,192.0" fill="#8aff75" stroke="#8aff75" stroke-width="0.4"/>
<polygon points="232.0,192.9 234.1,194.9 237.7,193.0 235.6,191.2" fill="#adff52" stroke="#adff52" stroke-width="0.4"/>
<polygon points="253.3,195.4 255.4,196.5 259.0,194.3 256.9,193.3" fill="#6bff94" stroke="#6bff94" stroke-width="0.4"/>
<polygon points="239.8,194.7 241.9,196.4 245.5,194.3 243.4,192.6" fill="#b4ff4b" stroke="#b4ff4b" stroke-width="0.4"/>
<polygon points="226.3,192.4 228.4,194.5 232.0,192.9 229.9,190.9" fill="#acff53" stroke="#acff53" stroke-width="0.4"/>
<polygon points="247.6,196.2 249.7,197.9 253.3,195.4 251.2,193.8" fill="#89ff76" stroke="#89ff76" stroke-width="0.4"/>
<polygon points="234.1,194.9 236.2,196.7 239.8,194.7 237.7,193.0" fill="#b9ff46" stroke="#b9ff46" stroke-width="0.4"/>
<polygon points="255.4,196.5 257.5,197.6 261.1,195.4 259.0,194.3" fill="#71ff8e" stroke="#71ff8e" stroke-width="0.4"/>
<polygon points="241.9,196.4 244.0,198.5 247.6,196.2 245.5,194.3" fill="#b6ff49" stroke="#b6ff49" stroke-width="0.4"/>
<polygon points="228.4,194.5 230.5,196.7 234.1,194.9 232.0,192.9" fill="#afff50" stroke="#afff50" stroke-width="0.4"/>
<polygon points="249.7,197.9 251.8,199.1 255.4,196.5 253.3,195.4" fill="#8aff75" stroke="#8aff75" stroke-width="0.4"/>
<polygon points="236.2,196.7 238.3,198.6 241.9,196.4 239.8,194.7" fill="#c5ff3a" stroke="#c5ff3a" stroke-width="0.4"/>
<polygon points="257.5,197.6 259.6,199.1 263.2,196.9 261.1,195.4" fill="#78ff87" stroke="#78ff87" stroke-width="0.4"/>
<polygon points="222.7,193.8 224.8,196.1 228.4,194.5 226.3,192.4" fill="#b7ff48" stroke="#b7ff48" stroke-width="0.4"/>
<polygon points="244.0,198.5 246.1,200.2 249.7,197.9 247.6,196.2" fill="#b2ff4d" stroke="#b2ff4d" stroke-width="0.4"/>
<polygon points="230.5,196.7 232.6,198.7 236.2,196.7 234.1,194.9" fill="#b2ff4d" stroke="#b2ff4d" stroke-width="0.4"/>
<polygon points="251.8,199.1 253.9,200.3 257.5,197.6 255.4,196.5" fill="#91ff6e" stroke="#91ff6e" stroke-width="0.4"/>
<polygon points="238.3,198.6 240.4,200.7 244.0,198.5 241.9,196.4" fill="#c9ff36" stroke="#c9ff36" stroke-width="0.4"/>
<polygon points="259.6,199.1 261.7,200.5 265.3,198.2 263.2,196.9" fill="#80ff7f" stroke="#80ff7f" stroke-width="0.4"/>
<polygon points="224.8,196.1 226.9,198.4 230.5,196.7 228.4,194.5" fill="#b1ff4e" stroke="#b1ff4e" stroke-width="0.4"/>
<polygon points="246.1,200.2 248.2,201.5 251.8,199.1 249.7,197.9" fill="#aeff51" stroke="#aeff51" stroke-width="0.4"/>
<polygon points="232.6,198.7 234.7,200.7 238.3,198.6 236.2,196.7" fill="#b3ff4c" stroke="#b3ff4c" stroke-width="0.4"/>
<polygon points="253.9,200.3 256.0,201.9 259.6,199.1 257.5,197.6" fill="#9cff63" stroke="#9cff63" stroke-width="0.4"/>
<polygon points="219.1,197.3 221.2,199.6 224.8,196.1 222.7,193.8" fill="#bcff43" stroke="#bcff43" stroke-width="0.4"/>
<polygon points="240.4,200.7 242.5,202.6 246.1,200.2 244.0,198.5" fill="#cdff32" stroke="#cdff32" stroke-width="0.4"/>
<polygon points="261.7,200.5 263.8,201.6 267.4,199.2 265.3,198.2" fill="#86ff79" stroke="#86ff79" stroke-width="0.4"/>
<polygon points="226.9,198.4 229.0,200.5 232.6,198.7 230.5,196.7" fill="#aaff55" stroke="#aaff55" stroke-width="0.4"/>
<polygon points="248.2,201.5 250.3,202.8 253.9,200.3 251.8,199.1" fill="#b5ff4a" stroke="#b5ff4a" stroke-width="0.4"/>
<polygon points="234.7,200.7 236.8,202.9 240.4,200.7 238.3,198.6" fill="#b3ff4c" stroke="#b3ff4c" stroke-width="0.4"/>
<polygon points="256.0,201.9 258.1,203.4 261.7,200.5 259.6,199.1" fill="#a8ff57" stroke="#a8ff57" stroke-width="0.4"/>
<polygon points="221.2,199.6 223.3,201.9 226.9,198.4 224.8,196.1" fill="#aeff51" stroke="#aeff51" stroke-width="0.4"/>
<polygon points="242.5,202.6 244.6,203.9 248.2,201.5 246.1,200.2" fill="#d1ff2e" stroke="#d1ff2e" stroke-width="0.4"/>
<polygon points="263.8,201.6 265.9,202.6 269.5,200.2 267.4,199.2" fill="#8cff73" stroke="#8cff73" stroke-width="0.4"/>
<polygon points="229.0,200.5 231.1,202.7 234.7,200.7 232.6,198.7" fill="#a2ff5d" stroke="#a2ff5d" stroke-width="0.4"/>
<polygon points="250.3,202.8 252.4,204.5 256.0,201.9 253.9,200.3" fill="#c2ff3d" stroke="#c2ff3d" stroke-width="0.4"/>
<polygon points="215.5,201.0 217.6,203.4 221.2,199.6 219.1,197.3" fill="#a0ff5f" stroke="#a0ff5f" stroke-width="0.4"/>
<polygon points="236.8,202.9 238.9,204.8 242.5,202.6 240.4,200.7" fill="#b8ff47" stroke="#b8ff47" stroke-width="0.4"/>
<polygon points="258.1,203.4 260.2,204.6 263.8,201.6 261.7,200.5" fill="#b2ff4d" stroke="#b2ff4d" stroke-width="0.4"/>
<polygon points="223.3,201.9 225.4,204.0 229.0,200.5 226.9,198.4" fill="#a1ff5e" stroke="#a1ff5e" stroke-width="0.4"/>
<polygon points="244.6,203.9 246.7,205.3 250.3,202.8 248.2,201.5" fill="#d2ff2d" stroke="#d2ff2d" stroke-width="0.4"/>
<polygon points="265.9,202.6 268.0,203.6 271.6,201.1 269.5,200.2" fill="#92ff6d" stroke="#92ff6d" stroke-width="0.4"/>
<polygon points="231.1,202.7 233.2,205.0 236.8,202.9 234.7,200.7" fill="#9dff62" stroke="#9dff62" stroke-width="0.4"/>
<polygon points="252.4,204.5 254.5,206.1 258.1,203.4 256.0,201.9" fill="#ceff31" stroke="#ceff31" stroke-width="0.4"/>
<polygon points="217.6,203.4 219.8,205.7 223.3,201.9 221.2,199.6" fill="#93ff6c" stroke="#93ff6c" stroke-width="0.4"/>
<polygon points="238.9,204.8 241.1,206.3 244.6,203.9 242.5,202.6" fill="#bfff40" stroke="#bfff40" stroke-width="0.4"/>
<polygon points="260.2,204.6 262.4,205.8 265.9,202.6 263.8,201.6" fill="#b9ff46" stroke="#b9ff46" stroke-width="0.4"/>
<polygon points="225.4,204.0 227.6,206.1 231.1,202.7 229.0,200.5" fill="#95ff6a" stroke="#95ff6a" stroke-width="0.4"/>
<polygon points="246.7,205.3 248.9,207.1 252.4,204.5 250.3,202.8" fill="#d9ff26" stroke="#d9ff26" stroke-width="0.4"/>
<polygon points="211.9,205.9 214.1,208.2 217.6,203.4 215.5,201.0" fill="#81ff7e" stroke="#81ff7e" stroke-width="0.4"/>
<polygon points="268.0,203.6 270.2,204.6 273.7,202.0 271.6,201.1" fill="#96ff69" stroke="#96ff69" stroke-width="0.4"/>
<polygon points="233.2,205.0 235.4,207.0 238.9,204.8 236.8,202.9" fill="#9dff62" stroke="#9dff62" stroke-width="0.4"/>
<polygon points="254.5,206.1 256.7,207.4 260.2,204.6 258.1,203.4" fill="#d8ff27" stroke="#d8ff27" stroke-width="0.4"/>
<polygon points="219.8,205.7 221.9,207.8 225.4,204.0 223.3,201.9" fill="#86ff79" stroke="#86ff79" stroke-width="0.4"/>
<polygon points="241.1,206.3 243.2,207.8 246.7,205.3 244.6,203.9" fill="#c6ff39" stroke="#c6ff39" stroke-width="0.4"/>
<polygon points="262.4,205.8 264.5,207.0 268.0,203.6 265.9,202.6" fill="#bdff42" stroke="#bdff42" stroke-width="0.4"/>
<polygon points="227.6,206.1 229.7,208.4 233.2,205.0 231.1,202.7" fill="#8bff74" stroke="#8bff74" stroke-width="0.4"/>
<polygon points="248.9,207.1 251.0,208.8 254.5,206.1 252.4,204.5" fill="#e2ff1d" stroke="#e2ff1d" stroke-width="0.4"/>
<polygon points="214.1,208.2 216.2,210.6 219.8,205.7 217.6,203.4" fill="#71ff8e" stroke="#71ff8e" stroke-width="0.4"/>
<polygon points="270.2,204.6 272.3,205.5 275.9,202.7 273.7,202.0" fill="#96ff69" stroke="#96ff69" stroke-width="0.4"/>
<polygon points="235.4,207.0 237.5,208.5 241.1,206.3 238.9,204.8" fill="#9fff60" stroke="#9fff60" stroke-width="0.4"/>
<polygon points="256.7,207.4 258.8,208.8 262.4,205.8 260.2,204.6" fill="#ddff22" stroke="#ddff22" stroke-width="0.4"/>
<polygon points="221.9,207.8 224.0,209.8 227.6,206.1 225.4,204.0" fill="#7aff85" stroke="#7aff85" stroke-width="0.4"/>
<polygon points="243.2,207.8 245.3,209.6 248.9,207.1 246.7,205.3" fill="#cdff32" stroke="#cdff32" stroke-width="0.4"/>
<polygon points="208.4,210.7 210.5,213.1 214.1,208.2 211.9,205.9" fill="#74ff8b" stroke="#74ff8b" stroke-width="0.4"/>
<polygon points="264.5,207.0 266.6,208.2 270.2,204.6 268.0,203.6" fill="#beff41" stroke="#beff41" stroke-width="0.4"/>
<polygon points="229.7,208.4 231.8,210.2 235.4,207.0 233.2,205.0" fill="#83ff7c" stroke="#83ff7c" stroke-width="0.4"/>
<polygon points="251.0,208.8 253.1,210.3 256.7,207.4 254.5,206.1" fill="#e9ff16" stroke="#e9ff16" stroke-width="0.4"/>
<polygon points="216.2,210.6 218.3,212.6 221.9,207.8 219.8,205.7" fill="#61ff9e" stroke="#61ff9e" stroke-width="0.4"/>
<polygon points="272.3,205.5 274.4,206.3 278.0,203.4 275.9,202.7" fill="#92ff6d" stroke="#92ff6d" stroke-width="0.4"/>
<polygon points="237.5,208.5 239.6,210.1 243.2,207.8 241.1,206.3" fill="#a1ff5e" stroke="#a1ff5e" stroke-width="0.4"/>
<polygon points="258.8,208.8 260.9,210.1 264.5,207.0 262.4,205.8" fill="#dbff24" stroke="#dbff24" stroke-width="0.4"/>
<polygon points="224.0,209.8 226.1,212.0 229.7,208.4 227.6,206.1" fill="#6eff91" stroke="#6eff91" stroke-width="0.4"/>
<polygon points="245.3,209.6 247.4,211.5 251.0,208.8 248.9,207.1" fill="#d5ff2a" stroke="#d5ff2a" stroke-width="0.4"/>
<polygon points="210.5,213.1 212.6,215.5 216.2,210.6 214.1,208.2" fill="#5affa5" stroke="#5affa5" stroke-width="0.4"/>
<polygon points="266.6,208.2 268.7,209.2 272.3,205.5 270.2,204.6" fill="#bbff44" stroke="#bbff44" stroke-width="0.4"/>
<polygon points="231.8,210.2 233.9,211.7 237.5,208.5 235.4,207.0" fill="#7cff83" stroke="#7cff83" stroke-width="0.4"/>
<polygon points="253.1,210.3 255.2,211.7 258.8,208.8 256.7,207.4" fill="#eaff15" stroke="#eaff15" stroke-width="0.4"/>
<polygon points="218.3,212.6 220.4,214.6 224.0,209.8 221.9,207.8" fill="#54ffab" stroke="#54ffab" stroke-width="0.4"/>
<polygon points="274.4,206.3 276.5,206.8 280.1,203.8 278.0,203.4" fill="#8bff74" stroke="#8bff74" stroke-width="0.4"/>
<polygon points="239.6,210.1 241.7,212.0 245.3,209.6 243.2,207.8" fill="#a3ff5c" stroke="#a3ff5c" stroke-width="0.4"/>
<polygon points="204.8,216.1 206.9,218.4 210.5,213.1 208.4,210.7" fill="#64ff9b" stroke="#64ff9b" stroke-width="0.4"/>
<polygon points="260.9,210.1 263.0,211.5 266.6,208.2 264.5,207.0" fill="#d4ff2b" stroke="#d4ff2b" stroke-width="0.4"/>
<polygon points="226.1,212.0 228.2,213.8 231.8,210.2 229.7,208.4" fill="#63ff9c" stroke="#63ff9c" stroke-width="0.4"/>
<polygon points="247.4,211.5 249.5,213.1 253.1,210.3 251.0,208.8" fill="#dcff23" stroke="#dcff23" stroke-width="0.4"/>
<polygon points="212.6,215.5 214.7,217.5 218.3,212.6 216.2,210.6" fill="#43ffbc" stroke="#43ffbc" stroke-width="0.4"/>
<polygon points="268.7,209.2 270.8,210.3 274.4,206.3 272.3,205.5" fill="#b4ff4b" stroke="#b4ff4b" stroke-width="0.4"/>
<polygon points="233.9,211.7 236.0,213.2 239.6,210.1 237.5,208.5" fill="#76ff89" stroke="#76ff89" stroke-width="0.4"/>
<polygon points="255.2,211.7 257.3,213.2 260.9,210.1 258.8,208.8" fill="#e2ff1d" stroke="#e2ff1d" stroke-width="0.4"/>
<polygon points="220.4,214.6 222.5,216.8 226.1,212.0 224.0,209.8" fill="#48ffb7" stroke="#48ffb7" stroke-width="0.4"/>
<polygon points="276.5,206.8 278.6,207.3 282.2,204.1 280.1,203.8" fill="#82ff7d" stroke="#82ff7d" stroke-width="0.4"/>
<polygon points="241.7,212.0 243.8,213.9 247.4,211.5 245.3,209.6" fill="#a6ff59" stroke="#a6ff59" stroke-width="0.4"/>
<polygon points="206.9,218.4 209.0,220.8 212.6,215.5 210.5,213.1" fill="#45ffba" stroke="#45ffba" stroke-width="0.4"/>
<polygon points="263.0,211.5 265.1,212.7 268.7,209.2 266.6,208.2" fill="#c8ff37" stroke="#c8ff37" stroke-width="0.4"/>
<polygon points="228.2,213.8 230.3,215.2 233.9,211.7 231.8,210.2" fill="#59ffa6" stroke="#59ffa6" stroke-width="0.4"/>
<polygon points="249.5,213.1 251.6,214.7 255.2,211.7 253.1,210.3" fill="#ddff22" stroke="#ddff22" stroke-width="0.4"/>
<polygon points="214.7,217.5 216.8,219.5 220.4,214.6 218.3,212.6" fill="#33ffcc" stroke="#33ffcc" stroke-width="0.4"/>
<polygon points="270.8,210.3 272.9,211.0 276.5,206.8 274.4,206.3" fill="#abff54" stroke="#abff54" stroke-width="0.4"/>
<polygon points="236.0,213.2 238.1,215.0 241.7,212.0 239.6,210.1" fill="#6fff90" stroke="#6fff90" stroke-width="0.4"/>
<polygon points="201.2,221.5 203.3,223.8 206.9,218.4 204.8,216.1" fill="#4bffb4" stroke="#4bffb4" stroke-width="0.4"/>
<polygon points="257.3,213.2 259.4,214.8 263.0,211.5 260.9,210.1" fill="#d1ff2e" stroke="#d1ff2e" stroke-width="0.4"/>
<polygon points="222.5,216.8 224.6,218.4 228.2,213.8 226.1,212.0" fill="#3fffc0" stroke="#3fffc0" stroke-width="0.4"/>
<polygon points="278.6,207.3 280.7,212.2 284.3,209.3 282.2,204.1" fill="#77ff88" stroke="#77ff88" stroke-width="0.4"/>
<polygon points="243.8,213.9 245.9,215.6 249.5,213.1 247.4,211.5" fill="#acff53" stroke="#acff53" stroke-width="0.4"/>
<polygon points="209.0,220.8 211.1,222.7 214.7,217.5 212.6,215.5" fill="#2dffd2" stroke="#2dffd2" stroke-width="0.4"/>
<polygon points="265.1,212.7 267.2,213.9 270.8,210.3 268.7,209.2" fill="#beff41" stroke="#beff41" stroke-width="0.4"/>
<polygon points="230.3,215.2 232.4,216.6 236.0,213.2 233.9,211.7" fill="#51ffae" stroke="#51ffae" stroke-width="0.4"/>
<polygon points="251.6,214.7 253.7,216.4 257.3,213.2 255.2,211.7" fill="#d3ff2c" stroke="#d3ff2c" stroke-width="0.4"/>
<polygon points="216.8,219.5 218.9,221.5 222.5,216.8 220.4,214.6" fill="#29ffd6" stroke="#29ffd6" stroke-width="0.4"/>
<polygon points="272.9,211.0 275.0,211.7 278.6,207.3 276.5,206.8" fill="#a4ff5b" stroke="#a4ff5b" stroke-width="0.4"/>
<polygon points="238.1,215.0 240.2,216.9 243.8,213.9 241.7,212.0" fill="#67ff98" stroke="#67ff98" stroke-width="0.4"/>
<polygon points="203.3,223.8 205.4,226.1 209.0,220.8 206.9,218.4" fill="#33ffcc" stroke="#33ffcc" stroke-width="0.4"/>
<polygon points="259.4,214.8 261.5,216.2 265.1,212.7 263.0,211.5" fill="#beff41" stroke="#beff41" stroke-width="0.4"/>
<polygon points="224.6,218.4 226.7,219.8 230.3,215.2 228.2,213.8" fill="#38ffc7" stroke="#38ffc7" stroke-width="0.4"/>
<polygon points="280.7,212.2 282.8,217.1 286.4,214.4 284.3,209.3" fill="#6aff95" stroke="#6aff95" stroke-width="0.4"/>
<polygon points="245.9,215.6 248.0,217.4 251.6,214.7 249.5,213.1" fill="#b1ff4e" stroke="#b1ff4e" stroke-width="0.4"/>
<polygon points="211.1,222.7 213.2,224.7 216.8,219.5 214.7,217.5" fill="#1fffe0" stroke="#1fffe0" stroke-width="0.4"/>
<polygon points="267.2,213.9 269.3,214.8 272.9,211.0 270.8,210.3" fill="#b7ff48" stroke="#b7ff48" stroke-width="0.4"/>
<polygon points="232.4,216.6 234.5,218.3 238.1,215.0 236.0,213.2" fill="#4affb5" stroke="#4affb5" stroke-width="0.4"/>
<polygon points="253.7,216.4 255.8,218.1 259.4,214.8 257.3,213.2" fill="#c5ff3a" stroke="#c5ff3a" stroke-width="0.4"/>
<polygon points="218.9,221.5 221.0,223.1 224.6,218.4 222.5,216.8" fill="#21ffde" stroke="#21ffde" stroke-width="0.4"/>
<polygon points="275.0,211.7 277.1,216.3 280.7,212.2 278.6,207.3" fill="#9dff62" stroke="#9dff62" stroke-width="0.4"/>
<polygon points="240.2,216.9 242.3,218.6 245.9,215.6 243.8,213.9" fill="#61ff9e" stroke="#61ff9e" stroke-width="0.4"/>
<polygon points="205.4,226.1 207.5,228.0 211.1,222.7 209.0,220.8" fill="#22ffdd" stroke="#22ffdd" stroke-width="0.4"/>
<polygon points="261.5,216.2 263.6,217.6 267.2,213.9 265.1,212.7" fill="#b2ff4d" stroke="#b2ff4d" stroke-width="0.4"/>
<polygon points="226.7,219.8 228.8,221.1 232.4,216.6 230.3,215.2" fill="#34ffcb" stroke="#34ffcb" stroke-width="0.4"/>
<polygon points="248.0,217.4 250.1,219.2 253.7,216.4 251.6,214.7" fill="#b5ff4a" stroke="#b5ff4a" stroke-width="0.4"/>
<polygon points="213.2,224.7 215.3,226.6 218.9,221.5 216.8,219.5" fill="#16ffe9" stroke="#16ffe9" stroke-width="0.4"/>
<polygon points="269.3,214.8 271.4,215.7 275.0,211.7 272.9,211.0" fill="#b2ff4d" stroke="#b2ff4d" stroke-width="0.4"/>
<polygon points="234.5,218.3 236.6,220.1 240.2,216.9 238.1,215.0" fill="#41ffbe" stroke="#41ffbe" stroke-width="0.4"/>
<polygon points="255.8,218.1 257.9,219.7 261.5,216.2 259.4,214.8" fill="#b5ff4a" stroke="#b5ff4a" stroke-width="0.4"/>
<polygon points="221.0,223.1 223.1,224.4 226.7,219.8 224.6,218.4" fill="#1dffe2" stroke="#1dffe2" stroke-width="0.4"/>
<polygon points="277.1,216.3 279.2,221.0 282.8,217.1 280.7,212.2" fill="#8eff71" stroke="#8eff71" stroke-width="0.4"/>
<polygon points="242.3,218.6 244.4,220.2 248.0,217.4 245.9,215.6" fill="#68ff97" stroke="#68ff97" stroke-width="0.4"/>
<polygon points="207.5,228.0 209.6,229.9 213.2,224.7 211.1,222.7" fill="#19ffe6" stroke="#19ffe6" stroke-width="0.4"/>
<polygon points="263.6,217.6 265.7,218.6 269.3,214.8 267.2,213.9" fill="#b2ff4d" stroke="#b2ff4d" stroke-width="0.4"/>
<polygon points="228.8,221.1 230.9,222.7 234.5,218.3 232.4,216.6" fill="#32ffcd" stroke="#32ffcd" stroke-width="0.4"/>
<polygon points="250.1,219.2 252.2,221.1 255.8,218.1 253.7,216.4" fill="#c3ff3c" stroke="#c3ff3c" stroke-width="0.4"/>
<polygon points="215.3,226.6 217.4,228.0 221.0,223.1 218.9,221.5" fill="#10ffef" stroke="#10ffef" stroke-width="0.4"/>
<polygon points="271.4,215.7 273.5,220.1 277.1,216.3 275.0,211.7" fill="#adff52" stroke="#adff52" stroke-width="0.4"/>
<polygon points="236.6,220.1 238.7,221.7 242.3,218.6 240.2,216.9" fill="#39ffc6" stroke="#39ffc6" stroke-width="0.4"/>
<polygon points="257.9,219.7 260.0,221.3 263.6,217.6 261.5,216.2" fill="#acff53" stroke="#acff53" stroke-width="0.4"/>
<polygon points="223.1,224.4 225.2,225.7 228.8,221.1 226.7,219.8" fill="#20ffdf" stroke="#20ffdf" stroke-width="0.4"/>
<polygon points="244.4,220.2 246.5,222.1 250.1,219.2 248.0,217.4" fill="#80ff7f" stroke="#80ff7f" stroke-width="0.4"/>
<polygon points="209.6,229.9 211.8,231.7 215.3,226.6 213.2,224.7" fill="#10ffef" stroke="#10ffef" stroke-width="0.4"/>
<polygon points="265.7,218.6 267.8,219.7 271.4,215.7 269.3,214.8" fill="#b5ff4a" stroke="#b5ff4a" stroke-width="0.4"/>
<polygon points="230.9,222.7 233.0,224.4 236.6,220.1 234.5,218.3" fill="#2effd1" stroke="#2effd1" stroke-width="0.4"/>
<polygon points="252.2,221.1 254.3,222.9 257.9,219.7 255.8,218.1" fill="#d8ff27" stroke="#d8ff27" stroke-width="0.4"/>
<polygon points="217.4,228.0 219.6,229.2 223.1,224.4 221.0,223.1" fill="#0efff1" stroke="#0efff1" stroke-width="0.4"/>
<polygon points="273.5,220.1 275.6,224.5 279.2,221.0 277.1,216.3" fill="#a0ff5f" stroke="#a0ff5f" stroke-width="0.4"/>
<polygon points="238.7,221.7 240.9,223.4 244.4,220.2 242.3,218.6" fill="#3dffc2" stroke="#3dffc2" stroke-width="0.4"/>
<polygon points="260.0,221.3 262.2,222.5 265.7,218.6 263.6,217.6" fill="#b3ff4c" stroke="#b3ff4c" stroke-width="0.4"/>
<polygon points="225.2,225.7 227.4,227.2 230.9,222.7 228.8,221.1" fill="#24ffdb" stroke="#24ffdb" stroke-width="0.4"/>
<polygon points="246.5,222.1 248.7,224.0 252.2,221.1 250.1,219.2" fill="#adff52" stroke="#adff52" stroke-width="0.4"/>
<polygon points="211.8,231.7 213.9,233.0 217.4,228.0 215.3,226.6" fill="#0bfff4" stroke="#0bfff4" stroke-width="0.4"/>
<polygon points="267.8,219.7 270.0,223.9 273.5,220.1 271.4,215.7" fill="#afff50" stroke="#afff50" stroke-width="0.4"/>
<polygon points="233.0,224.4 235.2,226.1 238.7,221.7 236.6,220.1" fill="#26ffd9" stroke="#26ffd9" stroke-width="0.4"/>
<polygon points="254.3,222.9 256.5,224.6 260.0,221.3 257.9,219.7" fill="#ebff14" stroke="#ebff14" stroke-width="0.4"/>
<polygon points="219.6,229.2 221.7,230.4 225.2,225.7 223.1,224.4" fill="#11ffee" stroke="#11ffee" stroke-width="0.4"/>
<polygon points="240.9,223.4 243.0,225.2 246.5,222.1 244.4,220.2" fill="#4bffb4" stroke="#4bffb4" stroke-width="0.4"/>
<polygon points="262.2,222.5 264.3,223.7 267.8,219.7 265.7,218.6" fill="#b6ff49" stroke="#b6ff49" stroke-width="0.4"/>
<polygon points="227.4,227.2 229.5,228.8 233.0,224.4 230.9,222.7" fill="#1fffe0" stroke="#1fffe0" stroke-width="0.4"/>
<polygon points="248.7,224.0 250.8,225.8 254.3,222.9 252.2,221.1" fill="#f4ff0b" stroke="#f4ff0b" stroke-width="0.4"/>
<polygon points="213.9,233.0 216.0,234.1 219.6,229.2 217.4,228.0" fill="#07fff8" stroke="#07fff8" stroke-width="0.4"/>
<polygon points="270.0,223.9 272.1,228.1 275.6,224.5 273.5,220.1" fill="#9cff63" stroke="#9cff63" stroke-width="0.4"/>
<polygon points="235.2,226.1 237.3,227.7 240.9,223.4 238.7,221.7" fill="#1bffe4" stroke="#1bffe4" stroke-width="0.4"/>
<polygon points="256.5,224.6 258.6,226.0 262.2,222.5 260.0,221.3" fill="#ebff14" stroke="#ebff14" stroke-width="0.4"/>
<polygon points="221.7,230.4 223.8,231.8 227.4,227.2 225.2,225.7" fill="#14ffeb" stroke="#14ffeb" stroke-width="0.4"/>
<polygon points="243.0,225.2 245.1,227.1 248.7,224.0 246.5,222.1" fill="#71ff8e" stroke="#71ff8e" stroke-width="0.4"/>
<polygon points="264.3,223.7 266.4,227.7 270.0,223.9 267.8,219.7" fill="#a7ff58" stroke="#a7ff58" stroke-width="0.4"/>
<polygon points="229.5,228.8 231.6,230.4 235.2,226.1 233.0,224.4" fill="#15ffea" stroke="#15ffea" stroke-width="0.4"/>
<polygon points="250.8,225.8 252.9,227.5 256.5,224.6 254.3,222.9" fill="#ffcc00" stroke="#ffcc00" stroke-width="0.4"/>
<polygon points="216.0,234.1 218.1,235.2 221.7,230.4 219.6,229.2" fill="#06fff9" stroke="#06fff9" stroke-width="0.4"/>
<polygon points="237.3,227.7 239.4,229.6 243.0,225.2 240.9,223.4" fill="#16ffe9" stroke="#16ffe9" stroke-width="0.4"/>
<polygon points="258.6,226.0 260.7,227.4 264.3,223.7 262.2,222.5" fill="#d2ff2d" stroke="#d2ff2d" stroke-width="0.4"/>
<polygon points="223.8,231.8 225.9,233.3 229.5,228.8 227.4,227.2" fill="#13ffec" stroke="#13ffec" stroke-width="0.4"/>
<polygon points="245.1,227.1 247.2,228.9 250.8,225.8 248.7,224.0" fill="#b0ff4f" stroke="#b0ff4f" stroke-width="0.4"/>
<polygon points="266.4,227.7 268.5,231.7 272.1,228.1 270.0,223.9" fill="#8fff70" stroke="#8fff70" stroke-width="0.4"/>
<polygon points="231.6,230.4 233.7,232.0 237.3,227.7 235.2,226.1" fill="#08fff7" stroke="#08fff7" stroke-width="0.4"/>
<polygon points="252.9,227.5 255.0,228.9 258.6,226.0 256.5,224.6" fill="#ffce00" stroke="#ffce00" stroke-width="0.4"/>
<polygon points="218.1,235.2 220.2,236.4 223.8,231.8 221.7,230.4" fill="#05fffa" stroke="#05fffa" stroke-width="0.4"/>
<polygon points="239.4,229.6 241.5,231.4 245.1,227.1 243.0,225.2" fill="#21ffde" stroke="#21ffde" stroke-width="0.4"/>
<polygon points="260.7,227.4 262.8,231.2 266.4,227.7 264.3,223.7" fill="#aaff55" stroke="#aaff55" stroke-width="0.4"/>
<polygon points="225.9,233.3 228.0,234.9 231.6,230.4 229.5,228.8" fill="#0dfff2" stroke="#0dfff2" stroke-width="0.4"/>
<polygon points="247.2,228.9 249.3,230.7 252.9,227.5 250.8,225.8" fill="#e8ff17" stroke="#e8ff17" stroke-width="0.4"/>
<polygon points="233.7,232.0 235.8,233.9 239.4,229.6 237.3,227.7" fill="#00f9ff" stroke="#00f9ff" stroke-width="0.4"/>
<polygon points="255.0,228.9 257.1,230.3 260.7,227.4 258.6,226.0" fill="#eeff11" stroke="#eeff11" stroke-width="0.4"/>
<polygon points="220.2,236.4 222.3,237.9 225.9,233.3 223.8,231.8" fill="#03fffc" stroke="#03fffc" stroke-width="0.4"/>
<polygon points="241.5,231.4 243.6,233.3 247.2,228.9 245.1,227.1" fill="#42ffbd" stroke="#42ffbd" stroke-width="0.4"/>
<polygon points="262.8,231.2 264.9,234.9 268.5,231.7 266.4,227.7" fill="#82ff7d" stroke="#82ff7d" stroke-width="0.4"/>
<polygon points="228.0,234.9 230.1,236.4 233.7,232.0 231.6,230.4" fill="#04fffb" stroke="#04fffb" stroke-width="0.4"/>
<polygon points="249.3,230.7 251.4,232.1 255.0,228.9 252.9,227.5" fill="#f5ff0a" stroke="#f5ff0a" stroke-width="0.4"/>
<polygon points="235.8,233.9 237.9,235.8 241.5,231.4 239.4,229.6" fill="#00f4ff" stroke="#00f4ff" stroke-width="0.4"/>
<polygon points="257.1,230.3 259.2,233.7 262.8,231.2 260.7,227.4" fill="#a1ff5e" stroke="#a1ff5e" stroke-width="0.4"/>
<polygon points="222.3,237.9 224.4,239.3 228.0,234.9 225.9,233.3" fill="#00fdff" stroke="#00fdff" stroke-width="0.4"/>
<polygon points="243.6,233.3 245.7,235.1 249.3,230.7 247.2,228.9" fill="#67ff98" stroke="#67ff98" stroke-width="0.4"/>
<polygon points="230.1,236.4 232.2,238.2 235.8,233.9 233.7,232.0" fill="#00f5ff" stroke="#00f5ff" stroke-width="0.4"/>
<polygon points="251.4,232.1 253.5,233.5 257.1,230.3 255.0,228.9" fill="#d0ff2f" stroke="#d0ff2f" stroke-width="0.4"/>
<polygon points="237.9,235.8 240.0,237.7 243.6,233.3 241.5,231.4" fill="#00fcff" stroke="#00fcff" stroke-width="0.4"/>
<polygon points="259.2,233.7 261.3,237.1 264.9,234.9 262.8,231.2" fill="#6eff91" stroke="#6eff91" stroke-width="0.4"/>
<polygon points="224.4,239.3 226.5,240.8 230.1,236.4 228.0,234.9" fill="#00f5ff" stroke="#00f5ff" stroke-width="0.4"/>
<polygon points="245.7,235.1 247.8,236.5 251.4,232.1 249.3,230.7" fill="#85ff7a" stroke="#85ff7a" stroke-width="0.4"/>
<polygon points="232.2,238.2 234.3,240.1 237.9,235.8 235.8,233.9" fill="#00e8ff" stroke="#00e8ff" stroke-width="0.4"/>
<polygon points="253.5,233.5 255.6,236.5 259.2,233.7 257.1,230.3" fill="#99ff66" stroke="#99ff66" stroke-width="0.4"/>
<polygon points="240.0,237.7 242.1,239.5 245.7,235.1 243.6,233.3" fill="#0ffff0" stroke="#0ffff0" stroke-width="0.4"/>
<polygon points="226.5,240.8 228.6,242.6 232.2,238.2 230.1,236.4" fill="#00e6ff" stroke="#00e6ff" stroke-width="0.4"/>
<polygon points="247.8,236.5 249.9,237.9 253.5,233.5 251.4,232.1" fill="#90ff6f" stroke="#90ff6f" stroke-width="0.4"/>
<polygon points="234.3,240.1 236.4,242.0 240.0,237.7 237.9,235.8" fill="#00e1ff" stroke="#00e1ff" stroke-width="0.4"/>
<polygon points="255.6,236.5 257.7,239.5 261.3,237.1 259.2,233.7" fill="#6cff93" stroke="#6cff93" stroke-width="0.4"/>
<polygon points="242.1,239.5 244.2,240.9 247.8,236.5 245.7,235.1" fill="#29ffd6" stroke="#29ffd6" stroke-width="0.4"/>
<polygon points="228.6,242.6 230.7,244.4 234.3,240.1 232.2,238.2" fill="#00d6ff" stroke="#00d6ff" stroke-width="0.4"/>
<polygon points="249.9,237.9 252.0,240.5 255.6,236.5 253.5,233.5" fill="#84ff7b" stroke="#84ff7b" stroke-width="0.4"/>
<polygon points="236.4,242.0 238.5,243.8 242.1,239.5 240.0,237.7" fill="#00e1ff" stroke="#00e1ff" stroke-width="0.4"/>
<polygon points="244.2,240.9 246.3,242.3 249.9,237.9 247.8,236.5" fill="#41ffbe" stroke="#41ffbe" stroke-width="0.4"/>
<polygon points="230.7,244.4 232.8,246.3 236.4,242.0 234.3,240.1" fill="#00c7ff" stroke="#00c7ff" stroke-width="0.4"/>
<polygon points="252.0,240.5 254.1,243.1 257.7,239.5 255.6,236.5" fill="#6aff95" stroke="#6aff95" stroke-width="0.4"/>
<polygon points="238.5,243.8 240.7,245.2 244.2,240.9 242.1,239.5" fill="#00e3ff" stroke="#00e3ff" stroke-width="0.4"/>
<polygon points="246.3,242.3 248.5,244.5 252.0,240.5 249.9,237.9" fill="#4fffb0" stroke="#4fffb0" stroke-width="0.4"/>
<polygon points="232.8,246.3 235.0,248.1 238.5,243.8 236.4,242.0" fill="#00b9ff" stroke="#00b9ff" stroke-width="0.4"/>
<polygon points="240.7,245.2 242.8,246.6 246.3,242.3 244.2,240.9" fill="#00e6ff" stroke="#00e6ff" stroke-width="0.4"/>
<polygon points="248.5,244.5 250.6,246.8 254.1,243.1 252.0,240.5" fill="#49ffb6" stroke="#49ffb6" stroke-width="0.4"/>
<polygon points="235.0,248.1 237.1,249.4 240.7,245.2 238.5,243.8" fill="#00abff" stroke="#00abff" stroke-width="0.4"/>
<polygon points="242.8,246.6 244.9,248.4 248.5,244.5 246.3,242.3" fill="#00eeff" stroke="#00eeff" stroke-width="0.4"/>
<polygon points="237.1,249.4 239.2,250.8 242.8,246.6 240.7,245.2" fill="#009eff" stroke="#009eff" stroke-width="0.4"/>
<polygon points="244.9,248.4 247.0,250.2 250.6,246.8 248.5,244.5" fill="#00ecff" stroke="#00ecff" stroke-width="0.4"/>
<polygon points="239.2,250.8 241.3,252.2 244.9,248.4 242.8,246.6" fill="#0092ff" stroke="#0092ff" stroke-width="0.4"/>
<polygon points="241.3,252.2 243.4,253.6 247.0,250.2 244.9,248.4" fill="#0083ff" stroke="#0083ff" stroke-width="0.4"/>
</g>
<path d="M201.2,221.5 L204.8,216.1 L208.4,210.7 L211.9,205.9 L215.5,201.0 L219.1,197.3 L222.7,193.8 L226.3,192.4 L229.9,190.9 L233.4,189.4 L237.0,187.8 L240.6,186.2 L244.2,184.6 M205.4,226.1 L209.0,220.8 L212.6,215.5 L216.2,210.6 L219.8,205.7 L223.3,201.9 L226.9,198.4 L230.5,196.7 L234.1,194.9 L237.7,193.0 L241.3,191.1 L244.8,189.1 L248.4,187.3 M209.6,229.9 L213.2,224.7 L216.8,219.5 L220.4,214.6 L224.0,209.8 L227.6,206.1 L231.1,202.7 L234.7,200.7 L238.3,198.6 L241.9,196.4 L245.5,194.3 L249.1,192.0 L252.6,189.9 M213.9,233.0 L217.4,228.0 L221.0,223.1 L224.6,218.4 L228.2,213.8 L231.8,210.2 L235.4,207.0 L238.9,204.8 L242.5,202.6 L246.1,200.2 L249.7,197.9 L253.3,195.4 L256.9,193.3 M218.1,235.2 L221.7,230.4 L225.2,225.7 L228.8,221.1 L232.4,216.6 L236.0,213.2 L239.6,210.1 L243.2,207.8 L246.7,205.3 L250.3,202.8 L253.9,200.3 L257.5,197.6 L261.1,195.4 M222.3,237.9 L225.9,233.3 L229.5,228.8 L233.0,224.4 L236.6,220.1 L240.2,216.9 L243.8,213.9 L247.4,211.5 L251.0,208.8 L254.5,206.1 L258.1,203.4 L261.7,200.5 L265.3,198.2 M226.5,240.8 L230.1,236.4 L233.7,232.0 L237.3,227.7 L240.9,223.4 L244.4,220.2 L248.0,217.4 L251.6,214.7 L255.2,211.7 L258.8,208.8 L262.4,205.8 L265.9,202.6 L269.5,200.2 M230.7,244.4 L234.3,240.1 L237.9,235.8 L241.5,231.4 L245.1,227.1 L248.7,224.0 L252.2,221.1 L255.8,218.1 L259.4,214.8 L263.0,211.5 L266.6,208.2 L270.2,204.6 L273.7,202.0 M235.0,248.1 L238.5,243.8 L242.1,239.5 L245.7,235.1 L249.3,230.7 L252.9,227.5 L256.5,224.6 L260.0,221.3 L263.6,217.6 L267.2,213.9 L270.8,210.3 L274.4,206.3 L278.0,203.4 M239.2,250.8 L242.8,246.6 L246.3,242.3 L249.9,237.9 L253.5,233.5 L257.1,230.3 L260.7,227.4 L264.3,223.7 L267.8,219.7 L271.4,215.7 L275.0,211.7 L278.6,207.3 L282.2,204.1 M243.4,253.6 L247.0,250.2 L250.6,246.8 L254.1,243.1 L257.7,239.5 L261.3,237.1 L264.9,234.9 L268.5,231.7 L272.1,228.1 L275.6,224.5 L279.2,221.0 L282.8,217.1 L286.4,214.4 M201.2,221.5 L203.3,223.8 L205.4,226.1 L207.5,228.0 L209.6,229.9 L211.8,231.7 L213.9,233.0 L216.0,234.1 L218.1,235.2 L220.2,236.4 L222.3,237.9 L224.4,239.3 L226.5,240.8 L228.6,242.6 L230.7,244.4 L232.8,246.3 L235.0,248.1 L237.1,249.4 L239.2,250.8 L241.3,252.2 L243.4,253.6 M208.4,210.7 L210.5,213.1 L212.6,215.5 L214.7,217.5 L216.8,219.5 L218.9,221.5 L221.0,223.1 L223.1,224.4 L225.2,225.7 L227.4,227.2 L229.5,228.8 L231.6,230.4 L233.7,232.0 L235.8,233.9 L237.9,235.8 L240.0,237.7 L242.1,239.5 L244.2,240.9 L246.3,242.3 L248.5,244.5 L250.6,246.8 M215.5,201.0 L217.6,203.4 L219.8,205.7 L221.9,207.8 L224.0,209.8 L226.1,212.0 L228.2,213.8 L230.3,215.2 L232.4,216.6 L234.5,218.3 L236.6,220.1 L238.7,221.7 L240.9,223.4 L243.0,225.2 L245.1,227.1 L247.2,228.9 L249.3,230.7 L251.4,232.1 L253.5,233.5 L255.6,236.5 L257.7,239.5 M222.7,193.8 L224.8,196.1 L226.9,198.4 L229.0,200.5 L231.1,202.7 L233.2,205.0 L235.4,207.0 L237.5,208.5 L239.6,210.1 L241.7,212.0 L243.8,213.9 L245.9,215.6 L248.0,217.4 L250.1,219.2 L252.2,221.1 L254.3,222.9 L256.5,224.6 L258.6,226.0 L260.7,227.4 L262.8,231.2 L264.9,234.9 M229.9,190.9 L232.0,192.9 L234.1,194.9 L236.2,196.7 L238.3,198.6 L240.4,200.7 L242.5,202.6 L244.6,203.9 L246.7,205.3 L248.9,207.1 L251.0,208.8 L253.1,210.3 L255.2,211.7 L257.3,213.2 L259.4,214.8 L261.5,216.2 L263.6,217.6 L265.7,218.6 L267.8,219.7 L270.0,223.9 L272.1,228.1 M237.0,187.8 L239.1,189.5 L241.3,191.1 L243.4,192.6 L245.5,194.3 L247.6,196.2 L249.7,197.9 L251.8,199.1 L253.9,200.3 L256.0,201.9 L258.1,203.4 L260.2,204.6 L262.4,205.8 L264.5,207.0 L266.6,208.2 L268.7,209.2 L270.8,210.3 L272.9,211.0 L275.0,211.7 L277.1,216.3 L279.2,221.0 M244.2,184.6 L246.3,185.9 L248.4,187.3 L250.5,188.6 L252.6,189.9 L254.8,191.7 L256.9,193.3 L259.0,194.3 L261.1,195.4 L263.2,196.9 L265.3,198.2 L267.4,199.2 L269.5,200.2 L271.6,201.1 L273.7,202.0 L275.9,202.7 L278.0,203.4 L280.1,203.8 L282.2,204.1 L284.3,209.3 L286.4,214.4" fill="none" stroke="#fff" stroke-opacity="0.38" stroke-width="0.4"/>
<circle cx="201.2" cy="221.5" r="0.55" fill="#3a3a3a" fill-opacity="0.8"/>
<circle cx="208.4" cy="210.7" r="0.55" fill="#3a3a3a" fill-opacity="0.8"/>
<circle cx="215.5" cy="201.0" r="0.55" fill="#3a3a3a" fill-opacity="0.8"/>
<circle cx="222.7" cy="193.8" r="0.55" fill="#3a3a3a" fill-opacity="0.8"/>
<circle cx="229.9" cy="190.9" r="0.55" fill="#3a3a3a" fill-opacity="0.8"/>
<circle cx="237.0" cy="187.8" r="0.55" fill="#3a3a3a" fill-opacity="0.8"/>
<circle cx="244.2" cy="184.6" r="0.55" fill="#3a3a3a" fill-opacity="0.8"/>
<circle cx="205.4" cy="226.1" r="0.55" fill="#3a3a3a" fill-opacity="0.8"/>
<circle cx="212.6" cy="215.5" r="0.55" fill="#3a3a3a" fill-opacity="0.8"/>
<circle cx="219.8" cy="205.7" r="0.55" fill="#3a3a3a" fill-opacity="0.8"/>
<circle cx="226.9" cy="198.4" r="0.55" fill="#3a3a3a" fill-opacity="0.8"/>
<circle cx="234.1" cy="194.9" r="0.55" fill="#3a3a3a" fill-opacity="0.8"/>
<circle cx="241.3" cy="191.1" r="0.55" fill="#3a3a3a" fill-opacity="0.8"/>
<circle cx="248.4" cy="187.3" r="0.55" fill="#3a3a3a" fill-opacity="0.8"/>
<circle cx="209.6" cy="229.9" r="0.55" fill="#3a3a3a" fill-opacity="0.8"/>
<circle cx="216.8" cy="219.5" r="0.55" fill="#3a3a3a" fill-opacity="0.8"/>
<circle cx="224.0" cy="209.8" r="0.55" fill="#3a3a3a" fill-opacity="0.8"/>
<circle cx="231.1" cy="202.7" r="0.55" fill="#3a3a3a" fill-opacity="0.8"/>
<circle cx="238.3" cy="198.6" r="0.55" fill="#3a3a3a" fill-opacity="0.8"/>
<circle cx="245.5" cy="194.3" r="0.55" fill="#3a3a3a" fill-opacity="0.8"/>
<circle cx="252.6" cy="189.9" r="0.55" fill="#3a3a3a" fill-opacity="0.8"/>
<circle cx="213.9" cy="233.0" r="0.55" fill="#3a3a3a" fill-opacity="0.8"/>
<circle cx="221.0" cy="223.1" r="0.55" fill="#3a3a3a" fill-opacity="0.8"/>
<circle cx="228.2" cy="213.8" r="0.55" fill="#3a3a3a" fill-opacity="0.8"/>
<circle cx="235.4" cy="207.0" r="0.55" fill="#3a3a3a" fill-opacity="0.8"/>
<circle cx="242.5" cy="202.6" r="0.55" fill="#3a3a3a" fill-opacity="0.8"/>
<circle cx="249.7" cy="197.9" r="0.55" fill="#3a3a3a" fill-opacity="0.8"/>
<circle cx="256.9" cy="193.3" r="0.55" fill="#3a3a3a" fill-opacity="0.8"/>
<circle cx="218.1" cy="235.2" r="0.55" fill="#3a3a3a" fill-opacity="0.8"/>
<circle cx="225.2" cy="225.7" r="0.55" fill="#3a3a3a" fill-opacity="0.8"/>
<circle cx="232.4" cy="216.6" r="0.55" fill="#3a3a3a" fill-opacity="0.8"/>
<circle cx="239.6" cy="210.1" r="0.55" fill="#3a3a3a" fill-opacity="0.8"/>
<circle cx="246.7" cy="205.3" r="0.55" fill="#3a3a3a" fill-opacity="0.8"/>
<circle cx="253.9" cy="200.3" r="0.55" fill="#3a3a3a" fill-opacity="0.8"/>
<circle cx="261.1" cy="195.4" r="0.55" fill="#3a3a3a" fill-opacity="0.8"/>
<circle cx="222.3" cy="237.9" r="0.55" fill="#3a3a3a" fill-opacity="0.8"/>
<circle cx="229.5" cy="228.8" r="0.55" fill="#3a3a3a" fill-opacity="0.8"/>
<circle cx="236.6" cy="220.1" r="0.55" fill="#3a3a3a" fill-opacity="0.8"/>
<circle cx="243.8" cy="213.9" r="0.55" fill="#3a3a3a" fill-opacity="0.8"/>
<circle cx="251.0" cy="208.8" r="0.55" fill="#3a3a3a" fill-opacity="0.8"/>
<circle cx="258.1" cy="203.4" r="0.55" fill="#3a3a3a" fill-opacity="0.8"/>
<circle cx="265.3" cy="198.2" r="0.55" fill="#3a3a3a" fill-opacity="0.8"/>
<circle cx="226.5" cy="240.8" r="0.55" fill="#3a3a3a" fill-opacity="0.8"/>
<circle cx="233.7" cy="232.0" r="0.55" fill="#3a3a3a" fill-opacity="0.8"/>
<circle cx="240.9" cy="223.4" r="0.55" fill="#3a3a3a" fill-opacity="0.8"/>
<circle cx="248.0" cy="217.4" r="0.55" fill="#3a3a3a" fill-opacity="0.8"/>
<circle cx="255.2" cy="211.7" r="0.55" fill="#3a3a3a" fill-opacity="0.8"/>
<circle cx="262.4" cy="205.8" r="0.55" fill="#3a3a3a" fill-opacity="0.8"/>
<circle cx="269.5" cy="200.2" r="0.55" fill="#3a3a3a" fill-opacity="0.8"/>
<circle cx="230.7" cy="244.4" r="0.55" fill="#3a3a3a" fill-opacity="0.8"/>
<circle cx="237.9" cy="235.8" r="0.55" fill="#3a3a3a" fill-opacity="0.8"/>
<circle cx="245.1" cy="227.1" r="0.55" fill="#3a3a3a" fill-opacity="0.8"/>
<circle cx="252.2" cy="221.1" r="0.55" fill="#3a3a3a" fill-opacity="0.8"/>
<circle cx="259.4" cy="214.8" r="0.55" fill="#3a3a3a" fill-opacity="0.8"/>
<circle cx="266.6" cy="208.2" r="0.55" fill="#3a3a3a" fill-opacity="0.8"/>
<circle cx="273.7" cy="202.0" r="0.55" fill="#3a3a3a" fill-opacity="0.8"/>
<circle cx="235.0" cy="248.1" r="0.55" fill="#3a3a3a" fill-opacity="0.8"/>
<circle cx="242.1" cy="239.5" r="0.55" fill="#3a3a3a" fill-opacity="0.8"/>
<circle cx="249.3" cy="230.7" r="0.55" fill="#3a3a3a" fill-opacity="0.8"/>
<circle cx="256.5" cy="224.6" r="0.55" fill="#3a3a3a" fill-opacity="0.8"/>
<circle cx="263.6" cy="217.6" r="0.55" fill="#3a3a3a" fill-opacity="0.8"/>
<circle cx="270.8" cy="210.3" r="0.55" fill="#3a3a3a" fill-opacity="0.8"/>
<circle cx="278.0" cy="203.4" r="0.55" fill="#3a3a3a" fill-opacity="0.8"/>
<circle cx="239.2" cy="250.8" r="0.55" fill="#3a3a3a" fill-opacity="0.8"/>
<circle cx="246.3" cy="242.3" r="0.55" fill="#3a3a3a" fill-opacity="0.8"/>
<circle cx="253.5" cy="233.5" r="0.55" fill="#3a3a3a" fill-opacity="0.8"/>
<circle cx="260.7" cy="227.4" r="0.55" fill="#3a3a3a" fill-opacity="0.8"/>
<circle cx="267.8" cy="219.7" r="0.55" fill="#3a3a3a" fill-opacity="0.8"/>
<circle cx="275.0" cy="211.7" r="0.55" fill="#3a3a3a" fill-opacity="0.8"/>
<circle cx="282.2" cy="204.1" r="0.55" fill="#3a3a3a" fill-opacity="0.8"/>
<circle cx="243.4" cy="253.6" r="0.55" fill="#3a3a3a" fill-opacity="0.8"/>
<circle cx="250.6" cy="246.8" r="0.55" fill="#3a3a3a" fill-opacity="0.8"/>
<circle cx="257.7" cy="239.5" r="0.55" fill="#3a3a3a" fill-opacity="0.8"/>
<circle cx="264.9" cy="234.9" r="0.55" fill="#3a3a3a" fill-opacity="0.8"/>
<circle cx="272.1" cy="228.1" r="0.55" fill="#3a3a3a" fill-opacity="0.8"/>
<circle cx="279.2" cy="221.0" r="0.55" fill="#3a3a3a" fill-opacity="0.8"/>
<circle cx="286.4" cy="214.4" r="0.55" fill="#3a3a3a" fill-opacity="0.8"/>
<text x="200.4" y="241.9" font-size="3.5" fill="#5a5a5a" text-anchor="end">0.0005</text>
<text x="204.2" y="244.0" font-size="3.5" fill="#5a5a5a" text-anchor="end">0.001</text>
<text x="208.1" y="246.2" font-size="3.5" fill="#5a5a5a" text-anchor="end">0.002</text>
<text x="211.9" y="248.3" font-size="3.5" fill="#5a5a5a" text-anchor="end">0.005</text>
<text x="215.7" y="250.4" font-size="3.5" fill="#5a5a5a" text-anchor="end">0.01</text>
<text x="219.6" y="252.5" font-size="3.5" fill="#5a5a5a" text-anchor="end">0.02</text>
<text x="223.4" y="254.7" font-size="3.5" fill="#5a5a5a" text-anchor="end">0.05</text>
<text x="227.3" y="256.8" font-size="3.5" fill="#5a5a5a" text-anchor="end">0.1</text>
<text x="231.1" y="258.9" font-size="3.5" fill="#5a5a5a" text-anchor="end">0.5</text>
<text x="234.9" y="261.0" font-size="3.5" fill="#5a5a5a" text-anchor="end">1</text>
<text x="238.8" y="263.2" font-size="3.5" fill="#5a5a5a" text-anchor="end">5</text>
<text x="242.6" y="265.3" font-size="3.5" fill="#5a5a5a" text-anchor="end">10</text>
<text x="245.0" y="265.3" font-size="3.5" fill="#5a5a5a">10</text>
<text x="251.1" y="262.1" font-size="3.5" fill="#5a5a5a">7.5</text>
<text x="257.3" y="258.9" font-size="3.5" fill="#5a5a5a">5</text>
<text x="263.4" y="255.7" font-size="3.5" fill="#5a5a5a">2.5</text>
<text x="269.6" y="252.4" font-size="3.5" fill="#5a5a5a">1.25</text>
<text x="275.7" y="249.2" font-size="3.5" fill="#5a5a5a">0.625</text>
<text x="281.9" y="246.0" font-size="3.5" fill="#5a5a5a">0.3125</text>
<text x="288.0" y="242.8" font-size="3.5" fill="#5a5a5a">0</text>
<line x1="364.2" y1="238.5" x2="407.2" y2="214.5" stroke="#dddddd" stroke-width="0.4"/>
<line x1="407.2" y1="214.5" x2="449.4" y2="237.9" stroke="#dddddd" stroke-width="0.4"/>
<line x1="364.2" y1="223.5" x2="407.2" y2="199.5" stroke="#dddddd" stroke-width="0.4"/>
<line x1="407.2" y1="199.5" x2="449.4" y2="222.9" stroke="#dddddd" stroke-width="0.4"/>
<line x1="364.2" y1="208.5" x2="407.2" y2="184.5" stroke="#dddddd" stroke-width="0.4"/>
<line x1="407.2" y1="184.5" x2="449.4" y2="207.9" stroke="#dddddd" stroke-width="0.4"/>
<line x1="364.2" y1="238.5" x2="364.2" y2="208.5" stroke="#dddddd" stroke-width="0.4"/>
<line x1="407.2" y1="214.5" x2="407.2" y2="184.5" stroke="#dddddd" stroke-width="0.4"/>
<line x1="374.9" y1="232.5" x2="374.9" y2="202.5" stroke="#dddddd" stroke-width="0.4"/>
<line x1="417.8" y1="220.3" x2="417.8" y2="190.3" stroke="#dddddd" stroke-width="0.4"/>
<line x1="385.7" y1="226.5" x2="385.7" y2="196.5" stroke="#dddddd" stroke-width="0.4"/>
<line x1="428.3" y1="226.2" x2="428.3" y2="196.2" stroke="#dddddd" stroke-width="0.4"/>
<line x1="396.4" y1="220.5" x2="396.4" y2="190.5" stroke="#dddddd" stroke-width="0.4"/>
<line x1="438.8" y1="232.1" x2="438.8" y2="202.1" stroke="#dddddd" stroke-width="0.4"/>
<line x1="407.2" y1="214.5" x2="407.2" y2="184.5" stroke="#dddddd" stroke-width="0.4"/>
<line x1="449.4" y1="237.9" x2="449.4" y2="207.9" stroke="#dddddd" stroke-width="0.4"/>
<line x1="449.4" y1="237.9" x2="449.4" y2="207.9" stroke="#dddddd" stroke-width="0.4"/>
<line x1="364.2" y1="238.5" x2="407.2" y2="214.5" stroke="#dddddd" stroke-width="0.4"/>
<line x1="364.2" y1="238.5" x2="406.4" y2="261.9" stroke="#dddddd" stroke-width="0.4"/>
<line x1="372.6" y1="243.2" x2="415.6" y2="219.2" stroke="#dddddd" stroke-width="0.4"/>
<line x1="372.8" y1="233.7" x2="415.0" y2="257.1" stroke="#dddddd" stroke-width="0.4"/>
<line x1="381.1" y1="247.9" x2="424.1" y2="223.9" stroke="#dddddd" stroke-width="0.4"/>
<line x1="381.4" y1="228.9" x2="423.6" y2="252.3" stroke="#dddddd" stroke-width="0.4"/>
<line x1="389.5" y1="252.5" x2="432.5" y2="228.5" stroke="#dddddd" stroke-width="0.4"/>
<line x1="390.0" y1="224.1" x2="432.2" y2="247.5" stroke="#dddddd" stroke-width="0.4"/>
<line x1="398.0" y1="257.2" x2="441.0" y2="233.2" stroke="#dddddd" stroke-width="0.4"/>
<line x1="398.6" y1="219.3" x2="440.8" y2="242.7" stroke="#dddddd" stroke-width="0.4"/>
<line x1="406.4" y1="261.9" x2="449.4" y2="237.9" stroke="#dddddd" stroke-width="0.4"/>
<line x1="407.2" y1="214.5" x2="449.4" y2="237.9" stroke="#dddddd" stroke-width="0.4"/>
<line x1="364.2" y1="238.5" x2="406.4" y2="261.9" stroke="#b0b0b0" stroke-width="0.5"/>
<line x1="406.4" y1="261.9" x2="449.4" y2="237.9" stroke="#b0b0b0" stroke-width="0.5"/>
<line x1="364.2" y1="238.5" x2="364.2" y2="208.5" stroke="#9a9a9a" stroke-width="0.5"/>
<line x1="362.7" y1="238.5" x2="364.2" y2="238.5" stroke="#9a9a9a" stroke-width="0.4"/>
<text x="362.0" y="239.5" font-size="3" fill="#777" text-anchor="end">0</text>
<line x1="362.7" y1="223.5" x2="364.2" y2="223.5" stroke="#9a9a9a" stroke-width="0.4"/>
<text x="362.0" y="224.5" font-size="3" fill="#777" text-anchor="end">50</text>
<line x1="362.7" y1="208.5" x2="364.2" y2="208.5" stroke="#9a9a9a" stroke-width="0.4"/>
<text x="362.0" y="209.5" font-size="3" fill="#777" text-anchor="end">100</text>
<clipPath id="cp364"><polygon points="364.2,232.2 366.3,234.1 368.4,235.7 370.5,236.7 372.6,237.8 374.8,238.7 376.9,239.7 379.0,240.6 381.1,241.6 383.2,243.5 385.3,245.4 387.4,247.5 389.5,249.5 391.6,251.6 393.7,253.7 395.8,254.9 398.0,256.0 400.1,257.2 402.2,258.3 404.3,259.3 406.4,260.4 410.0,257.7 413.6,255.1 417.1,252.8 420.7,250.3 424.3,246.1 427.9,242.9 431.5,240.8 435.1,238.8 438.6,237.7 442.2,236.6 445.8,235.0 449.4,234.3 447.3,231.3 445.2,224.2 443.1,218.1 441.0,216.2 438.8,214.4 436.7,212.4 434.6,210.6 432.5,208.8 430.4,207.0 428.3,204.8 426.2,202.7 424.1,199.9 422.0,196.9 419.9,194.8 417.8,192.8 415.6,191.2 413.5,189.5 411.4,187.9 409.3,186.6 407.2,185.4 403.6,185.8 400.0,186.2 396.4,187.9 392.9,190.0 389.3,192.3 385.7,194.6 382.1,200.0 378.5,206.9 374.9,213.7 371.4,220.5 367.8,226.4"/></clipPath>
<g clip-path="url(#cp364)" filter="url(#smooth)">
<polygon points="403.6,185.8 405.7,187.1 409.3,186.6 407.2,185.4" fill="#deff21" stroke="#deff21" stroke-width="0.4"/>
<polygon points="405.7,187.1 407.8,188.6 411.4,187.9 409.3,186.6" fill="#e3ff1c" stroke="#e3ff1c" stroke-width="0.4"/>
<polygon points="400.0,186.2 402.1,187.7 405.7,187.1 403.6,185.8" fill="#f4ff0b" stroke="#f4ff0b" stroke-width="0.4"/>
<polygon points="407.8,188.6 409.9,190.3 413.5,189.5 411.4,187.9" fill="#e4ff1b" stroke="#e4ff1b" stroke-width="0.4"/>
<polygon points="402.1,187.7 404.3,189.4 407.8,188.6 405.7,187.1" fill="#f8ff07" stroke="#f8ff07" stroke-width="0.4"/>
<polygon points="409.9,190.3 412.1,191.9 415.6,191.2 413.5,189.5" fill="#dbff24" stroke="#dbff24" stroke-width="0.4"/>
<polygon points="396.4,187.9 398.6,189.6 402.1,187.7 400.0,186.2" fill="#fdff02" stroke="#fdff02" stroke-width="0.4"/>
<polygon points="404.3,189.4 406.4,191.1 409.9,190.3 407.8,188.6" fill="#fcff03" stroke="#fcff03" stroke-width="0.4"/>
<polygon points="412.1,191.9 414.2,193.7 417.8,192.8 415.6,191.2" fill="#caff35" stroke="#caff35" stroke-width="0.4"/>
<polygon points="398.6,189.6 400.7,191.3 404.3,189.4 402.1,187.7" fill="#fdff02" stroke="#fdff02" stroke-width="0.4"/>
<polygon points="406.4,191.1 408.5,192.9 412.1,191.9 409.9,190.3" fill="#feff01" stroke="#feff01" stroke-width="0.4"/>
<polygon points="414.2,193.7 416.3,195.6 419.9,194.8 417.8,192.8" fill="#b2ff4d" stroke="#b2ff4d" stroke-width="0.4"/>
<polygon points="392.9,190.0 395.0,191.8 398.6,189.6 396.4,187.9" fill="#fffb00" stroke="#fffb00" stroke-width="0.4"/>
<polygon points="400.7,191.3 402.8,193.1 406.4,191.1 404.3,189.4" fill="#fbff04" stroke="#fbff04" stroke-width="0.4"/>
<polygon points="408.5,192.9 410.6,194.7 414.2,193.7 412.1,191.9" fill="#fcff03" stroke="#fcff03" stroke-width="0.4"/>
<polygon points="416.3,195.6 418.4,197.7 422.0,196.9 419.9,194.8" fill="#9bff64" stroke="#9bff64" stroke-width="0.4"/>
<polygon points="395.0,191.8 397.1,193.6 400.7,191.3 398.6,189.6" fill="#fffd00" stroke="#fffd00" stroke-width="0.4"/>
<polygon points="402.8,193.1 404.9,194.9 408.5,192.9 406.4,191.1" fill="#fdff02" stroke="#fdff02" stroke-width="0.4"/>
<polygon points="410.6,194.7 412.7,196.7 416.3,195.6 414.2,193.7" fill="#fffb00" stroke="#fffb00" stroke-width="0.4"/>
<polygon points="389.3,192.3 391.4,194.2 395.0,191.8 392.9,190.0" fill="#ffff00" stroke="#ffff00" stroke-width="0.4"/>
<polygon points="418.4,197.7 420.5,200.6 424.1,199.9 422.0,196.9" fill="#b5ff4a" stroke="#b5ff4a" stroke-width="0.4"/>
<polygon points="397.1,193.6 399.2,195.3 402.8,193.1 400.7,191.3" fill="#fcff03" stroke="#fcff03" stroke-width="0.4"/>
<polygon points="404.9,194.9 407.0,196.7 410.6,194.7 408.5,192.9" fill="#fff900" stroke="#fff900" stroke-width="0.4"/>
<polygon points="412.7,196.7 414.8,198.9 418.4,197.7 416.3,195.6" fill="#ffe000" stroke="#ffe000" stroke-width="0.4"/>
<polygon points="391.4,194.2 393.5,196.0 397.1,193.6 395.0,191.8" fill="#feff01" stroke="#feff01" stroke-width="0.4"/>
<polygon points="420.5,200.6 422.6,203.5 426.2,202.7 424.1,199.9" fill="#fff700" stroke="#fff700" stroke-width="0.4"/>
<polygon points="399.2,195.3 401.3,197.1 404.9,194.9 402.8,193.1" fill="#f9ff06" stroke="#f9ff06" stroke-width="0.4"/>
<polygon points="407.0,196.7 409.1,198.6 412.7,196.7 410.6,194.7" fill="#ffe600" stroke="#ffe600" stroke-width="0.4"/>
<polygon points="385.7,194.6 387.8,196.6 391.4,194.2 389.3,192.3" fill="#f0ff0f" stroke="#f0ff0f" stroke-width="0.4"/>
<polygon points="414.8,198.9 416.9,201.8 420.5,200.6 418.4,197.7" fill="#ffac00" stroke="#ffac00" stroke-width="0.4"/>
<polygon points="393.5,196.0 395.6,197.8 399.2,195.3 397.1,193.6" fill="#fdff02" stroke="#fdff02" stroke-width="0.4"/>
<polygon points="422.6,203.5 424.7,205.7 428.3,204.8 426.2,202.7" fill="#ffd700" stroke="#ffd700" stroke-width="0.4"/>
<polygon points="401.3,197.1 403.4,198.9 407.0,196.7 404.9,194.9" fill="#fdff02" stroke="#fdff02" stroke-width="0.4"/>
<polygon points="409.1,198.6 411.2,200.8 414.8,198.9 412.7,196.7" fill="#ffc400" stroke="#ffc400" stroke-width="0.4"/>
<polygon points="387.8,196.6 389.9,198.6 393.5,196.0 391.4,194.2" fill="#efff10" stroke="#efff10" stroke-width="0.4"/>
<polygon points="416.9,201.8 419.0,204.7 422.6,203.5 420.5,200.6" fill="#ff8000" stroke="#ff8000" stroke-width="0.4"/>
<polygon points="395.6,197.8 397.7,199.6 401.3,197.1 399.2,195.3" fill="#fdff02" stroke="#fdff02" stroke-width="0.4"/>
<polygon points="424.7,205.7 426.8,207.9 430.4,207.0 428.3,204.8" fill="#ffd400" stroke="#ffd400" stroke-width="0.4"/>
<polygon points="403.4,198.9 405.5,200.8 409.1,198.6 407.0,196.7" fill="#ffee00" stroke="#ffee00" stroke-width="0.4"/>
<polygon points="382.1,200.0 384.2,202.1 387.8,196.6 385.7,194.6" fill="#d7ff28" stroke="#d7ff28" stroke-width="0.4"/>
<polygon points="411.2,200.8 413.3,203.6 416.9,201.8 414.8,198.9" fill="#ff9d00" stroke="#ff9d00" stroke-width="0.4"/>
<polygon points="389.9,198.6 392.0,200.4 395.6,197.8 393.5,196.0" fill="#f2ff0d" stroke="#f2ff0d" stroke-width="0.4"/>
<polygon points="419.0,204.7 421.1,207.1 424.7,205.7 422.6,203.5" fill="#ff8200" stroke="#ff8200" stroke-width="0.4"/>
<polygon points="397.7,199.6 399.8,201.4 403.4,198.9 401.3,197.1" fill="#fffb00" stroke="#fffb00" stroke-width="0.4"/>
<polygon points="426.8,207.9 428.9,209.8 432.5,208.8 430.4,207.0" fill="#ffde00" stroke="#ffde00" stroke-width="0.4"/>
<polygon points="405.5,200.8 407.6,202.9 411.2,200.8 409.1,198.6" fill="#ffcb00" stroke="#ffcb00" stroke-width="0.4"/>
<polygon points="384.2,202.1 386.3,204.0 389.9,198.6 387.8,196.6" fill="#d1ff2e" stroke="#d1ff2e" stroke-width="0.4"/>
<polygon points="413.3,203.6 415.4,206.5 419.0,204.7 416.9,201.8" fill="#ff8400" stroke="#ff8400" stroke-width="0.4"/>
<polygon points="392.0,200.4 394.1,202.2 397.7,199.6 395.6,197.8" fill="#f9ff06" stroke="#f9ff06" stroke-width="0.4"/>
<polygon points="421.1,207.1 423.2,209.4 426.8,207.9 424.7,205.7" fill="#ff9e00" stroke="#ff9e00" stroke-width="0.4"/>
<polygon points="399.8,201.4 401.9,203.4 405.5,200.8 403.4,198.9" fill="#ffec00" stroke="#ffec00" stroke-width="0.4"/>
<polygon points="378.5,206.9 380.6,208.9 384.2,202.1 382.1,200.0" fill="#b9ff46" stroke="#b9ff46" stroke-width="0.4"/>
<polygon points="428.9,209.8 431.0,211.8 434.6,210.6 432.5,208.8" fill="#ffe400" stroke="#ffe400" stroke-width="0.4"/>
<polygon points="407.6,202.9 409.7,205.5 413.3,203.6 411.2,200.8" fill="#ffa800" stroke="#ffa800" stroke-width="0.4"/>
<polygon points="386.3,204.0 388.4,205.8 392.0,200.4 389.9,198.6" fill="#ceff31" stroke="#ceff31" stroke-width="0.4"/>
<polygon points="415.4,206.5 417.6,208.9 421.1,207.1 419.0,204.7" fill="#ff8c00" stroke="#ff8c00" stroke-width="0.4"/>
<polygon points="394.1,202.2 396.2,204.0 399.8,201.4 397.7,199.6" fill="#fffa00" stroke="#fffa00" stroke-width="0.4"/>
<polygon points="423.2,209.4 425.4,211.5 428.9,209.8 426.8,207.9" fill="#ffc100" stroke="#ffc100" stroke-width="0.4"/>
<polygon points="401.9,203.4 404.1,205.4 407.6,202.9 405.5,200.8" fill="#ffd100" stroke="#ffd100" stroke-width="0.4"/>
<polygon points="380.6,208.9 382.8,210.9 386.3,204.0 384.2,202.1" fill="#a9ff56" stroke="#a9ff56" stroke-width="0.4"/>
<polygon points="431.0,211.8 433.2,213.7 436.7,212.4 434.6,210.6" fill="#ffcb00" stroke="#ffcb00" stroke-width="0.4"/>
<polygon points="409.7,205.5 411.9,208.4 415.4,206.5 413.3,203.6" fill="#ff9500" stroke="#ff9500" stroke-width="0.4"/>
<polygon points="388.4,205.8 390.6,207.5 394.1,202.2 392.0,200.4" fill="#cfff30" stroke="#cfff30" stroke-width="0.4"/>
<polygon points="417.6,208.9 419.7,211.3 423.2,209.4 421.1,207.1" fill="#ffad00" stroke="#ffad00" stroke-width="0.4"/>
<polygon points="396.2,204.0 398.4,206.0 401.9,203.4 399.8,201.4" fill="#fff100" stroke="#fff100" stroke-width="0.4"/>
<polygon points="374.9,213.7 377.1,215.7 380.6,208.9 378.5,206.9" fill="#91ff6e" stroke="#91ff6e" stroke-width="0.4"/>
<polygon points="425.4,211.5 427.5,213.6 431.0,211.8 428.9,209.8" fill="#ffd800" stroke="#ffd800" stroke-width="0.4"/>
<polygon points="404.1,205.4 406.2,207.9 409.7,205.5 407.6,202.9" fill="#ffb500" stroke="#ffb500" stroke-width="0.4"/>
<polygon points="382.8,210.9 384.9,212.5 388.4,205.8 386.3,204.0" fill="#98ff67" stroke="#98ff67" stroke-width="0.4"/>
<polygon points="433.2,213.7 435.3,215.7 438.8,214.4 436.7,212.4" fill="#ff9800" stroke="#ff9800" stroke-width="0.4"/>
<polygon points="411.9,208.4 414.0,210.8 417.6,208.9 415.4,206.5" fill="#ffa200" stroke="#ffa200" stroke-width="0.4"/>
<polygon points="390.6,207.5 392.7,209.3 396.2,204.0 394.1,202.2" fill="#d0ff2f" stroke="#d0ff2f" stroke-width="0.4"/>
<polygon points="419.7,211.3 421.8,213.4 425.4,211.5 423.2,209.4" fill="#ffce00" stroke="#ffce00" stroke-width="0.4"/>
<polygon points="398.4,206.0 400.5,208.0 404.1,205.4 401.9,203.4" fill="#ffe400" stroke="#ffe400" stroke-width="0.4"/>
<polygon points="377.1,215.7 379.2,217.5 382.8,210.9 380.6,208.9" fill="#80ff7f" stroke="#80ff7f" stroke-width="0.4"/>
<polygon points="427.5,213.6 429.6,215.7 433.2,213.7 431.0,211.8" fill="#ffd400" stroke="#ffd400" stroke-width="0.4"/>
<polygon points="406.2,207.9 408.3,210.8 411.9,208.4 409.7,205.5" fill="#ffa200" stroke="#ffa200" stroke-width="0.4"/>
<polygon points="384.9,212.5 387.0,214.2 390.6,207.5 388.4,205.8" fill="#8bff74" stroke="#8bff74" stroke-width="0.4"/>
<polygon points="435.3,215.7 437.4,217.6 441.0,216.2 438.8,214.4" fill="#ff5d00" stroke="#ff5d00" stroke-width="0.4"/>
<polygon points="414.0,210.8 416.1,213.2 419.7,211.3 417.6,208.9" fill="#ffc300" stroke="#ffc300" stroke-width="0.4"/>
<polygon points="392.7,209.3 394.8,211.1 398.4,206.0 396.2,204.0" fill="#ceff31" stroke="#ceff31" stroke-width="0.4"/>
<polygon points="371.4,220.5 373.5,222.4 377.1,215.7 374.9,213.7" fill="#8aff75" stroke="#8aff75" stroke-width="0.4"/>
<polygon points="421.8,213.4 423.9,215.6 427.5,213.6 425.4,211.5" fill="#ffe500" stroke="#ffe500" stroke-width="0.4"/>
<polygon points="400.5,208.0 402.6,210.4 406.2,207.9 404.1,205.4" fill="#ffd800" stroke="#ffd800" stroke-width="0.4"/>
<polygon points="379.2,217.5 381.3,219.0 384.9,212.5 382.8,210.9" fill="#6bff94" stroke="#6bff94" stroke-width="0.4"/>
<polygon points="429.6,215.7 431.7,217.8 435.3,215.7 433.2,213.7" fill="#ffb800" stroke="#ffb800" stroke-width="0.4"/>
<polygon points="408.3,210.8 410.4,213.3 414.0,210.8 411.9,208.4" fill="#ffb300" stroke="#ffb300" stroke-width="0.4"/>
<polygon points="387.0,214.2 389.1,215.8 392.7,209.3 390.6,207.5" fill="#82ff7d" stroke="#82ff7d" stroke-width="0.4"/>
<polygon points="437.4,217.6 439.5,219.5 443.1,218.1 441.0,216.2" fill="#ff2700" stroke="#ff2700" stroke-width="0.4"/>
<polygon points="416.1,213.2 418.2,215.5 421.8,213.4 419.7,211.3" fill="#ffe000" stroke="#ffe000" stroke-width="0.4"/>
<polygon points="394.8,211.1 396.9,213.0 400.5,208.0 398.4,206.0" fill="#ccff33" stroke="#ccff33" stroke-width="0.4"/>
<polygon points="373.5,222.4 375.6,224.1 379.2,217.5 377.1,215.7" fill="#75ff8a" stroke="#75ff8a" stroke-width="0.4"/>
<polygon points="423.9,215.6 426.0,217.8 429.6,215.7 427.5,213.6" fill="#ffe900" stroke="#ffe900" stroke-width="0.4"/>
<polygon points="402.6,210.4 404.7,213.3 408.3,210.8 406.2,207.9" fill="#ffd400" stroke="#ffd400" stroke-width="0.4"/>
<polygon points="381.3,219.0 383.4,220.5 387.0,214.2 384.9,212.5" fill="#5affa5" stroke="#5affa5" stroke-width="0.4"/>
<polygon points="431.7,217.8 433.8,219.8 437.4,217.6 435.3,215.7" fill="#ff8b00" stroke="#ff8b00" stroke-width="0.4"/>
<polygon points="410.4,213.3 412.5,215.8 416.1,213.2 414.0,210.8" fill="#ffd400" stroke="#ffd400" stroke-width="0.4"/>
<polygon points="389.1,215.8 391.2,217.5 394.8,211.1 392.7,209.3" fill="#75ff8a" stroke="#75ff8a" stroke-width="0.4"/>
<polygon points="439.5,219.5 441.6,225.3 445.2,224.2 443.1,218.1" fill="#ff0e00" stroke="#ff0e00" stroke-width="0.4"/>
<polygon points="367.8,226.4 369.9,228.3 373.5,222.4 371.4,220.5" fill="#8fff70" stroke="#8fff70" stroke-width="0.4"/>
<polygon points="418.2,215.5 420.3,217.7 423.9,215.6 421.8,213.4" fill="#fff600" stroke="#fff600" stroke-width="0.4"/>
<polygon points="396.9,213.0 399.0,215.2 402.6,210.4 400.5,208.0" fill="#cdff32" stroke="#cdff32" stroke-width="0.4"/>
<polygon points="375.6,224.1 377.7,225.4 381.3,219.0 379.2,217.5" fill="#5effa1" stroke="#5effa1" stroke-width="0.4"/>
<polygon points="426.0,217.8 428.1,219.9 431.7,217.8 429.6,215.7" fill="#ffd600" stroke="#ffd600" stroke-width="0.4"/>
<polygon points="404.7,213.3 406.8,215.8 410.4,213.3 408.3,210.8" fill="#ffe200" stroke="#ffe200" stroke-width="0.4"/>
<polygon points="383.4,220.5 385.5,221.9 389.1,215.8 387.0,214.2" fill="#51ffae" stroke="#51ffae" stroke-width="0.4"/>
<polygon points="433.8,219.8 435.9,221.8 439.5,219.5 437.4,217.6" fill="#ff5200" stroke="#ff5200" stroke-width="0.4"/>
<polygon points="412.5,215.8 414.6,218.1 418.2,215.5 416.1,213.2" fill="#ffee00" stroke="#ffee00" stroke-width="0.4"/>
<polygon points="391.2,217.5 393.3,219.2 396.9,213.0 394.8,211.1" fill="#62ff9d" stroke="#62ff9d" stroke-width="0.4"/>
<polygon points="441.6,225.3 443.7,232.0 447.3,231.3 445.2,224.2" fill="#ff3500" stroke="#ff3500" stroke-width="0.4"/>
<polygon points="369.9,228.3 372.0,230.0 375.6,224.1 373.5,222.4" fill="#7cff83" stroke="#7cff83" stroke-width="0.4"/>
<polygon points="420.3,217.7 422.4,220.0 426.0,217.8 423.9,215.6" fill="#fffb00" stroke="#fffb00" stroke-width="0.4"/>
<polygon points="399.0,215.2 401.1,218.0 404.7,213.3 402.6,210.4" fill="#d0ff2f" stroke="#d0ff2f" stroke-width="0.4"/>
<polygon points="377.7,225.4 379.8,226.7 383.4,220.5 381.3,219.0" fill="#4effb1" stroke="#4effb1" stroke-width="0.4"/>
<polygon points="428.1,219.9 430.2,221.9 433.8,219.8 431.7,217.8" fill="#ffb400" stroke="#ffb400" stroke-width="0.4"/>
<polygon points="406.8,215.8 408.9,218.4 412.5,215.8 410.4,213.3" fill="#ffff00" stroke="#ffff00" stroke-width="0.4"/>
<polygon points="385.5,221.9 387.6,223.4 391.2,217.5 389.1,215.8" fill="#4affb5" stroke="#4affb5" stroke-width="0.4"/>
<polygon points="435.9,221.8 438.0,227.3 441.6,225.3 439.5,219.5" fill="#ff2100" stroke="#ff2100" stroke-width="0.4"/>
<polygon points="364.2,232.2 366.3,234.1 369.9,228.3 367.8,226.4" fill="#88ff77" stroke="#88ff77" stroke-width="0.4"/>
<polygon points="414.6,218.1 416.7,220.4 420.3,217.7 418.2,215.5" fill="#fffe00" stroke="#fffe00" stroke-width="0.4"/>
<polygon points="393.3,219.2 395.4,221.3 399.0,215.2 396.9,213.0" fill="#53ffac" stroke="#53ffac" stroke-width="0.4"/>
<polygon points="443.7,232.0 445.8,235.0 449.4,234.3 447.3,231.3" fill="#ff9600" stroke="#ff9600" stroke-width="0.4"/>
<polygon points="372.0,230.0 374.1,231.1 377.7,225.4 375.6,224.1" fill="#69ff96" stroke="#69ff96" stroke-width="0.4"/>
<polygon points="422.4,220.0 424.5,222.0 428.1,219.9 426.0,217.8" fill="#ffe600" stroke="#ffe600" stroke-width="0.4"/>
<polygon points="401.1,218.0 403.2,220.5 406.8,215.8 404.7,213.3" fill="#d2ff2d" stroke="#d2ff2d" stroke-width="0.4"/>
<polygon points="379.8,226.7 381.9,227.9 385.5,221.9 383.4,220.5" fill="#48ffb7" stroke="#48ffb7" stroke-width="0.4"/>
<polygon points="430.2,221.9 432.3,223.8 435.9,221.8 433.8,219.8" fill="#ff8400" stroke="#ff8400" stroke-width="0.4"/>
<polygon points="408.9,218.4 411.0,220.8 414.6,218.1 412.5,215.8" fill="#e8ff17" stroke="#e8ff17" stroke-width="0.4"/>
<polygon points="387.6,223.4 389.7,224.9 393.3,219.2 391.2,217.5" fill="#3fffc0" stroke="#3fffc0" stroke-width="0.4"/>
<polygon points="438.0,227.3 440.1,233.7 443.7,232.0 441.6,225.3" fill="#ff4e00" stroke="#ff4e00" stroke-width="0.4"/>
<polygon points="366.3,234.1 368.4,235.7 372.0,230.0 369.9,228.3" fill="#7dff82" stroke="#7dff82" stroke-width="0.4"/>
<polygon points="416.7,220.4 418.8,222.8 422.4,220.0 420.3,217.7" fill="#f5ff0a" stroke="#f5ff0a" stroke-width="0.4"/>
<polygon points="395.4,221.3 397.5,223.9 401.1,218.0 399.0,215.2" fill="#6cff93" stroke="#6cff93" stroke-width="0.4"/>
<polygon points="374.1,231.1 376.2,232.3 379.8,226.7 377.7,225.4" fill="#5cffa3" stroke="#5cffa3" stroke-width="0.4"/>
<polygon points="424.5,222.0 426.6,223.9 430.2,221.9 428.1,219.9" fill="#ffc500" stroke="#ffc500" stroke-width="0.4"/>
<polygon points="403.2,220.5 405.3,223.0 408.9,218.4 406.8,215.8" fill="#cbff34" stroke="#cbff34" stroke-width="0.4"/>
<polygon points="381.9,227.9 384.0,229.2 387.6,223.4 385.5,221.9" fill="#47ffb8" stroke="#47ffb8" stroke-width="0.4"/>
<polygon points="432.3,223.8 434.4,229.0 438.0,227.3 435.9,221.8" fill="#ff5800" stroke="#ff5800" stroke-width="0.4"/>
<polygon points="411.0,220.8 413.1,223.2 416.7,220.4 414.6,218.1" fill="#d5ff2a" stroke="#d5ff2a" stroke-width="0.4"/>
<polygon points="389.7,224.9 391.8,226.6 395.4,221.3 393.3,219.2" fill="#39ffc6" stroke="#39ffc6" stroke-width="0.4"/>
<polygon points="440.1,233.7 442.2,236.6 445.8,235.0 443.7,232.0" fill="#ffd400" stroke="#ffd400" stroke-width="0.4"/>
<polygon points="368.4,235.7 370.5,236.7 374.1,231.1 372.0,230.0" fill="#73ff8c" stroke="#73ff8c" stroke-width="0.4"/>
<polygon points="418.8,222.8 420.9,224.8 424.5,222.0 422.4,220.0" fill="#fffd00" stroke="#fffd00" stroke-width="0.4"/>
<polygon points="397.5,223.9 399.6,226.4 403.2,220.5 401.1,218.0" fill="#8aff75" stroke="#8aff75" stroke-width="0.4"/>
<polygon points="376.2,232.3 378.3,233.4 381.9,227.9 379.8,226.7" fill="#56ffa9" stroke="#56ffa9" stroke-width="0.4"/>
<polygon points="426.6,223.9 428.7,225.9 432.3,223.8 430.2,221.9" fill="#ff9f00" stroke="#ff9f00" stroke-width="0.4"/>
<polygon points="405.3,223.0 407.4,225.4 411.0,220.8 408.9,218.4" fill="#c2ff3d" stroke="#c2ff3d" stroke-width="0.4"/>
<polygon points="384.0,229.2 386.1,230.5 389.7,224.9 387.6,223.4" fill="#46ffb9" stroke="#46ffb9" stroke-width="0.4"/>
<polygon points="434.4,229.0 436.5,234.9 440.1,233.7 438.0,227.3" fill="#ff7200" stroke="#ff7200" stroke-width="0.4"/>
<polygon points="413.1,223.2 415.2,225.7 418.8,222.8 416.7,220.4" fill="#c5ff3a" stroke="#c5ff3a" stroke-width="0.4"/>
<polygon points="391.8,226.6 393.9,229.1 397.5,223.9 395.4,221.3" fill="#43ffbc" stroke="#43ffbc" stroke-width="0.4"/>
<polygon points="370.5,236.7 372.6,237.8 376.2,232.3 374.1,231.1" fill="#6aff95" stroke="#6aff95" stroke-width="0.4"/>
<polygon points="420.9,224.8 423.0,226.8 426.6,223.9 424.5,222.0" fill="#ffda00" stroke="#ffda00" stroke-width="0.4"/>
<polygon points="399.6,226.4 401.7,228.8 405.3,223.0 403.2,220.5" fill="#96ff69" stroke="#96ff69" stroke-width="0.4"/>
<polygon points="378.3,233.4 380.4,234.5 384.0,229.2 381.9,227.9" fill="#53ffac" stroke="#53ffac" stroke-width="0.4"/>
<polygon points="428.7,225.9 430.8,230.7 434.4,229.0 432.3,223.8" fill="#ff7200" stroke="#ff7200" stroke-width="0.4"/>
<polygon points="407.4,225.4 409.5,227.8 413.1,223.2 411.0,220.8" fill="#acff53" stroke="#acff53" stroke-width="0.4"/>
<polygon points="386.1,230.5 388.2,231.9 391.8,226.6 389.7,224.9" fill="#41ffbe" stroke="#41ffbe" stroke-width="0.4"/>
<polygon points="436.5,234.9 438.6,237.7 442.2,236.6 440.1,233.7" fill="#ffc500" stroke="#ffc500" stroke-width="0.4"/>
<polygon points="415.2,225.7 417.3,227.7 420.9,224.8 418.8,222.8" fill="#ccff33" stroke="#ccff33" stroke-width="0.4"/>
<polygon points="393.9,229.1 396.1,231.4 399.6,226.4 397.5,223.9" fill="#4bffb4" stroke="#4bffb4" stroke-width="0.4"/>
<polygon points="372.6,237.8 374.8,238.7 378.3,233.4 376.2,232.3" fill="#64ff9b" stroke="#64ff9b" stroke-width="0.4"/>
<polygon points="423.0,226.8 425.2,228.8 428.7,225.9 426.6,223.9" fill="#ffaf00" stroke="#ffaf00" stroke-width="0.4"/>
<polygon points="401.7,228.8 403.9,231.2 407.4,225.4 405.3,223.0" fill="#8cff73" stroke="#8cff73" stroke-width="0.4"/>
<polygon points="380.4,234.5 382.6,235.6 386.1,230.5 384.0,229.2" fill="#51ffae" stroke="#51ffae" stroke-width="0.4"/>
<polygon points="430.8,230.7 433.0,236.1 436.5,234.9 434.4,229.0" fill="#ff7100" stroke="#ff7100" stroke-width="0.4"/>
<polygon points="409.5,227.8 411.7,230.3 415.2,225.7 413.1,223.2" fill="#8eff71" stroke="#8eff71" stroke-width="0.4"/>
<polygon points="388.2,231.9 390.4,234.1 393.9,229.1 391.8,226.6" fill="#3affc5" stroke="#3affc5" stroke-width="0.4"/>
<polygon points="417.3,227.7 419.5,229.8 423.0,226.8 420.9,224.8" fill="#e9ff16" stroke="#e9ff16" stroke-width="0.4"/>
<polygon points="396.1,231.4 398.2,233.7 401.7,228.8 399.6,226.4" fill="#45ffba" stroke="#45ffba" stroke-width="0.4"/>
<polygon points="374.8,238.7 376.9,239.7 380.4,234.5 378.3,233.4" fill="#5fffa0" stroke="#5fffa0" stroke-width="0.4"/>
<polygon points="425.2,228.8 427.3,233.2 430.8,230.7 428.7,225.9" fill="#ff8e00" stroke="#ff8e00" stroke-width="0.4"/>
<polygon points="403.9,231.2 406.0,233.6 409.5,227.8 407.4,225.4" fill="#6fff90" stroke="#6fff90" stroke-width="0.4"/>
<polygon points="382.6,235.6 384.7,236.8 388.2,231.9 386.1,230.5" fill="#49ffb6" stroke="#49ffb6" stroke-width="0.4"/>
<polygon points="433.0,236.1 435.1,238.8 438.6,237.7 436.5,234.9" fill="#ffb900" stroke="#ffb900" stroke-width="0.4"/>
<polygon points="411.7,230.3 413.8,232.2 417.3,227.7 415.2,225.7" fill="#7aff85" stroke="#7aff85" stroke-width="0.4"/>
<polygon points="390.4,234.1 392.5,236.3 396.1,231.4 393.9,229.1" fill="#30ffcf" stroke="#30ffcf" stroke-width="0.4"/>
<polygon points="419.5,229.8 421.6,231.7 425.2,228.8 423.0,226.8" fill="#ffeb00" stroke="#ffeb00" stroke-width="0.4"/>
<polygon points="398.2,233.7 400.3,236.0 403.9,231.2 401.7,228.8" fill="#30ffcf" stroke="#30ffcf" stroke-width="0.4"/>
<polygon points="376.9,239.7 379.0,240.6 382.6,235.6 380.4,234.5" fill="#59ffa6" stroke="#59ffa6" stroke-width="0.4"/>
<polygon points="427.3,233.2 429.4,238.2 433.0,236.1 430.8,230.7" fill="#ff9900" stroke="#ff9900" stroke-width="0.4"/>
<polygon points="406.0,233.6 408.1,236.0 411.7,230.3 409.5,227.8" fill="#3dffc2" stroke="#3dffc2" stroke-width="0.4"/>
<polygon points="384.7,236.8 386.8,238.8 390.4,234.1 388.2,231.9" fill="#3dffc2" stroke="#3dffc2" stroke-width="0.4"/>
<polygon points="413.8,232.2 415.9,234.2 419.5,229.8 417.3,227.7" fill="#84ff7b" stroke="#84ff7b" stroke-width="0.4"/>
<polygon points="392.5,236.3 394.6,238.5 398.2,233.7 396.1,231.4" fill="#1fffe0" stroke="#1fffe0" stroke-width="0.4"/>
<polygon points="421.6,231.7 423.7,235.8 427.3,233.2 425.2,228.8" fill="#ffc800" stroke="#ffc800" stroke-width="0.4"/>
<polygon points="400.3,236.0 402.4,238.3 406.0,233.6 403.9,231.2" fill="#10ffef" stroke="#10ffef" stroke-width="0.4"/>
<polygon points="379.0,240.6 381.1,241.6 384.7,236.8 382.6,235.6" fill="#51ffae" stroke="#51ffae" stroke-width="0.4"/>
<polygon points="429.4,238.2 431.5,240.8 435.1,238.8 433.0,236.1" fill="#ffd300" stroke="#ffd300" stroke-width="0.4"/>
<polygon points="408.1,236.0 410.2,237.9 413.8,232.2 411.7,230.3" fill="#0cfff3" stroke="#0cfff3" stroke-width="0.4"/>
<polygon points="386.8,238.8 388.9,240.9 392.5,236.3 390.4,234.1" fill="#2effd1" stroke="#2effd1" stroke-width="0.4"/>
<polygon points="415.9,234.2 418.0,236.1 421.6,231.7 419.5,229.8" fill="#aaff55" stroke="#aaff55" stroke-width="0.4"/>
<polygon points="394.6,238.5 396.7,240.6 400.3,236.0 398.2,233.7" fill="#06fff9" stroke="#06fff9" stroke-width="0.4"/>
<polygon points="423.7,235.8 425.8,240.4 429.4,238.2 427.3,233.2" fill="#ffca00" stroke="#ffca00" stroke-width="0.4"/>
<polygon points="402.4,238.3 404.5,240.6 408.1,236.0 406.0,233.6" fill="#00e4ff" stroke="#00e4ff" stroke-width="0.4"/>
<polygon points="381.1,241.6 383.2,243.5 386.8,238.8 384.7,236.8" fill="#46ffb9" stroke="#46ffb9" stroke-width="0.4"/>
<polygon points="410.2,237.9 412.3,239.7 415.9,234.2 413.8,232.2" fill="#06fff9" stroke="#06fff9" stroke-width="0.4"/>
<polygon points="388.9,240.9 391.0,243.0 394.6,238.5 392.5,236.3" fill="#1bffe4" stroke="#1bffe4" stroke-width="0.4"/>
<polygon points="418.0,236.1 420.1,239.7 423.7,235.8 421.6,231.7" fill="#d8ff27" stroke="#d8ff27" stroke-width="0.4"/>
<polygon points="396.7,240.6 398.8,242.8 402.4,238.3 400.3,236.0" fill="#00e5ff" stroke="#00e5ff" stroke-width="0.4"/>
<polygon points="425.8,240.4 427.9,242.9 431.5,240.8 429.4,238.2" fill="#fffc00" stroke="#fffc00" stroke-width="0.4"/>
<polygon points="404.5,240.6 406.6,242.3 410.2,237.9 408.1,236.0" fill="#00bbff" stroke="#00bbff" stroke-width="0.4"/>
<polygon points="383.2,243.5 385.3,245.4 388.9,240.9 386.8,238.8" fill="#39ffc6" stroke="#39ffc6" stroke-width="0.4"/>
<polygon points="412.3,239.7 414.4,241.5 418.0,236.1 415.9,234.2" fill="#34ffcb" stroke="#34ffcb" stroke-width="0.4"/>
<polygon points="391.0,243.0 393.1,245.1 396.7,240.6 394.6,238.5" fill="#03fffc" stroke="#03fffc" stroke-width="0.4"/>
<polygon points="420.1,239.7 422.2,243.8 425.8,240.4 423.7,235.8" fill="#eeff11" stroke="#eeff11" stroke-width="0.4"/>
<polygon points="398.8,242.8 400.9,245.0 404.5,240.6 402.4,238.3" fill="#00c6ff" stroke="#00c6ff" stroke-width="0.4"/>
<polygon points="406.6,242.3 408.7,243.9 412.3,239.7 410.2,237.9" fill="#00b3ff" stroke="#00b3ff" stroke-width="0.4"/>
<polygon points="385.3,245.4 387.4,247.5 391.0,243.0 388.9,240.9" fill="#2affd5" stroke="#2affd5" stroke-width="0.4"/>
<polygon points="414.4,241.5 416.5,244.7 420.1,239.7 418.0,236.1" fill="#75ff8a" stroke="#75ff8a" stroke-width="0.4"/>
<polygon points="393.1,245.1 395.2,247.2 398.8,242.8 396.7,240.6" fill="#00e7ff" stroke="#00e7ff" stroke-width="0.4"/>
<polygon points="422.2,243.8 424.3,246.1 427.9,242.9 425.8,240.4" fill="#ddff22" stroke="#ddff22" stroke-width="0.4"/>
<polygon points="400.9,245.0 403.0,246.4 406.6,242.3 404.5,240.6" fill="#00b3ff" stroke="#00b3ff" stroke-width="0.4"/>
<polygon points="408.7,243.9 410.8,245.5 414.4,241.5 412.3,239.7" fill="#00deff" stroke="#00deff" stroke-width="0.4"/>
<polygon points="387.4,247.5 389.5,249.5 393.1,245.1 391.0,243.0" fill="#19ffe6" stroke="#19ffe6" stroke-width="0.4"/>
<polygon points="416.5,244.7 418.6,248.2 422.2,243.8 420.1,239.7" fill="#acff53" stroke="#acff53" stroke-width="0.4"/>
<polygon points="395.2,247.2 397.3,249.3 400.9,245.0 398.8,242.8" fill="#00ccff" stroke="#00ccff" stroke-width="0.4"/>
<polygon points="403.0,246.4 405.1,247.9 408.7,243.9 406.6,242.3" fill="#00b2ff" stroke="#00b2ff" stroke-width="0.4"/>
<polygon points="410.8,245.5 412.9,248.1 416.5,244.7 414.4,241.5" fill="#1effe1" stroke="#1effe1" stroke-width="0.4"/>
<polygon points="389.5,249.5 391.6,251.6 395.2,247.2 393.1,245.1" fill="#09fff6" stroke="#09fff6" stroke-width="0.4"/>
<polygon points="418.6,248.2 420.7,250.3 424.3,246.1 422.2,243.8" fill="#c0ff3f" stroke="#c0ff3f" stroke-width="0.4"/>
<polygon points="397.3,249.3 399.4,250.6 403.0,246.4 400.9,245.0" fill="#00b8ff" stroke="#00b8ff" stroke-width="0.4"/>
<polygon points="405.1,247.9 407.2,249.3 410.8,245.5 408.7,243.9" fill="#00c8ff" stroke="#00c8ff" stroke-width="0.4"/>
<polygon points="412.9,248.1 415.0,251.0 418.6,248.2 416.5,244.7" fill="#5dffa2" stroke="#5dffa2" stroke-width="0.4"/>
<polygon points="391.6,251.6 393.7,253.7 397.3,249.3 395.2,247.2" fill="#00fbff" stroke="#00fbff" stroke-width="0.4"/>
<polygon points="399.4,250.6 401.5,251.9 405.1,247.9 403.0,246.4" fill="#00baff" stroke="#00baff" stroke-width="0.4"/>
<polygon points="407.2,249.3 409.3,251.4 412.9,248.1 410.8,245.5" fill="#00f8ff" stroke="#00f8ff" stroke-width="0.4"/>
<polygon points="415.0,251.0 417.1,252.8 420.7,250.3 418.6,248.2" fill="#8cff73" stroke="#8cff73" stroke-width="0.4"/>
<polygon points="393.7,253.7 395.8,254.9 399.4,250.6 397.3,249.3" fill="#00f5ff" stroke="#00f5ff" stroke-width="0.4"/>
<polygon points="401.5,251.9 403.7,253.2 407.2,249.3 405.1,247.9" fill="#00d6ff" stroke="#00d6ff" stroke-width="0.4"/>
<polygon points="409.3,251.4 411.5,253.6 415.0,251.0 412.9,248.1" fill="#31ffce" stroke="#31ffce" stroke-width="0.4"/>
<polygon points="395.8,254.9 398.0,256.0 401.5,251.9 399.4,250.6" fill="#00f6ff" stroke="#00f6ff" stroke-width="0.4"/>
<polygon points="403.7,253.2 405.8,254.8 409.3,251.4 407.2,249.3" fill="#00fdff" stroke="#00fdff" stroke-width="0.4"/>
<polygon points="411.5,253.6 413.6,255.1 417.1,252.8 415.0,251.0" fill="#64ff9b" stroke="#64ff9b" stroke-width="0.4"/>
<polygon points="398.0,256.0 400.1,257.2 403.7,253.2 401.5,251.9" fill="#06fff9" stroke="#06fff9" stroke-width="0.4"/>
<polygon points="405.8,254.8 407.9,256.4 411.5,253.6 409.3,251.4" fill="#2affd5" stroke="#2affd5" stroke-width="0.4"/>
<polygon points="400.1,257.2 402.2,258.3 405.8,254.8 403.7,253.2" fill="#20ffdf" stroke="#20ffdf" stroke-width="0.4"/>
<polygon points="407.9,256.4 410.0,257.7 413.6,255.1 411.5,253.6" fill="#53ffac" stroke="#53ffac" stroke-width="0.4"/>
<polygon points="402.2,258.3 404.3,259.3 407.9,256.4 405.8,254.8" fill="#3effc1" stroke="#3effc1" stroke-width="0.4"/>
<polygon points="404.3,259.3 406.4,260.4 410.0,257.7 407.9,256.4" fill="#59ffa6" stroke="#59ffa6" stroke-width="0.4"/>
</g>
<path d="M364.2,232.2 L367.8,226.4 L371.4,220.5 L374.9,213.7 L378.5,206.9 L382.1,200.0 L385.7,194.6 L389.3,192.3 L392.9,190.0 L396.4,187.9 L400.0,186.2 L403.6,185.8 L407.2,185.4 M368.4,235.7 L372.0,230.0 L375.6,224.1 L379.2,217.5 L382.8,210.9 L386.3,204.0 L389.9,198.6 L393.5,196.0 L397.1,193.6 L400.7,191.3 L404.3,189.4 L407.8,188.6 L411.4,187.9 M372.6,237.8 L376.2,232.3 L379.8,226.7 L383.4,220.5 L387.0,214.2 L390.6,207.5 L394.1,202.2 L397.7,199.6 L401.3,197.1 L404.9,194.9 L408.5,192.9 L412.1,191.9 L415.6,191.2 M376.9,239.7 L380.4,234.5 L384.0,229.2 L387.6,223.4 L391.2,217.5 L394.8,211.1 L398.4,206.0 L401.9,203.4 L405.5,200.8 L409.1,198.6 L412.7,196.7 L416.3,195.6 L419.9,194.8 M381.1,241.6 L384.7,236.8 L388.2,231.9 L391.8,226.6 L395.4,221.3 L399.0,215.2 L402.6,210.4 L406.2,207.9 L409.7,205.5 L413.3,203.6 L416.9,201.8 L420.5,200.6 L424.1,199.9 M385.3,245.4 L388.9,240.9 L392.5,236.3 L396.1,231.4 L399.6,226.4 L403.2,220.5 L406.8,215.8 L410.4,213.3 L414.0,210.8 L417.6,208.9 L421.1,207.1 L424.7,205.7 L428.3,204.8 M389.5,249.5 L393.1,245.1 L396.7,240.6 L400.3,236.0 L403.9,231.2 L407.4,225.4 L411.0,220.8 L414.6,218.1 L418.2,215.5 L421.8,213.4 L425.4,211.5 L428.9,209.8 L432.5,208.8 M393.7,253.7 L397.3,249.3 L400.9,245.0 L404.5,240.6 L408.1,236.0 L411.7,230.3 L415.2,225.7 L418.8,222.8 L422.4,220.0 L426.0,217.8 L429.6,215.7 L433.2,213.7 L436.7,212.4 M398.0,256.0 L401.5,251.9 L405.1,247.9 L408.7,243.9 L412.3,239.7 L415.9,234.2 L419.5,229.8 L423.0,226.8 L426.6,223.9 L430.2,221.9 L433.8,219.8 L437.4,217.6 L441.0,216.2 M402.2,258.3 L405.8,254.8 L409.3,251.4 L412.9,248.1 L416.5,244.7 L420.1,239.7 L423.7,235.8 L427.3,233.2 L430.8,230.7 L434.4,229.0 L438.0,227.3 L441.6,225.3 L445.2,224.2 M406.4,260.4 L410.0,257.7 L413.6,255.1 L417.1,252.8 L420.7,250.3 L424.3,246.1 L427.9,242.9 L431.5,240.8 L435.1,238.8 L438.6,237.7 L442.2,236.6 L445.8,235.0 L449.4,234.3 M364.2,232.2 L366.3,234.1 L368.4,235.7 L370.5,236.7 L372.6,237.8 L374.8,238.7 L376.9,239.7 L379.0,240.6 L381.1,241.6 L383.2,243.5 L385.3,245.4 L387.4,247.5 L389.5,249.5 L391.6,251.6 L393.7,253.7 L395.8,254.9 L398.0,256.0 L400.1,257.2 L402.2,258.3 L404.3,259.3 L406.4,260.4 M371.4,220.5 L373.5,222.4 L375.6,224.1 L377.7,225.4 L379.8,226.7 L381.9,227.9 L384.0,229.2 L386.1,230.5 L388.2,231.9 L390.4,234.1 L392.5,236.3 L394.6,238.5 L396.7,240.6 L398.8,242.8 L400.9,245.0 L403.0,246.4 L405.1,247.9 L407.2,249.3 L409.3,251.4 L411.5,253.6 L413.6,255.1 M378.5,206.9 L380.6,208.9 L382.8,210.9 L384.9,212.5 L387.0,214.2 L389.1,215.8 L391.2,217.5 L393.3,219.2 L395.4,221.3 L397.5,223.9 L399.6,226.4 L401.7,228.8 L403.9,231.2 L406.0,233.6 L408.1,236.0 L410.2,237.9 L412.3,239.7 L414.4,241.5 L416.5,244.7 L418.6,248.2 L420.7,250.3 M385.7,194.6 L387.8,196.6 L389.9,198.6 L392.0,200.4 L394.1,202.2 L396.2,204.0 L398.4,206.0 L400.5,208.0 L402.6,210.4 L404.7,213.3 L406.8,215.8 L408.9,218.4 L411.0,220.8 L413.1,223.2 L415.2,225.7 L417.3,227.7 L419.5,229.8 L421.6,231.7 L423.7,235.8 L425.8,240.4 L427.9,242.9 M392.9,190.0 L395.0,191.8 L397.1,193.6 L399.2,195.3 L401.3,197.1 L403.4,198.9 L405.5,200.8 L407.6,202.9 L409.7,205.5 L411.9,208.4 L414.0,210.8 L416.1,213.2 L418.2,215.5 L420.3,217.7 L422.4,220.0 L424.5,222.0 L426.6,223.9 L428.7,225.9 L430.8,230.7 L433.0,236.1 L435.1,238.8 M400.0,186.2 L402.1,187.7 L404.3,189.4 L406.4,191.1 L408.5,192.9 L410.6,194.7 L412.7,196.7 L414.8,198.9 L416.9,201.8 L419.0,204.7 L421.1,207.1 L423.2,209.4 L425.4,211.5 L427.5,213.6 L429.6,215.7 L431.7,217.8 L433.8,219.8 L435.9,221.8 L438.0,227.3 L440.1,233.7 L442.2,236.6 M407.2,185.4 L409.3,186.6 L411.4,187.9 L413.5,189.5 L415.6,191.2 L417.8,192.8 L419.9,194.8 L422.0,196.9 L424.1,199.9 L426.2,202.7 L428.3,204.8 L430.4,207.0 L432.5,208.8 L434.6,210.6 L436.7,212.4 L438.8,214.4 L441.0,216.2 L443.1,218.1 L445.2,224.2 L447.3,231.3 L449.4,234.3" fill="none" stroke="#fff" stroke-opacity="0.38" stroke-width="0.4"/>
<circle cx="364.2" cy="232.2" r="0.55" fill="#3a3a3a" fill-opacity="0.8"/>
<circle cx="371.4" cy="220.5" r="0.55" fill="#3a3a3a" fill-opacity="0.8"/>
<circle cx="378.5" cy="206.9" r="0.55" fill="#3a3a3a" fill-opacity="0.8"/>
<circle cx="385.7" cy="194.6" r="0.55" fill="#3a3a3a" fill-opacity="0.8"/>
<circle cx="392.9" cy="190.0" r="0.55" fill="#3a3a3a" fill-opacity="0.8"/>
<circle cx="400.0" cy="186.2" r="0.55" fill="#3a3a3a" fill-opacity="0.8"/>
<circle cx="407.2" cy="185.4" r="0.55" fill="#3a3a3a" fill-opacity="0.8"/>
<circle cx="368.4" cy="235.7" r="0.55" fill="#3a3a3a" fill-opacity="0.8"/>
<circle cx="375.6" cy="224.1" r="0.55" fill="#3a3a3a" fill-opacity="0.8"/>
<circle cx="382.8" cy="210.9" r="0.55" fill="#3a3a3a" fill-opacity="0.8"/>
<circle cx="389.9" cy="198.6" r="0.55" fill="#3a3a3a" fill-opacity="0.8"/>
<circle cx="397.1" cy="193.6" r="0.55" fill="#3a3a3a" fill-opacity="0.8"/>
<circle cx="404.3" cy="189.4" r="0.55" fill="#3a3a3a" fill-opacity="0.8"/>
<circle cx="411.4" cy="187.9" r="0.55" fill="#3a3a3a" fill-opacity="0.8"/>
<circle cx="372.6" cy="237.8" r="0.55" fill="#3a3a3a" fill-opacity="0.8"/>
<circle cx="379.8" cy="226.7" r="0.55" fill="#3a3a3a" fill-opacity="0.8"/>
<circle cx="387.0" cy="214.2" r="0.55" fill="#3a3a3a" fill-opacity="0.8"/>
<circle cx="394.1" cy="202.2" r="0.55" fill="#3a3a3a" fill-opacity="0.8"/>
<circle cx="401.3" cy="197.1" r="0.55" fill="#3a3a3a" fill-opacity="0.8"/>
<circle cx="408.5" cy="192.9" r="0.55" fill="#3a3a3a" fill-opacity="0.8"/>
<circle cx="415.6" cy="191.2" r="0.55" fill="#3a3a3a" fill-opacity="0.8"/>
<circle cx="376.9" cy="239.7" r="0.55" fill="#3a3a3a" fill-opacity="0.8"/>
<circle cx="384.0" cy="229.2" r="0.55" fill="#3a3a3a" fill-opacity="0.8"/>
<circle cx="391.2" cy="217.5" r="0.55" fill="#3a3a3a" fill-opacity="0.8"/>
<circle cx="398.4" cy="206.0" r="0.55" fill="#3a3a3a" fill-opacity="0.8"/>
<circle cx="405.5" cy="200.8" r="0.55" fill="#3a3a3a" fill-opacity="0.8"/>
<circle cx="412.7" cy="196.7" r="0.55" fill="#3a3a3a" fill-opacity="0.8"/>
<circle cx="419.9" cy="194.8" r="0.55" fill="#3a3a3a" fill-opacity="0.8"/>
<circle cx="381.1" cy="241.6" r="0.55" fill="#3a3a3a" fill-opacity="0.8"/>
<circle cx="388.2" cy="231.9" r="0.55" fill="#3a3a3a" fill-opacity="0.8"/>
<circle cx="395.4" cy="221.3" r="0.55" fill="#3a3a3a" fill-opacity="0.8"/>
<circle cx="402.6" cy="210.4" r="0.55" fill="#3a3a3a" fill-opacity="0.8"/>
<circle cx="409.7" cy="205.5" r="0.55" fill="#3a3a3a" fill-opacity="0.8"/>
<circle cx="416.9" cy="201.8" r="0.55" fill="#3a3a3a" fill-opacity="0.8"/>
<circle cx="424.1" cy="199.9" r="0.55" fill="#3a3a3a" fill-opacity="0.8"/>
<circle cx="385.3" cy="245.4" r="0.55" fill="#3a3a3a" fill-opacity="0.8"/>
<circle cx="392.5" cy="236.3" r="0.55" fill="#3a3a3a" fill-opacity="0.8"/>
<circle cx="399.6" cy="226.4" r="0.55" fill="#3a3a3a" fill-opacity="0.8"/>
<circle cx="406.8" cy="215.8" r="0.55" fill="#3a3a3a" fill-opacity="0.8"/>
<circle cx="414.0" cy="210.8" r="0.55" fill="#3a3a3a" fill-opacity="0.8"/>
<circle cx="421.1" cy="207.1" r="0.55" fill="#3a3a3a" fill-opacity="0.8"/>
<circle cx="428.3" cy="204.8" r="0.55" fill="#3a3a3a" fill-opacity="0.8"/>
<circle cx="389.5" cy="249.5" r="0.55" fill="#3a3a3a" fill-opacity="0.8"/>
<circle cx="396.7" cy="240.6" r="0.55" fill="#3a3a3a" fill-opacity="0.8"/>
<circle cx="403.9" cy="231.2" r="0.55" fill="#3a3a3a" fill-opacity="0.8"/>
<circle cx="411.0" cy="220.8" r="0.55" fill="#3a3a3a" fill-opacity="0.8"/>
<circle cx="418.2" cy="215.5" r="0.55" fill="#3a3a3a" fill-opacity="0.8"/>
<circle cx="425.4" cy="211.5" r="0.55" fill="#3a3a3a" fill-opacity="0.8"/>
<circle cx="432.5" cy="208.8" r="0.55" fill="#3a3a3a" fill-opacity="0.8"/>
<circle cx="393.7" cy="253.7" r="0.55" fill="#3a3a3a" fill-opacity="0.8"/>
<circle cx="400.9" cy="245.0" r="0.55" fill="#3a3a3a" fill-opacity="0.8"/>
<circle cx="408.1" cy="236.0" r="0.55" fill="#3a3a3a" fill-opacity="0.8"/>
<circle cx="415.2" cy="225.7" r="0.55" fill="#3a3a3a" fill-opacity="0.8"/>
<circle cx="422.4" cy="220.0" r="0.55" fill="#3a3a3a" fill-opacity="0.8"/>
<circle cx="429.6" cy="215.7" r="0.55" fill="#3a3a3a" fill-opacity="0.8"/>
<circle cx="436.7" cy="212.4" r="0.55" fill="#3a3a3a" fill-opacity="0.8"/>
<circle cx="398.0" cy="256.0" r="0.55" fill="#3a3a3a" fill-opacity="0.8"/>
<circle cx="405.1" cy="247.9" r="0.55" fill="#3a3a3a" fill-opacity="0.8"/>
<circle cx="412.3" cy="239.7" r="0.55" fill="#3a3a3a" fill-opacity="0.8"/>
<circle cx="419.5" cy="229.8" r="0.55" fill="#3a3a3a" fill-opacity="0.8"/>
<circle cx="426.6" cy="223.9" r="0.55" fill="#3a3a3a" fill-opacity="0.8"/>
<circle cx="433.8" cy="219.8" r="0.55" fill="#3a3a3a" fill-opacity="0.8"/>
<circle cx="441.0" cy="216.2" r="0.55" fill="#3a3a3a" fill-opacity="0.8"/>
<circle cx="402.2" cy="258.3" r="0.55" fill="#3a3a3a" fill-opacity="0.8"/>
<circle cx="409.3" cy="251.4" r="0.55" fill="#3a3a3a" fill-opacity="0.8"/>
<circle cx="416.5" cy="244.7" r="0.55" fill="#3a3a3a" fill-opacity="0.8"/>
<circle cx="423.7" cy="235.8" r="0.55" fill="#3a3a3a" fill-opacity="0.8"/>
<circle cx="430.8" cy="230.7" r="0.55" fill="#3a3a3a" fill-opacity="0.8"/>
<circle cx="438.0" cy="227.3" r="0.55" fill="#3a3a3a" fill-opacity="0.8"/>
<circle cx="445.2" cy="224.2" r="0.55" fill="#3a3a3a" fill-opacity="0.8"/>
<circle cx="406.4" cy="260.4" r="0.55" fill="#3a3a3a" fill-opacity="0.8"/>
<circle cx="413.6" cy="255.1" r="0.55" fill="#3a3a3a" fill-opacity="0.8"/>
<circle cx="420.7" cy="250.3" r="0.55" fill="#3a3a3a" fill-opacity="0.8"/>
<circle cx="427.9" cy="242.9" r="0.55" fill="#3a3a3a" fill-opacity="0.8"/>
<circle cx="435.1" cy="238.8" r="0.55" fill="#3a3a3a" fill-opacity="0.8"/>
<circle cx="442.2" cy="236.6" r="0.55" fill="#3a3a3a" fill-opacity="0.8"/>
<circle cx="449.4" cy="234.3" r="0.55" fill="#3a3a3a" fill-opacity="0.8"/>
<text x="363.4" y="242.1" font-size="3.5" fill="#5a5a5a" text-anchor="end">0.0005</text>
<text x="367.2" y="244.2" font-size="3.5" fill="#5a5a5a" text-anchor="end">0.001</text>
<text x="371.1" y="246.4" font-size="3.5" fill="#5a5a5a" text-anchor="end">0.002</text>
<text x="374.9" y="248.5" font-size="3.5" fill="#5a5a5a" text-anchor="end">0.005</text>
<text x="378.7" y="250.6" font-size="3.5" fill="#5a5a5a" text-anchor="end">0.01</text>
<text x="382.6" y="252.7" font-size="3.5" fill="#5a5a5a" text-anchor="end">0.02</text>
<text x="386.4" y="254.9" font-size="3.5" fill="#5a5a5a" text-anchor="end">0.05</text>
<text x="390.3" y="257.0" font-size="3.5" fill="#5a5a5a" text-anchor="end">0.1</text>
<text x="394.1" y="259.1" font-size="3.5" fill="#5a5a5a" text-anchor="end">0.5</text>
<text x="397.9" y="261.2" font-size="3.5" fill="#5a5a5a" text-anchor="end">1</text>
<text x="401.8" y="263.4" font-size="3.5" fill="#5a5a5a" text-anchor="end">5</text>
<text x="405.6" y="265.5" font-size="3.5" fill="#5a5a5a" text-anchor="end">10</text>
<text x="408.0" y="265.5" font-size="3.5" fill="#5a5a5a">10</text>
<text x="414.1" y="262.1" font-size="3.5" fill="#5a5a5a">7.5</text>
<text x="420.3" y="258.6" font-size="3.5" fill="#5a5a5a">5</text>
<text x="426.4" y="255.2" font-size="3.5" fill="#5a5a5a">2.5</text>
<text x="432.6" y="251.8" font-size="3.5" fill="#5a5a5a">1.25</text>
<text x="438.7" y="248.4" font-size="3.5" fill="#5a5a5a">0.625</text>
<text x="444.9" y="244.9" font-size="3.5" fill="#5a5a5a">0.3125</text>
<text x="451.0" y="241.5" font-size="3.5" fill="#5a5a5a">0</text>
<defs><linearGradient id="jetg" x1="0" y1="0" x2="0" y2="1"><stop offset="0.00" stop-color="#000080"/><stop offset="0.05" stop-color="#0000b3"/><stop offset="0.10" stop-color="#0000e6"/><stop offset="0.15" stop-color="#001aff"/><stop offset="0.20" stop-color="#004dff"/><stop offset="0.25" stop-color="#0080ff"/><stop offset="0.30" stop-color="#00b3ff"/><stop offset="0.35" stop-color="#00e5ff"/><stop offset="0.40" stop-color="#1affe5"/><stop offset="0.45" stop-color="#4dffb3"/><stop offset="0.50" stop-color="#80ff80"/><stop offset="0.55" stop-color="#b3ff4c"/><stop offset="0.60" stop-color="#e5ff1a"/><stop offset="0.65" stop-color="#ffe500"/><stop offset="0.70" stop-color="#ffb300"/><stop offset="0.75" stop-color="#ff8000"/><stop offset="0.80" stop-color="#ff4c00"/><stop offset="0.85" stop-color="#ff1a00"/><stop offset="0.90" stop-color="#e50000"/><stop offset="0.95" stop-color="#b30000"/><stop offset="1.00" stop-color="#800000"/></linearGradient></defs><rect x="493.9" y="172.2" width="5.9" height="93.8" fill="url(#jetg)"/>
<rect x="0.5" y="0.5" width="519" height="646" fill="none" stroke="#000" stroke-width="1.2"/>
</svg>
</body></html>
